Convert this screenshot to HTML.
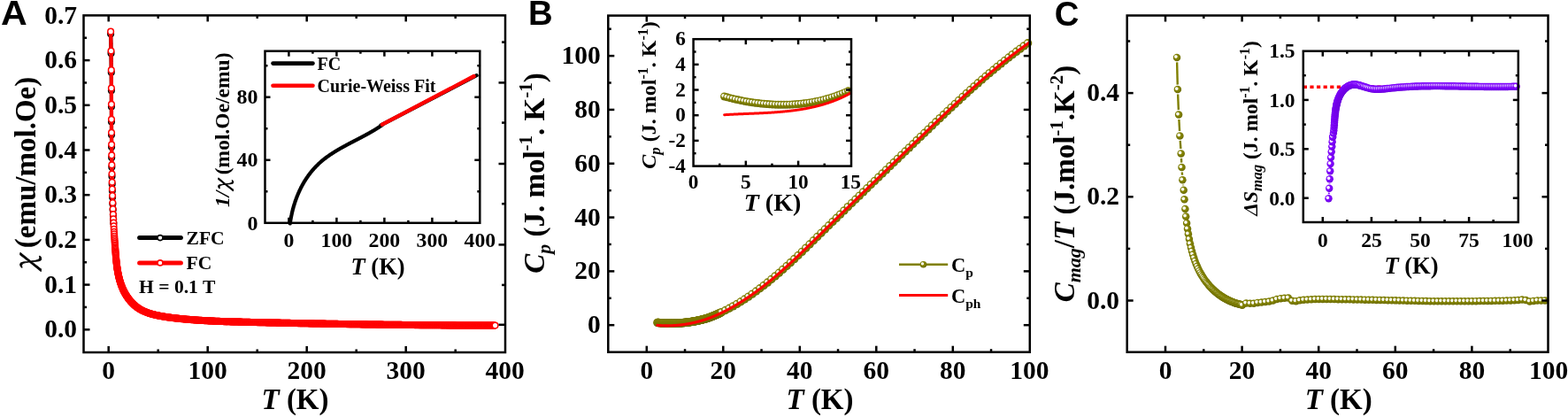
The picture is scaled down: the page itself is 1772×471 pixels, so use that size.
<!DOCTYPE html>
<html><head><meta charset="utf-8"><title>Figure</title>
<style>html,body{margin:0;padding:0;background:#fff;}svg{display:block;}</style></head>
<body><svg width="1772" height="471" viewBox="0 0 1772 471"><defs><radialGradient id="gOl" cx="0.45" cy="0.42" r="0.58">
<stop offset="0" stop-color="#8e8e08"/><stop offset="0.6" stop-color="#808000"/><stop offset="1" stop-color="#686800"/></radialGradient><radialGradient id="gPu" cx="0.45" cy="0.42" r="0.58">
<stop offset="0" stop-color="#8a14ff"/><stop offset="0.6" stop-color="#7f00ff"/><stop offset="1" stop-color="#6a00dc"/></radialGradient><radialGradient id="gHl" cx="0.5" cy="0.5" r="0.5">
<stop offset="0" stop-color="#fff" stop-opacity="1"/><stop offset="0.55" stop-color="#fff" stop-opacity="0.95"/><stop offset="1" stop-color="#fff" stop-opacity="0"/></radialGradient></defs><rect width="1772" height="471" fill="#fff"/><g>
<polyline points="125.11,38.25 125.12,38.66 125.13,39.06 125.14,39.46 125.15,39.87 125.16,40.27 125.17,40.67 125.18,41.08 125.19,41.48 125.2,41.88 125.21,42.29 125.22,42.69 125.23,43.09 125.24,43.49 125.25,43.9 125.25,44.3 125.26,44.7 125.27,45.11 125.28,45.51 125.29,45.91 125.3,46.32 125.31,46.72 125.31,47.12 125.32,47.52 125.33,47.93 125.34,48.33 125.35,48.73 125.35,49.14 125.36,49.54 125.37,49.94 125.38,50.34 125.38,50.75 125.39,51.15 125.4,51.55 125.41,51.95 125.41,52.36 125.42,52.76 125.43,53.16 125.43,53.56 125.44,53.97 125.45,54.37 125.46,54.77 125.46,55.17 125.47,55.58 125.48,55.98 125.48,56.38 125.49,56.78 125.49,57.18 125.5,57.59 125.51,57.99 125.51,58.39 125.52,58.79 125.53,59.19 125.53,59.6 125.54,60 125.54,60.4 125.55,60.8 125.56,61.2 125.56,61.61 125.57,62.01 125.57,62.41 125.58,62.81 125.58,63.21 125.59,63.62 125.59,64.02 125.6,64.42 125.6,64.82 125.61,65.22 125.61,65.62 125.62,66.03 125.62,66.43 125.63,66.83 125.63,67.23 125.64,67.63 125.64,68.03 125.65,68.44 125.65,68.84 125.66,69.24 125.66,69.64 125.67,70.04 125.67,70.44 125.68,70.84 125.68,71.24 125.68,71.65 125.69,72.05 125.69,72.45 125.7,72.85 125.7,73.25 125.71,73.65 125.71,74.05 125.71,74.45 125.72,74.86 125.72,75.26 125.72,75.66 125.73,76.06 125.73,76.46 125.74,76.86 125.74,77.26 125.74,77.66 125.75,78.06 125.75,78.46 125.75,78.87 125.76,79.27 125.76,79.67 125.76,80.07 125.77,80.47 125.77,80.87 125.77,81.27 125.78,81.67 125.78,82.07 125.78,82.47 125.79,82.87 125.79,83.27 125.79,83.67 125.79,84.08 125.8,84.48 125.8,84.88 125.8,85.28 125.8,85.68 125.81,86.08 125.81,86.48 125.81,86.88 125.82,87.28 125.82,87.68 125.82,88.08 125.82,88.48 125.83,88.88 125.83,89.28 125.83,89.68 125.83,90.08 125.83,90.48 125.84,90.88 125.84,91.28 125.84,91.68 125.84,92.08 125.85,92.48 125.85,92.88 125.85,93.28 125.85,93.68 125.85,94.08 125.86,94.48 125.86,94.89 125.86,95.29 125.86,95.69 125.86,96.09 125.86,96.49 125.87,96.89 125.87,97.29 125.87,97.69 125.87,98.09 125.87,98.49 125.87,98.89 125.88,99.29 125.88,99.69 125.88,100.09 125.88,100.49 125.88,100.89 125.88,101.29 125.89,101.69 125.89,102.08 125.89,102.48 125.89,102.88 125.89,103.28 125.89,103.68 125.89,104.08 125.9,104.48 125.9,104.88 125.9,105.28 125.9,105.68 125.9,106.08 125.9,106.48 125.9,106.88 125.9,107.28 125.9,107.68 125.91,108.08 125.91,108.48 125.91,108.88 125.91,109.28 125.91,109.68 125.91,110.08 125.91,110.48 125.91,110.88 125.91,111.28 125.92,111.68 125.92,112.08 125.92,112.48 125.92,112.88 125.92,113.28 125.92,113.67 125.92,114.07 125.92,114.47 125.92,114.87 125.92,115.27 125.93,115.67 125.93,116.07 125.93,116.47 125.93,116.87 125.93,117.27 125.93,117.67 125.93,118.07 125.93,118.47 125.93,118.87 125.93,119.27 125.93,119.67 125.93,120.06 125.94,120.46 125.94,120.86 125.94,121.26 125.94,121.66 125.94,122.06 125.94,122.46 125.94,122.86 125.94,123.26 125.94,123.66 125.94,124.06 125.94,124.46 125.94,124.86 125.94,125.25 125.95,125.65 125.95,126.05 125.95,126.45 125.95,126.85 125.95,127.25 125.95,127.65 125.95,128.05 125.95,128.45 125.95,128.85 125.95,129.25 125.95,129.64 125.95,130.04 125.95,130.44 125.96,130.84 125.96,131.24 125.96,131.64 125.96,132.04 125.96,132.44 125.96,132.84 125.96,133.24 125.96,133.63 125.96,134.03 125.96,134.43 125.96,134.83 125.96,135.23 125.97,135.63 125.97,136.03 125.97,136.43 125.97,136.83 125.97,137.23 125.97,137.62 125.97,138.02 125.97,138.42 125.97,138.82 125.97,139.22 125.98,139.62 125.98,140.02 125.98,140.42 125.98,140.82 125.98,141.21 125.98,141.61 125.98,142.01 125.98,142.41 125.98,142.81 125.99,143.21 125.99,143.61 125.99,144.01 125.99,144.41 125.99,144.8 125.99,145.2 125.99,145.6 125.99,146 125.99,146.4 126,146.8 126,147.2 126,147.6 126,148 126,148.39 126,148.79 126,149.19 126.01,149.59 126.01,149.99 126.01,150.39 126.01,150.79 126.01,151.19 126.01,151.58 126.02,151.98 126.02,152.38 126.02,152.78 126.02,153.18 126.02,153.58 126.02,153.98 126.03,154.38 126.03,154.77 126.03,155.17 126.03,155.57 126.03,155.97 126.04,156.37 126.04,156.77 126.04,157.17 126.04,157.57 126.04,157.97 126.05,158.36 126.05,158.76 126.05,159.16 126.05,159.56 126.05,159.96 126.06,160.36 126.06,160.76 126.06,161.16 126.06,161.55 126.07,161.95 126.07,162.35 126.07,162.75 126.07,163.15 126.08,163.55 126.08,163.95 126.08,164.35 126.08,164.74 126.09,165.14 126.09,165.54 126.09,165.94 126.09,166.34 126.1,166.74 126.1,167.14 126.1,167.54 126.11,167.93 126.11,168.33 126.11,168.73 126.11,169.13 126.12,169.53 126.12,169.93 126.12,170.33 126.13,170.73 126.13,171.13 126.13,171.52 126.14,171.92 126.14,172.32 126.14,172.72 126.15,173.12 126.15,173.52 126.15,173.92 126.16,174.32 126.16,174.71 126.17,175.11 126.17,175.51 126.17,175.91 126.18,176.31 126.18,176.71 126.19,177.11 126.19,177.51 126.19,177.91 126.2,178.3 126.2,178.7 126.21,179.1 126.21,179.5 126.22,179.9 126.22,180.3 126.22,180.7 126.23,181.1 126.23,181.5 126.24,181.9 126.24,182.29 126.25,182.69 126.25,183.09 126.26,183.49 126.26,183.89 126.27,184.29 126.27,184.69 126.28,185.09 126.28,185.49 126.29,185.88 126.29,186.28 126.3,186.68 126.3,187.08 126.31,187.48 126.31,187.88 126.32,188.28 126.33,188.68 126.33,189.08 126.34,189.48 126.34,189.88 126.35,190.27 126.35,190.67 126.36,191.07 126.37,191.47 126.37,191.87 126.38,192.27 126.38,192.67 126.39,193.07 126.4,193.47 126.4,193.87 126.41,194.27 126.42,194.66 126.42,195.06 126.43,195.46 126.44,195.86 126.44,196.26 126.45,196.66 126.46,197.06 126.46,197.46 126.47,197.86 126.48,198.26 126.49,198.66 126.49,199.06 126.5,199.46 126.51,199.86 126.52,200.25 126.52,200.65 126.53,201.05 126.54,201.45 126.55,201.85 126.56,202.25 126.56,202.65 126.57,203.03 126.58,203.41 126.59,203.79 126.6,204.18 126.6,204.56 126.61,204.94 126.62,205.32 126.63,205.71 126.64,206.09 126.65,206.47 126.66,206.85 126.66,207.23 126.67,207.62 126.68,208 126.69,208.38 126.7,208.76 126.71,209.15 126.72,209.53 126.73,209.91 126.74,210.29 126.75,210.67 126.76,211.06 126.77,211.44 126.78,211.82 126.79,212.2 126.8,212.59 126.81,212.97 126.82,213.35 126.83,213.73 126.84,214.12 126.85,214.5 126.86,214.88 126.87,215.26 126.88,215.65 126.89,216.03 126.9,216.41 126.91,216.79 126.93,217.18 126.94,217.56 126.95,217.94 126.96,218.32 126.97,218.71 126.98,219.09 126.99,219.47 127.01,219.85 127.02,220.24 127.03,220.62 127.04,221 127.05,221.39 127.07,221.77 127.08,222.15 127.09,222.53 127.1,222.92 127.12,223.3 127.13,223.68 127.14,224.07 127.15,224.45 127.17,224.83 127.18,225.21 127.19,225.6 127.21,225.98 127.22,226.36 127.23,226.75 127.25,227.13 127.26,227.51 127.27,227.89 127.29,228.28 127.3,228.66 127.32,229.04 127.33,229.43 127.35,229.81 127.36,230.19 127.37,230.58 127.39,230.96 127.4,231.34 127.42,231.73 127.43,232.11 127.45,232.49 127.46,232.88 127.48,233.26 127.49,233.64 127.51,234.02 127.52,234.41 127.54,234.79 127.56,235.17 127.57,235.56 127.59,235.94 127.6,236.33 127.62,236.71 127.64,237.09 127.65,237.48 127.67,237.86 127.69,238.24 127.7,238.63 127.72,239.01 127.74,239.39 127.75,239.78 127.77,240.16 127.79,240.54 127.81,240.93 127.82,241.31 127.84,241.69 127.86,242.08 127.88,242.46 127.89,242.85 127.91,243.23 127.93,243.61 127.95,244 127.97,244.38 127.99,244.77 128,245.15 128.02,245.53 128.04,245.92 128.06,246.3 128.08,246.68 128.1,247.07 128.12,247.45 128.14,247.84 128.16,248.22 128.18,248.61 128.2,248.99 128.22,249.37 128.24,249.76 128.26,250.14 128.28,250.53 128.3,250.91 128.32,251.29 128.34,251.68 128.36,252.06 128.38,252.45 128.4,252.83 128.42,253.22 128.45,253.6 128.47,253.98 128.49,254.37 128.51,254.75 128.53,255.14" fill="none" stroke="#000" stroke-width="4.2" stroke-linejoin="round" stroke-linecap="round" stroke-linecap="butt"/>
<g fill="#fff" stroke="#000" stroke-width="1.5"><circle cx="125.11" cy="38.25" r="3.3"/><circle cx="125.54" cy="60.15" r="3.3"/><circle cx="125.78" cy="81.75" r="3.3"/><circle cx="125.89" cy="102.15" r="3.3"/><circle cx="125.94" cy="120.45" r="3.3"/><circle cx="125.97" cy="137.46" r="3.3"/><circle cx="126.02" cy="152.36" r="3.3"/><circle cx="126.09" cy="165.97" r="3.3"/><circle cx="126.19" cy="177.97" r="3.3"/><circle cx="126.33" cy="188.87" r="3.3"/><circle cx="126.5" cy="199.17" r="3.3"/><circle cx="126.69" cy="208.12" r="3.3"/><circle cx="126.88" cy="215.59" r="3.3"/><circle cx="127.1" cy="222.76" r="3.3"/><circle cx="127.36" cy="230.31" r="3.3"/><circle cx="127.63" cy="237.01" r="3.3"/><circle cx="127.89" cy="242.79" r="3.3"/><circle cx="128.13" cy="247.76" r="3.3"/><circle cx="128.36" cy="251.98" r="3.3"/></g>
<polyline points="125.11,35.65 125.12,36.06 125.13,36.46 125.14,36.86 125.15,37.27 125.16,37.67 125.17,38.07 125.18,38.48 125.19,38.88 125.2,39.28 125.21,39.69 125.22,40.09 125.23,40.49 125.24,40.89 125.25,41.3 125.25,41.7 125.26,42.1 125.27,42.51 125.28,42.91 125.29,43.31 125.3,43.72 125.31,44.12 125.31,44.52 125.32,44.92 125.33,45.33 125.34,45.73 125.35,46.13 125.35,46.54 125.36,46.94 125.37,47.34 125.38,47.74 125.38,48.15 125.39,48.55 125.4,48.95 125.41,49.35 125.41,49.76 125.42,50.16 125.43,50.56 125.43,50.96 125.44,51.37 125.45,51.77 125.46,52.17 125.46,52.57 125.47,52.98 125.48,53.38 125.48,53.78 125.49,54.18 125.49,54.58 125.5,54.99 125.51,55.39 125.51,55.79 125.52,56.19 125.53,56.59 125.53,57 125.54,57.4 125.54,57.8 125.55,58.2 125.56,58.6 125.56,59.01 125.57,59.41 125.57,59.81 125.58,60.21 125.58,60.61 125.59,61.02 125.59,61.42 125.6,61.82 125.6,62.22 125.61,62.62 125.61,63.02 125.62,63.43 125.62,63.83 125.63,64.23 125.63,64.63 125.64,65.03 125.64,65.43 125.65,65.84 125.65,66.24 125.66,66.64 125.66,67.04 125.67,67.44 125.67,67.84 125.68,68.24 125.68,68.64 125.68,69.05 125.69,69.45 125.69,69.85 125.7,70.25 125.7,70.65 125.71,71.05 125.71,71.45 125.71,71.85 125.72,72.26 125.72,72.66 125.72,73.06 125.73,73.46 125.73,73.86 125.74,74.26 125.74,74.66 125.74,75.06 125.75,75.46 125.75,75.86 125.75,76.27 125.76,76.67 125.76,77.07 125.76,77.47 125.77,77.87 125.77,78.27 125.77,78.67 125.78,79.07 125.78,79.47 125.78,79.87 125.79,80.27 125.79,80.67 125.79,81.07 125.79,81.48 125.8,81.88 125.8,82.28 125.8,82.68 125.8,83.08 125.81,83.48 125.81,83.88 125.81,84.28 125.82,84.68 125.82,85.08 125.82,85.48 125.82,85.88 125.83,86.28 125.83,86.68 125.83,87.08 125.83,87.48 125.83,87.88 125.84,88.28 125.84,88.68 125.84,89.08 125.84,89.48 125.85,89.88 125.85,90.28 125.85,90.68 125.85,91.08 125.85,91.48 125.86,91.88 125.86,92.29 125.86,92.69 125.86,93.09 125.86,93.49 125.86,93.89 125.87,94.29 125.87,94.69 125.87,95.09 125.87,95.49 125.87,95.89 125.87,96.29 125.88,96.69 125.88,97.09 125.88,97.49 125.88,97.89 125.88,98.29 125.88,98.69 125.89,99.09 125.89,99.48 125.89,99.88 125.89,100.28 125.89,100.68 125.89,101.08 125.89,101.48 125.9,101.88 125.9,102.28 125.9,102.68 125.9,103.08 125.9,103.48 125.9,103.88 125.9,104.28 125.9,104.68 125.9,105.08 125.91,105.48 125.91,105.88 125.91,106.28 125.91,106.68 125.91,107.08 125.91,107.48 125.91,107.88 125.91,108.28 125.91,108.68 125.92,109.08 125.92,109.48 125.92,109.88 125.92,110.28 125.92,110.68 125.92,111.07 125.92,111.47 125.92,111.87 125.92,112.27 125.92,112.67 125.93,113.07 125.93,113.47 125.93,113.87 125.93,114.27 125.93,114.67 125.93,115.07 125.93,115.47 125.93,115.87 125.93,116.27 125.93,116.67 125.93,117.07 125.93,117.46 125.94,117.86 125.94,118.26 125.94,118.66 125.94,119.06 125.94,119.46 125.94,119.86 125.94,120.26 125.94,120.66 125.94,121.06 125.94,121.46 125.94,121.86 125.94,122.26 125.94,122.65 125.95,123.05 125.95,123.45 125.95,123.85 125.95,124.25 125.95,124.65 125.95,125.05 125.95,125.45 125.95,125.85 125.95,126.25 125.95,126.65 125.95,127.04 125.95,127.44 125.95,127.84 125.96,128.24 125.96,128.64 125.96,129.04 125.96,129.44 125.96,129.84 125.96,130.24 125.96,130.64 125.96,131.03 125.96,131.43 125.96,131.83 125.96,132.23 125.96,132.63 125.97,133.03 125.97,133.43 125.97,133.83 125.97,134.23 125.97,134.63 125.97,135.02 125.97,135.42 125.97,135.82 125.97,136.22 125.97,136.62 125.98,137.02 125.98,137.42 125.98,137.82 125.98,138.22 125.98,138.61 125.98,139.01 125.98,139.41 125.98,139.81 125.98,140.21 125.99,140.61 125.99,141.01 125.99,141.41 125.99,141.81 125.99,142.2 125.99,142.6 125.99,143 125.99,143.4 125.99,143.8 126,144.2 126,144.6 126,145 126,145.4 126,145.79 126,146.19 126,146.59 126.01,146.99 126.01,147.39 126.01,147.79 126.01,148.19 126.01,148.59 126.01,148.98 126.02,149.38 126.02,149.78 126.02,150.18 126.02,150.58 126.02,150.98 126.02,151.38 126.03,151.78 126.03,152.17 126.03,152.57 126.03,152.97 126.03,153.37 126.04,153.77 126.04,154.17 126.04,154.57 126.04,154.97 126.04,155.37 126.05,155.76 126.05,156.16 126.05,156.56 126.05,156.96 126.05,157.36 126.06,157.76 126.06,158.16 126.06,158.56 126.06,158.95 126.07,159.35 126.07,159.75 126.07,160.15 126.07,160.55 126.08,160.95 126.08,161.35 126.08,161.75 126.08,162.14 126.09,162.54 126.09,162.94 126.09,163.34 126.09,163.74 126.1,164.14 126.1,164.54 126.1,164.94 126.11,165.33 126.11,165.73 126.11,166.13 126.11,166.53 126.12,166.93 126.12,167.33 126.12,167.73 126.13,168.13 126.13,168.53 126.13,168.92 126.14,169.32 126.14,169.72 126.14,170.12 126.15,170.52 126.15,170.92 126.15,171.32 126.16,171.72 126.16,172.11 126.17,172.51 126.17,172.91 126.17,173.31 126.18,173.71 126.18,174.11 126.19,174.51 126.19,174.91 126.19,175.31 126.2,175.7 126.2,176.1 126.21,176.5 126.21,176.9 126.22,177.3 126.22,177.7 126.22,178.1 126.23,178.5 126.23,178.9 126.24,179.3 126.24,179.69 126.25,180.09 126.25,180.49 126.26,180.89 126.26,181.29 126.27,181.69 126.27,182.09 126.28,182.49 126.28,182.89 126.29,183.28 126.29,183.68 126.3,184.08 126.3,184.48 126.31,184.88 126.31,185.28 126.32,185.68 126.33,186.08 126.33,186.48 126.34,186.88 126.34,187.28 126.35,187.67 126.35,188.07 126.36,188.47 126.37,188.87 126.37,189.27 126.38,189.67 126.38,190.07 126.39,190.47 126.4,190.87 126.4,191.27 126.41,191.67 126.42,192.06 126.42,192.46 126.43,192.86 126.44,193.26 126.44,193.66 126.45,194.06 126.46,194.46 126.46,194.86 126.47,195.26 126.48,195.66 126.49,196.06 126.49,196.46 126.5,196.86 126.51,197.26 126.52,197.65 126.52,198.05 126.53,198.45 126.54,198.85 126.55,199.25 126.56,199.65 126.56,200.05 126.57,200.45 126.58,200.85 126.59,201.25 126.6,201.65 126.6,202.05 126.61,202.45 126.62,202.85 126.63,203.25 126.64,203.65 126.65,204.05 126.66,204.44 126.66,204.84 126.67,205.24 126.68,205.64 126.69,206.04 126.7,206.44 126.71,206.84 126.72,207.24 126.73,207.64 126.74,208.04 126.75,208.44 126.76,208.84 126.77,209.24 126.78,209.64 126.79,210.04 126.8,210.44 126.81,210.84 126.82,211.24 126.83,211.64 126.84,212.04 126.85,212.44 126.86,212.84 126.87,213.24 126.88,213.64 126.89,214.04 126.9,214.44 126.91,214.84 126.93,215.24 126.94,215.64 126.95,216.04 126.96,216.44 126.97,216.84 126.98,217.24 126.99,217.64 127.01,218.04 127.02,218.44 127.03,218.84 127.04,219.24 127.05,219.64 127.07,220.04 127.08,220.44 127.09,220.84 127.1,221.24 127.12,221.64 127.13,222.04 127.14,222.44 127.15,222.84 127.17,223.24 127.18,223.64 127.19,224.04 127.21,224.44 127.22,224.84 127.23,225.24 127.25,225.64 127.26,226.04 127.27,226.44 127.29,226.84 127.3,227.24 127.32,227.64 127.33,228.04 127.35,228.44 127.36,228.84 127.37,229.24 127.39,229.64 127.4,230.04 127.42,230.44 127.43,230.85 127.45,231.25 127.46,231.65 127.48,232.05 127.49,232.45 127.51,232.85 127.52,233.25 127.54,233.65 127.56,234.05 127.57,234.45 127.59,234.85 127.6,235.25 127.62,235.65 127.64,236.05 127.65,236.46 127.67,236.86 127.69,237.26 127.7,237.66 127.72,238.06 127.74,238.46 127.75,238.86 127.77,239.26 127.79,239.66 127.81,240.06 127.82,240.46 127.84,240.87 127.86,241.27 127.88,241.67 127.89,242.07 127.91,242.47 127.93,242.87 127.95,243.27 127.97,243.67 127.99,244.08 128,244.48 128.02,244.88 128.04,245.28 128.06,245.68 128.08,246.08 128.1,246.48 128.12,246.88 128.14,247.29 128.16,247.69 128.18,248.09 128.2,248.49 128.22,248.89 128.24,249.29 128.26,249.7 128.28,250.1 128.3,250.5 128.32,250.9 128.34,251.3 128.36,251.7 128.38,252.1 128.4,252.51 128.42,252.91 128.45,253.31 128.47,253.71 128.49,254.11 128.51,254.52 128.53,254.92 128.55,255.32 128.58,255.72 128.6,256.12 128.62,256.53 128.64,256.93 128.67,257.33 128.69,257.73 128.71,258.13 128.74,258.54 128.76,258.94 128.78,259.34 128.81,259.74 128.83,260.14 128.85,260.55 128.88,260.95 128.9,261.35 128.92,261.75 128.95,262.16 128.97,262.56 129,262.96 129.02,263.36 129.05,263.77 129.07,264.17 129.1,264.57 129.12,264.97 129.15,265.38 129.17,265.78 129.2,266.18 129.22,266.58 129.25,266.99 129.28,267.39 129.3,267.79 129.33,268.2 129.35,268.6 129.38,269 129.41,269.4 129.43,269.81 129.46,270.21 129.49,270.61 129.52,271.02 129.54,271.42 129.57,271.82 129.6,272.22 129.63,272.63 129.65,273.03 129.68,273.43 129.71,273.84 129.74,274.24 129.77,274.64 129.8,275.05 129.83,275.45 129.86,275.85 129.88,276.26 129.91,276.66 129.94,277.06 129.97,277.47 130,277.87 130.03,278.27 130.06,278.68 130.09,279.08 130.12,279.49 130.15,279.89 130.18,280.29 130.22,280.7 130.25,281.1 130.28,281.5 130.31,281.91 130.34,282.31 130.37,282.72 130.4,283.12 130.44,283.52 130.47,283.93 130.5,284.33 130.53,284.74 130.56,285.14 130.6,285.54 130.63,285.95 130.66,286.35 130.7,286.76 130.73,287.16 130.76,287.57 130.8,287.97 130.83,288.37 130.87,288.78 130.9,289.18 130.94,289.59 130.97,289.99 131.01,290.39 131.05,290.8 131.08,291.2 131.12,291.6 131.16,292.01 131.2,292.41 131.24,292.81 131.27,293.22 131.31,293.62 131.36,294.02 131.4,294.43 131.44,294.83 131.48,295.23 131.52,295.63 131.57,296.03 131.61,296.44 131.66,296.84 131.7,297.24 131.75,297.64 131.8,298.04 131.84,298.44 131.89,298.84 131.94,299.24 131.99,299.64 132.05,300.04 132.1,300.44 132.15,300.84 132.21,301.24 132.26,301.63 132.32,302.03 132.37,302.43 132.43,302.83 132.49,303.22 132.55,303.62 132.61,304.02 132.67,304.41 132.74,304.81 132.8,305.2 132.87,305.6 132.93,305.99 133,306.38 133.07,306.78 133.14,307.17 133.21,307.56 133.29,307.95 133.36,308.34 133.44,308.73 133.51,309.13 133.59,309.51 133.67,309.9 133.75,310.29 133.83,310.68 133.92,311.07 134,311.46 134.09,311.84 134.18,312.23 134.27,312.61 134.36,313 134.45,313.38 134.55,313.77 134.64,314.15 134.74,314.53 134.84,314.91 134.94,315.3 135.04,315.68 135.15,316.06 135.25,316.43 135.36,316.81 135.47,317.19 135.58,317.57 135.69,317.94 135.81,318.32 135.92,318.7 136.04,319.07 136.16,319.44 136.28,319.82 136.41,320.19 136.53,320.56 136.66,320.93 136.79,321.3 136.92,321.67 137.05,322.04 137.19,322.4 137.33,322.77 137.47,323.14 137.61,323.5 137.75,323.87 137.9,324.23 138.05,324.59 138.2,324.95 138.35,325.31 138.5,325.67 138.66,326.03 138.82,326.39 138.98,326.75 139.14,327.1 139.31,327.46 139.48,327.81 139.65,328.16 139.82,328.52 139.99,328.87 140.17,329.22 140.35,329.57 140.53,329.92 140.72,330.26 140.91,330.61 141.1,330.96 141.29,331.3 141.48,331.64 141.68,331.99 141.88,332.33 142.08,332.67 142.29,333.01 142.49,333.34 142.7,333.68 142.92,334.02 143.13,334.35 143.35,334.68 143.57,335.02 143.8,335.35 144.02,335.68 144.25,336.01 144.48,336.33 144.72,336.66 144.95,336.98 145.19,337.31 145.43,337.63 145.68,337.95 145.93,338.26 146.18,338.58 146.43,338.89 146.68,339.21 146.94,339.52 147.2,339.82 147.46,340.13 147.73,340.44 147.99,340.74 148.26,341.04 148.53,341.34 148.81,341.63 149.09,341.93 149.36,342.22 149.65,342.51 149.93,342.79 150.22,343.08 150.51,343.36 150.8,343.64 151.09,343.92 151.39,344.19 151.68,344.46 151.98,344.73 152.29,344.99 152.59,345.26 152.9,345.52 153.21,345.77 153.52,346.03 153.83,346.28 154.15,346.53 154.47,346.77 154.79,347.01 155.11,347.25 155.44,347.48 155.76,347.72 156.09,347.94 156.42,348.17 156.76,348.39 157.09,348.61 157.43,348.82 157.77,349.03 158.11,349.24 158.46,349.44 158.8,349.64 159.15,349.84 159.5,350.03 159.85,350.22 160.2,350.41 160.56,350.59 160.91,350.77 161.27,350.95 161.63,351.12 161.99,351.3 162.36,351.46 162.72,351.63 163.09,351.79 163.46,351.95 163.83,352.11 164.2,352.26 164.57,352.41 164.94,352.56 165.32,352.71 165.69,352.85 166.07,352.99 166.45,353.13 166.83,353.27 167.21,353.4 167.59,353.53 167.97,353.66 168.36,353.79 168.74,353.91 169.13,354.03 169.51,354.15 169.9,354.27 170.29,354.39 170.68,354.5 171.07,354.61 171.46,354.72 171.85,354.83 172.24,354.93 172.63,355.04 173.03,355.14 173.42,355.24 173.81,355.34 174.21,355.44 174.6,355.53 175,355.63 175.39,355.72 175.79,355.81 176.19,355.9 176.58,355.99 176.98,356.07 177.38,356.16 177.77,356.24 178.17,356.32 178.57,356.41 178.97,356.49 179.36,356.57 179.76,356.64 180.16,356.72 180.56,356.8 180.95,356.87 181.35,356.95 181.75,357.02 182.14,357.09 182.54,357.16 182.94,357.23 183.33,357.3 183.73,357.37 184.13,357.44 184.52,357.51 184.92,357.57 185.32,357.64 185.71,357.7 186.11,357.76 186.51,357.83 186.9,357.89 187.3,357.95 187.69,358.01 188.09,358.07 188.49,358.13 188.88,358.19 189.28,358.25 189.67,358.3 190.07,358.36 190.46,358.41 190.86,358.47 191.26,358.52 191.65,358.58 192.05,358.63 192.44,358.68 192.84,358.73 193.24,358.78 193.63,358.83 194.03,358.88 194.42,358.93 194.82,358.98 195.21,359.03 195.61,359.08 196.01,359.13 196.4,359.17 196.8,359.22 197.19,359.27 197.59,359.31 197.99,359.36 198.38,359.4 198.78,359.45 199.17,359.49 199.57,359.54 199.97,359.58 200.36,359.62 200.76,359.67 201.15,359.71 201.55,359.75 201.95,359.79 202.34,359.83 202.74,359.88 203.14,359.92 203.53,359.96 203.93,360 204.33,360.04 204.72,360.08 205.12,360.12 205.52,360.16 205.91,360.2 206.31,360.23 206.71,360.27 207.1,360.31 207.5,360.35 207.9,360.39 208.29,360.42 208.69,360.46 209.09,360.5 209.49,360.53 209.88,360.57 210.28,360.6 210.68,360.64 211.07,360.67 211.47,360.71 211.87,360.74 212.27,360.78 212.66,360.81 213.06,360.85 213.46,360.88 213.86,360.91 214.25,360.94 214.65,360.98 215.05,361.01 215.45,361.04 215.85,361.07 216.24,361.11 216.64,361.14 217.04,361.17 217.44,361.2 217.84,361.23 218.23,361.26 218.63,361.29 219.03,361.32 219.43,361.35 219.83,361.38 220.22,361.41 220.62,361.44 221.02,361.46 221.42,361.49 221.82,361.52 222.22,361.55 222.61,361.58 223.01,361.6 223.41,361.63 223.81,361.66 224.21,361.68 224.61,361.71 225,361.74 225.4,361.76 225.8,361.79 226.2,361.81 226.6,361.84 227,361.86 227.4,361.89 227.8,361.91 228.19,361.94 228.59,361.96 228.99,361.99 229.39,362.01 229.79,362.03 230.19,362.06 230.59,362.08 230.99,362.1 231.39,362.13 231.78,362.15 232.18,362.17 232.58,362.19 232.98,362.22 233.38,362.24 233.78,362.26 234.18,362.28 234.58,362.3 234.98,362.32 235.38,362.34 235.78,362.36 236.18,362.39 236.58,362.41 236.97,362.43 237.37,362.45 237.77,362.47 238.17,362.48 238.57,362.5 238.97,362.52 239.37,362.54 239.77,362.56 240.17,362.58 240.57,362.6 240.97,362.62 241.37,362.64 241.77,362.65 242.17,362.67 242.57,362.69 242.97,362.71 243.37,362.72 243.77,362.74 244.17,362.76 244.57,362.78 244.97,362.79 245.37,362.81 245.77,362.83 246.17,362.84 246.57,362.86 246.97,362.87 247.37,362.89 247.77,362.91 248.17,362.92 248.57,362.94 248.97,362.95 249.37,362.97 249.77,362.98 250.17,363 250.57,363.01 250.97,363.03 251.37,363.04 251.77,363.06 252.17,363.07 252.57,363.08 252.97,363.1 253.37,363.11 253.77,363.13 254.17,363.14 254.57,363.15 254.97,363.17 255.37,363.18 255.77,363.19 256.17,363.21 256.57,363.22 256.97,363.23 257.37,363.25 257.77,363.26 258.17,363.27 258.57,363.28 258.97,363.3 259.37,363.31 259.77,363.32 260.17,363.33 260.57,363.35 260.97,363.36 261.37,363.37 261.77,363.38 262.17,363.39 262.58,363.4 262.98,363.42 263.38,363.43 263.78,363.44 264.18,363.45 264.58,363.46 264.98,363.47 265.38,363.48 265.78,363.5 266.18,363.51 266.58,363.52 266.98,363.53 267.38,363.54 267.78,363.55 268.18,363.56 268.58,363.57 268.98,363.58 269.38,363.59 269.78,363.6 270.19,363.61 270.59,363.62 270.99,363.63 271.39,363.64 271.79,363.65 272.19,363.66 272.59,363.67 272.99,363.68 273.39,363.69 273.79,363.7 274.19,363.71 274.59,363.72 274.99,363.73 275.39,363.74 275.79,363.75 276.19,363.76 276.59,363.77 277,363.78 277.4,363.79 277.8,363.8 278.2,363.81 278.6,363.82 279,363.83 279.4,363.84 279.8,363.85 280.2,363.86 280.6,363.87 281,363.88 281.4,363.89 281.8,363.9 282.2,363.91 282.6,363.91 283,363.92 283.41,363.93 283.81,363.94 284.21,363.95 284.61,363.96 285.01,363.97 285.41,363.98 285.81,363.99 286.21,364 286.61,364.01 287.01,364.02 287.41,364.03 287.81,364.04 288.21,364.05 288.61,364.05 289.01,364.06 289.41,364.07 289.81,364.08 290.21,364.09 290.62,364.1 291.02,364.11 291.42,364.12 291.82,364.13 292.22,364.14 292.62,364.15 293.02,364.16 293.42,364.17 293.82,364.17 294.22,364.18 294.62,364.19 295.02,364.2 295.42,364.21 295.82,364.22 296.22,364.23 296.62,364.24 297.02,364.25 297.42,364.26 297.82,364.26 298.23,364.27 298.63,364.28 299.03,364.29 299.43,364.3 299.83,364.31 300.23,364.32 300.63,364.33 301.03,364.34 301.43,364.35 301.83,364.35 302.23,364.36 302.63,364.37 303.03,364.38 303.43,364.39 303.83,364.4 304.23,364.41 304.63,364.42 305.03,364.43 305.43,364.43 305.83,364.44 306.23,364.45 306.63,364.46 307.04,364.47 307.44,364.48 307.84,364.49 308.24,364.5 308.64,364.51 309.04,364.51 309.44,364.52 309.84,364.53 310.24,364.54 310.64,364.55 311.04,364.56 311.44,364.57 311.84,364.57 312.24,364.58 312.64,364.59 313.04,364.6 313.44,364.61 313.84,364.62 314.24,364.63 314.64,364.64 315.04,364.64 315.44,364.65 315.84,364.66 316.25,364.67 316.65,364.68 317.05,364.69 317.45,364.7 317.85,364.7 318.25,364.71 318.65,364.72 319.05,364.73 319.45,364.74 319.85,364.75 320.25,364.75 320.65,364.76 321.05,364.77 321.45,364.78 321.85,364.79 322.25,364.8 322.65,364.8 323.05,364.81 323.45,364.82 323.85,364.83 324.25,364.84 324.65,364.85 325.05,364.86 325.45,364.86 325.85,364.87 326.25,364.88 326.65,364.89 327.06,364.9 327.46,364.9 327.86,364.91 328.26,364.92 328.66,364.93 329.06,364.94 329.46,364.95 329.86,364.95 330.26,364.96 330.66,364.97 331.06,364.98 331.46,364.99 331.86,364.99 332.26,365 332.66,365.01 333.06,365.02 333.46,365.03 333.86,365.04 334.26,365.04 334.66,365.05 335.06,365.06 335.46,365.07 335.86,365.08 336.26,365.08 336.66,365.09 337.06,365.1 337.46,365.11 337.86,365.12 338.26,365.12 338.66,365.13 339.06,365.14 339.47,365.15 339.87,365.16 340.27,365.16 340.67,365.17 341.07,365.18 341.47,365.19 341.87,365.19 342.27,365.2 342.67,365.21 343.07,365.22 343.47,365.23 343.87,365.23 344.27,365.24 344.67,365.25 345.07,365.26 345.47,365.27 345.87,365.27 346.27,365.28 346.67,365.29 347.07,365.3 347.47,365.3 347.87,365.31 348.27,365.32 348.67,365.33 349.07,365.33 349.47,365.34 349.87,365.35 350.27,365.36 350.67,365.36 351.07,365.37 351.47,365.38 351.87,365.39 352.27,365.4 352.67,365.4 353.07,365.41 353.47,365.42 353.87,365.43 354.28,365.43 354.68,365.44 355.08,365.45 355.48,365.46 355.88,365.46 356.28,365.47 356.68,365.48 357.08,365.49 357.48,365.49 357.88,365.5 358.28,365.51 358.68,365.51 359.08,365.52 359.48,365.53 359.88,365.54 360.28,365.54 360.68,365.55 361.08,365.56 361.48,365.57 361.88,365.57 362.28,365.58 362.68,365.59 363.08,365.6 363.48,365.6 363.88,365.61 364.28,365.62 364.68,365.62 365.08,365.63 365.48,365.64 365.88,365.65 366.28,365.65 366.68,365.66 367.08,365.67 367.48,365.67 367.88,365.68 368.28,365.69 368.68,365.7 369.08,365.7 369.48,365.71 369.88,365.72 370.28,365.72 370.68,365.73 371.08,365.74 371.48,365.75 371.88,365.75 372.28,365.76 372.69,365.77 373.09,365.77 373.49,365.78 373.89,365.79 374.29,365.79 374.69,365.8 375.09,365.81 375.49,365.81 375.89,365.82 376.29,365.83 376.69,365.84 377.09,365.84 377.49,365.85 377.89,365.86 378.29,365.86 378.69,365.87 379.09,365.88 379.49,365.88 379.89,365.89 380.29,365.9 380.69,365.9 381.09,365.91 381.49,365.92 381.89,365.92 382.29,365.93 382.69,365.94 383.09,365.94 383.49,365.95 383.89,365.96 384.29,365.96 384.69,365.97 385.09,365.98 385.49,365.98 385.89,365.99 386.29,366 386.69,366 387.09,366.01 387.49,366.02 387.89,366.02 388.29,366.03 388.69,366.04 389.09,366.04 389.49,366.05 389.89,366.05 390.29,366.06 390.69,366.07 391.09,366.07 391.49,366.08 391.89,366.09 392.29,366.09 392.69,366.1 393.09,366.11 393.49,366.11 393.89,366.12 394.29,366.13 394.69,366.13 395.09,366.14 395.49,366.14 395.9,366.15 396.3,366.16 396.7,366.16 397.1,366.17 397.5,366.18 397.9,366.18 398.3,366.19 398.7,366.19 399.1,366.2 399.5,366.21 399.9,366.21 400.3,366.22 400.7,366.22 401.1,366.23 401.5,366.24 401.9,366.24 402.3,366.25 402.7,366.25 403.1,366.26 403.5,366.27 403.9,366.27 404.3,366.28 404.7,366.29 405.1,366.29 405.5,366.3 405.9,366.3 406.3,366.31 406.7,366.31 407.1,366.32 407.5,366.33 407.9,366.33 408.3,366.34 408.7,366.34 409.1,366.35 409.5,366.36 409.9,366.36 410.3,366.37 410.7,366.37 411.1,366.38 411.5,366.39 411.9,366.39 412.3,366.4 412.7,366.4 413.1,366.41 413.5,366.41 413.9,366.42 414.3,366.43 414.7,366.43 415.1,366.44 415.5,366.44 415.9,366.45 416.3,366.45 416.7,366.46 417.1,366.46 417.5,366.47 417.9,366.48 418.3,366.48 418.7,366.49 419.1,366.49 419.5,366.5 419.9,366.5 420.3,366.51 420.7,366.51 421.1,366.52 421.5,366.53 421.9,366.53 422.3,366.54 422.7,366.54 423.1,366.55 423.51,366.55 423.91,366.56 424.31,366.56 424.71,366.57 425.11,366.57 425.51,366.58 425.91,366.58 426.31,366.59 426.71,366.6 427.11,366.6 427.51,366.61 427.91,366.61 428.31,366.62 428.71,366.62 429.11,366.63 429.51,366.63 429.91,366.64 430.31,366.64 430.71,366.65 431.11,366.65 431.51,366.66 431.91,366.66 432.31,366.67 432.71,366.67 433.11,366.68 433.51,366.68 433.91,366.69 434.31,366.69 434.71,366.7 435.11,366.7 435.51,366.71 435.91,366.71 436.31,366.72 436.71,366.72 437.11,366.73 437.51,366.73 437.91,366.74 438.31,366.74 438.71,366.75 439.11,366.75 439.51,366.76 439.91,366.76 440.31,366.77 440.71,366.77 441.11,366.78 441.51,366.78 441.91,366.79 442.31,366.79 442.71,366.8 443.11,366.8 443.51,366.81 443.91,366.81 444.31,366.82 444.71,366.82 445.11,366.82 445.51,366.83 445.91,366.83 446.31,366.84 446.71,366.84 447.11,366.85 447.51,366.85 447.91,366.86 448.31,366.86 448.71,366.87 449.11,366.87 449.51,366.88 449.91,366.88 450.31,366.88 450.72,366.89 451.12,366.89 451.52,366.9 451.92,366.9 452.32,366.91 452.72,366.91 453.12,366.92 453.52,366.92 453.92,366.92 454.32,366.93 454.72,366.93 455.12,366.94 455.52,366.94 455.92,366.95 456.32,366.95 456.72,366.95 457.12,366.96 457.52,366.96 457.92,366.97 458.32,366.97 458.72,366.98 459.12,366.98 459.52,366.98 459.92,366.99 460.32,366.99 460.72,367 461.12,367 461.52,367.01 461.92,367.01 462.32,367.01 462.72,367.02 463.12,367.02 463.52,367.03 463.92,367.03 464.32,367.03 464.72,367.04 465.12,367.04 465.52,367.05 465.92,367.05 466.32,367.05 466.72,367.06 467.12,367.06 467.52,367.07 467.92,367.07 468.32,367.07 468.72,367.08 469.12,367.08 469.52,367.08 469.92,367.09 470.32,367.09 470.72,367.1 471.12,367.1 471.52,367.1 471.92,367.11 472.32,367.11 472.72,367.11 473.13,367.12 473.53,367.12 473.93,367.13 474.33,367.13 474.73,367.13 475.13,367.14 475.53,367.14 475.93,367.14 476.33,367.15 476.73,367.15 477.13,367.16 477.53,367.16 477.93,367.16 478.33,367.17 478.73,367.17 479.13,367.17 479.53,367.18 479.93,367.18 480.33,367.18 480.73,367.19 481.13,367.19 481.53,367.19 481.93,367.2 482.33,367.2 482.73,367.2 483.13,367.21 483.53,367.21 483.93,367.21 484.33,367.22 484.73,367.22 485.13,367.22 485.53,367.23 485.93,367.23 486.33,367.23 486.73,367.24 487.13,367.24 487.53,367.24 487.93,367.25 488.33,367.25 488.73,367.25 489.13,367.26 489.53,367.26 489.93,367.26 490.33,367.27 490.74,367.27 491.14,367.27 491.54,367.27 491.94,367.28 492.34,367.28 492.74,367.28 493.14,367.29 493.54,367.29 493.94,367.29 494.34,367.3 494.74,367.3 495.14,367.3 495.54,367.3 495.94,367.31 496.34,367.31 496.74,367.31 497.14,367.32 497.54,367.32 497.94,367.32 498.34,367.32 498.74,367.33 499.14,367.33 499.54,367.33 499.94,367.34 500.34,367.34 500.74,367.34 501.14,367.34 501.54,367.35 501.94,367.35 502.34,367.35 502.74,367.35 503.14,367.36 503.54,367.36 503.94,367.36 504.34,367.36 504.74,367.37 505.15,367.37 505.55,367.37 505.95,367.37 506.35,367.38 506.75,367.38 507.15,367.38 507.55,367.38 507.95,367.39 508.35,367.39 508.75,367.39 509.15,367.39 509.55,367.4 509.95,367.4 510.35,367.4 510.75,367.4 511.15,367.41 511.55,367.41 511.95,367.41 512.35,367.41 512.75,367.42 513.15,367.42 513.55,367.42 513.95,367.42 514.35,367.42 514.75,367.43 515.15,367.43 515.55,367.43 515.95,367.43 516.35,367.44 516.75,367.44 517.15,367.44 517.56,367.44 517.96,367.44 518.36,367.45 518.76,367.45 519.16,367.45 519.56,367.45 519.96,367.45 520.36,367.46 520.76,367.46 521.16,367.46 521.56,367.46 521.96,367.46 522.36,367.47 522.76,367.47 523.16,367.47 523.56,367.47 523.96,367.47 524.36,367.47 524.76,367.48 525.16,367.48 525.56,367.48 525.96,367.48 526.36,367.48 526.76,367.49 527.16,367.49 527.56,367.49 527.97,367.49 528.37,367.49 528.77,367.49 529.17,367.5 529.57,367.5 529.97,367.5 530.37,367.5 530.77,367.5 531.17,367.5 531.57,367.51 531.97,367.51 532.37,367.51 532.77,367.51 533.17,367.51 533.57,367.51 533.97,367.51 534.37,367.52 534.77,367.52 535.17,367.52 535.57,367.52 535.97,367.52 536.37,367.52 536.77,367.52 537.18,367.53 537.58,367.53 537.98,367.53 538.38,367.53 538.78,367.53 539.18,367.53 539.58,367.53 539.98,367.53 540.38,367.54 540.78,367.54 541.18,367.54 541.58,367.54 541.98,367.54 542.38,367.54 542.78,367.54 543.18,367.54 543.58,367.55 543.98,367.55 544.38,367.55 544.78,367.55 545.18,367.55 545.59,367.55 545.99,367.55 546.39,367.55 546.79,367.55 547.19,367.55 547.59,367.56 547.99,367.56 548.39,367.56 548.79,367.56 549.19,367.56 549.59,367.56 549.99,367.56 550.39,367.56 550.79,367.56 551.19,367.56 551.59,367.56 551.99,367.56 552.39,367.57 552.79,367.57 553.2,367.57 553.6,367.57 554,367.57 554.4,367.57 554.8,367.57 555.2,367.57 555.6,367.57 556,367.57 556.4,367.57 556.8,367.57 557.2,367.57 557.6,367.57 558,367.57 558.4,367.57 558.8,367.57 559.2,367.58 559.6,367.58" fill="none" stroke="#ff0000" stroke-width="4.2" stroke-linejoin="round" stroke-linecap="round" />
<g fill="#fff" stroke="#ff0000" stroke-width="1.5"><circle cx="125.11" cy="35.65" r="3.3"/><circle cx="125.54" cy="57.55" r="3.3"/><circle cx="125.78" cy="79.15" r="3.3"/><circle cx="125.89" cy="99.55" r="3.3"/><circle cx="125.94" cy="117.85" r="3.3"/><circle cx="125.97" cy="134.86" r="3.3"/><circle cx="126.02" cy="149.76" r="3.3"/><circle cx="126.09" cy="163.37" r="3.3"/><circle cx="126.19" cy="175.37" r="3.3"/><circle cx="126.33" cy="186.27" r="3.3"/><circle cx="126.5" cy="196.57" r="3.3"/><circle cx="126.69" cy="205.77" r="3.3"/><circle cx="126.88" cy="213.57" r="3.3"/><circle cx="127.1" cy="221.07" r="3.3"/><circle cx="127.36" cy="228.97" r="3.3"/><circle cx="127.63" cy="235.97" r="3.3"/><circle cx="127.89" cy="242.01" r="3.3"/><circle cx="128.13" cy="247.2" r="3.3"/><circle cx="128.36" cy="251.62" r="3.3"/><circle cx="128.56" cy="255.42" r="3.3"/><circle cx="128.75" cy="258.78" r="3.3"/><circle cx="128.92" cy="261.75" r="3.3"/><circle cx="129.08" cy="264.38" r="3.3"/><circle cx="129.24" cy="266.8" r="3.3"/><circle cx="129.38" cy="269.05" r="3.3"/><circle cx="129.52" cy="271.14" r="3.3"/><circle cx="129.66" cy="273.07" r="3.3"/><circle cx="129.78" cy="274.87" r="3.3"/><circle cx="129.9" cy="276.53" r="3.3"/><circle cx="130.02" cy="278.08" r="3.3"/><circle cx="130.13" cy="279.51" r="3.3"/><circle cx="130.23" cy="280.85" r="3.3"/><circle cx="130.33" cy="282.12" r="3.3"/><circle cx="130.42" cy="283.36" r="3.3"/><circle cx="130.52" cy="284.58" r="3.3"/><circle cx="130.61" cy="285.76" r="3.3"/><circle cx="130.71" cy="286.91" r="3.3"/><circle cx="130.8" cy="288.03" r="3.3"/><circle cx="130.9" cy="289.13" r="3.3"/><circle cx="130.99" cy="290.2" r="3.3"/><circle cx="131.09" cy="291.24" r="3.3"/><circle cx="131.18" cy="292.25" r="3.3"/><circle cx="131.28" cy="293.24" r="3.3"/><circle cx="131.37" cy="294.2" r="3.3"/><circle cx="131.47" cy="295.14" r="3.3"/><circle cx="131.57" cy="296.06" r="3.3"/><circle cx="131.67" cy="296.95" r="3.3"/><circle cx="131.77" cy="297.82" r="3.3"/><circle cx="131.87" cy="298.67" r="3.3"/><circle cx="131.98" cy="299.5" r="3.3"/><circle cx="132.08" cy="300.3" r="3.3"/><circle cx="132.17" cy="301" r="3.3"/><circle cx="132.27" cy="301.69" r="3.3"/><circle cx="132.37" cy="302.39" r="3.3"/><circle cx="132.47" cy="303.08" r="3.3"/><circle cx="132.57" cy="303.77" r="3.3"/><circle cx="132.68" cy="304.46" r="3.3"/><circle cx="132.79" cy="305.15" r="3.3"/><circle cx="132.91" cy="305.84" r="3.3"/><circle cx="133.03" cy="306.53" r="3.3"/><circle cx="133.15" cy="307.22" r="3.3"/><circle cx="133.28" cy="307.91" r="3.3"/><circle cx="133.41" cy="308.6" r="3.3"/><circle cx="133.55" cy="309.28" r="3.3"/><circle cx="133.69" cy="309.97" r="3.3"/><circle cx="133.83" cy="310.66" r="3.3"/><circle cx="133.98" cy="311.34" r="3.3"/><circle cx="134.13" cy="312.02" r="3.3"/><circle cx="134.29" cy="312.7" r="3.3"/><circle cx="134.45" cy="313.39" r="3.3"/><circle cx="134.62" cy="314.06" r="3.3"/><circle cx="134.79" cy="314.74" r="3.3"/><circle cx="134.97" cy="315.42" r="3.3"/><circle cx="135.16" cy="316.1" r="3.3"/><circle cx="135.35" cy="316.77" r="3.3"/><circle cx="135.54" cy="317.44" r="3.3"/><circle cx="135.74" cy="318.11" r="3.3"/><circle cx="135.95" cy="318.78" r="3.3"/><circle cx="136.16" cy="319.45" r="3.3"/><circle cx="136.38" cy="320.11" r="3.3"/><circle cx="136.61" cy="320.78" r="3.3"/><circle cx="136.84" cy="321.44" r="3.3"/><circle cx="137.07" cy="322.09" r="3.3"/><circle cx="137.32" cy="322.75" r="3.3"/><circle cx="137.57" cy="323.4" r="3.3"/><circle cx="137.83" cy="324.05" r="3.3"/><circle cx="138.09" cy="324.7" r="3.3"/><circle cx="138.36" cy="325.35" r="3.3"/><circle cx="138.64" cy="325.99" r="3.3"/><circle cx="138.93" cy="326.63" r="3.3"/><circle cx="139.22" cy="327.27" r="3.3"/><circle cx="139.52" cy="327.9" r="3.3"/><circle cx="139.82" cy="328.53" r="3.3"/><circle cx="140.14" cy="329.15" r="3.3"/><circle cx="140.46" cy="329.78" r="3.3"/><circle cx="140.79" cy="330.39" r="3.3"/><circle cx="141.12" cy="331.01" r="3.3"/><circle cx="141.47" cy="331.62" r="3.3"/><circle cx="141.82" cy="332.22" r="3.3"/><circle cx="142.18" cy="332.82" r="3.3"/><circle cx="142.54" cy="333.42" r="3.3"/><circle cx="142.92" cy="334.01" r="3.3"/><circle cx="143.3" cy="334.6" r="3.3"/><circle cx="143.68" cy="335.18" r="3.3"/><circle cx="144.08" cy="335.76" r="3.3"/><circle cx="144.48" cy="336.33" r="3.3"/><circle cx="144.89" cy="336.9" r="3.3"/><circle cx="145.31" cy="337.46" r="3.3"/><circle cx="145.74" cy="338.02" r="3.3"/><circle cx="146.17" cy="338.57" r="3.3"/><circle cx="146.61" cy="339.11" r="3.3"/><circle cx="147.05" cy="339.65" r="3.3"/><circle cx="147.51" cy="340.19" r="3.3"/><circle cx="147.97" cy="340.71" r="3.3"/><circle cx="148.44" cy="341.23" r="3.3"/><circle cx="148.91" cy="341.75" r="3.3"/><circle cx="149.4" cy="342.25" r="3.3"/><circle cx="149.89" cy="342.75" r="3.3"/><circle cx="150.39" cy="343.24" r="3.3"/><circle cx="150.89" cy="343.73" r="3.3"/><circle cx="151.4" cy="344.21" r="3.3"/><circle cx="151.92" cy="344.67" r="3.3"/><circle cx="152.45" cy="345.13" r="3.3"/><circle cx="152.98" cy="345.59" r="3.3"/><circle cx="153.52" cy="346.03" r="3.3"/><circle cx="154.07" cy="346.47" r="3.3"/><circle cx="154.63" cy="346.89" r="3.3"/><circle cx="155.19" cy="347.31" r="3.3"/><circle cx="155.76" cy="347.71" r="3.3"/><circle cx="156.34" cy="348.11" r="3.3"/><circle cx="156.92" cy="348.5" r="3.3"/><circle cx="157.51" cy="348.87" r="3.3"/><circle cx="158.11" cy="349.24" r="3.3"/><circle cx="158.71" cy="349.59" r="3.3"/><circle cx="159.32" cy="349.94" r="3.3"/><circle cx="159.94" cy="350.27" r="3.3"/><circle cx="160.56" cy="350.59" r="3.3"/><circle cx="161.19" cy="350.91" r="3.3"/><circle cx="161.82" cy="351.21" r="3.3"/><circle cx="162.45" cy="351.51" r="3.3"/><circle cx="163.09" cy="351.79" r="3.3"/><circle cx="163.73" cy="352.07" r="3.3"/><circle cx="164.38" cy="352.34" r="3.3"/><circle cx="165.03" cy="352.6" r="3.3"/><circle cx="165.68" cy="352.85" r="3.3"/><circle cx="166.34" cy="353.09" r="3.3"/><circle cx="167" cy="353.33" r="3.3"/><circle cx="167.66" cy="353.56" r="3.3"/><circle cx="168.32" cy="353.78" r="3.3"/><circle cx="168.99" cy="353.99" r="3.3"/><circle cx="169.66" cy="354.2" r="3.3"/><circle cx="170.33" cy="354.4" r="3.3"/><circle cx="171" cy="354.59" r="3.3"/><circle cx="171.68" cy="354.78" r="3.3"/><circle cx="172.35" cy="354.96" r="3.3"/><circle cx="173.03" cy="355.14" r="3.3"/><circle cx="173.71" cy="355.31" r="3.3"/><circle cx="174.39" cy="355.48" r="3.3"/><circle cx="175.07" cy="355.64" r="3.3"/><circle cx="175.75" cy="355.8" r="3.3"/><circle cx="176.43" cy="355.95" r="3.3"/><circle cx="177.12" cy="356.1" r="3.3"/><circle cx="177.8" cy="356.25" r="3.3"/><circle cx="178.49" cy="356.39" r="3.3"/><circle cx="179.17" cy="356.53" r="3.3"/><circle cx="179.86" cy="356.66" r="3.3"/><circle cx="180.55" cy="356.8" r="3.3"/><circle cx="181.24" cy="356.93" r="3.3"/><circle cx="181.92" cy="357.05" r="3.3"/><circle cx="182.61" cy="357.18" r="3.3"/><circle cx="183.3" cy="357.3" r="3.3"/><circle cx="183.99" cy="357.42" r="3.3"/><circle cx="184.68" cy="357.53" r="3.3"/><circle cx="185.37" cy="357.65" r="3.3"/><circle cx="186.06" cy="357.76" r="3.3"/><circle cx="186.76" cy="357.87" r="3.3"/><circle cx="187.45" cy="357.97" r="3.3"/><circle cx="188.14" cy="358.08" r="3.3"/><circle cx="188.83" cy="358.18" r="3.3"/><circle cx="189.53" cy="358.28" r="3.3"/><circle cx="190.22" cy="358.38" r="3.3"/><circle cx="190.91" cy="358.48" r="3.3"/><circle cx="191.61" cy="358.57" r="3.3"/><circle cx="192.3" cy="358.66" r="3.3"/><circle cx="192.99" cy="358.75" r="3.3"/><circle cx="193.69" cy="358.84" r="3.3"/><circle cx="194.38" cy="358.93" r="3.3"/><circle cx="195.08" cy="359.02" r="3.3"/><circle cx="195.77" cy="359.1" r="3.3"/><circle cx="196.47" cy="359.18" r="3.3"/><circle cx="197.16" cy="359.26" r="3.3"/><circle cx="197.86" cy="359.34" r="3.3"/><circle cx="198.55" cy="359.42" r="3.3"/><circle cx="199.25" cy="359.5" r="3.3"/><circle cx="199.94" cy="359.58" r="3.3"/><circle cx="200.64" cy="359.65" r="3.3"/><circle cx="201.34" cy="359.73" r="3.3"/><circle cx="202.03" cy="359.8" r="3.3"/><circle cx="202.73" cy="359.87" r="3.3"/><circle cx="203.42" cy="359.95" r="3.3"/><circle cx="204.12" cy="360.02" r="3.3"/><circle cx="204.82" cy="360.09" r="3.3"/><circle cx="205.51" cy="360.16" r="3.3"/><circle cx="206.21" cy="360.22" r="3.3"/><circle cx="206.91" cy="360.29" r="3.3"/><circle cx="207.6" cy="360.36" r="3.3"/><circle cx="208.3" cy="360.42" r="3.3"/><circle cx="209" cy="360.49" r="3.3"/><circle cx="209.7" cy="360.55" r="3.3"/><circle cx="210.39" cy="360.61" r="3.3"/><circle cx="211.09" cy="360.68" r="3.3"/><circle cx="211.79" cy="360.74" r="3.3"/><circle cx="212.48" cy="360.8" r="3.3"/><circle cx="213.18" cy="360.86" r="3.3"/><circle cx="213.88" cy="360.91" r="3.3"/><circle cx="214.58" cy="360.97" r="3.3"/><circle cx="215.28" cy="361.03" r="3.3"/><circle cx="215.97" cy="361.08" r="3.3"/><circle cx="216.67" cy="361.14" r="3.3"/><circle cx="217.37" cy="361.19" r="3.3"/><circle cx="218.07" cy="361.25" r="3.3"/><circle cx="218.76" cy="361.3" r="3.3"/><circle cx="219.46" cy="361.35" r="3.3"/><circle cx="220.16" cy="361.4" r="3.3"/><circle cx="220.86" cy="361.45" r="3.3"/><circle cx="221.56" cy="361.5" r="3.3"/><circle cx="222.26" cy="361.55" r="3.3"/><circle cx="222.95" cy="361.6" r="3.3"/><circle cx="223.65" cy="361.65" r="3.3"/><circle cx="224.35" cy="361.69" r="3.3"/><circle cx="225.05" cy="361.74" r="3.3"/><circle cx="225.75" cy="361.79" r="3.3"/><circle cx="226.45" cy="361.83" r="3.3"/><circle cx="227.15" cy="361.87" r="3.3"/><circle cx="227.84" cy="361.92" r="3.3"/><circle cx="228.54" cy="361.96" r="3.3"/><circle cx="229.24" cy="362" r="3.3"/><circle cx="229.94" cy="362.04" r="3.3"/><circle cx="230.64" cy="362.08" r="3.3"/><circle cx="231.34" cy="362.12" r="3.3"/><circle cx="232.04" cy="362.16" r="3.3"/><circle cx="232.74" cy="362.2" r="3.3"/><circle cx="233.43" cy="362.24" r="3.3"/><circle cx="234.13" cy="362.28" r="3.3"/><circle cx="234.83" cy="362.32" r="3.3"/><circle cx="235.53" cy="362.35" r="3.3"/><circle cx="236.23" cy="362.39" r="3.3"/><circle cx="236.93" cy="362.42" r="3.3"/><circle cx="237.63" cy="362.46" r="3.3"/><circle cx="238.33" cy="362.49" r="3.3"/><circle cx="239.03" cy="362.53" r="3.3"/><circle cx="239.73" cy="362.56" r="3.3"/><circle cx="240.43" cy="362.59" r="3.3"/><circle cx="241.12" cy="362.62" r="3.3"/><circle cx="241.82" cy="362.66" r="3.3"/><circle cx="242.52" cy="362.69" r="3.3"/><circle cx="243.22" cy="362.72" r="3.3"/><circle cx="243.92" cy="362.75" r="3.3"/><circle cx="244.62" cy="362.78" r="3.3"/><circle cx="245.32" cy="362.81" r="3.3"/><circle cx="246.02" cy="362.84" r="3.3"/><circle cx="246.72" cy="362.86" r="3.3"/><circle cx="247.42" cy="362.89" r="3.3"/><circle cx="248.12" cy="362.92" r="3.3"/><circle cx="248.82" cy="362.95" r="3.3"/><circle cx="249.52" cy="362.97" r="3.3"/><circle cx="250.22" cy="363" r="3.3"/><circle cx="250.92" cy="363.02" r="3.3"/><circle cx="251.62" cy="363.05" r="3.3"/><circle cx="252.32" cy="363.08" r="3.3"/><circle cx="253.02" cy="363.1" r="3.3"/><circle cx="253.71" cy="363.12" r="3.3"/><circle cx="254.41" cy="363.15" r="3.3"/><circle cx="255.11" cy="363.17" r="3.3"/><circle cx="255.81" cy="363.2" r="3.3"/><circle cx="256.51" cy="363.22" r="3.3"/><circle cx="257.21" cy="363.24" r="3.3"/><circle cx="257.91" cy="363.26" r="3.3"/><circle cx="258.61" cy="363.29" r="3.3"/><circle cx="259.31" cy="363.31" r="3.3"/><circle cx="260.01" cy="363.33" r="3.3"/><circle cx="260.71" cy="363.35" r="3.3"/><circle cx="261.41" cy="363.37" r="3.3"/><circle cx="262.11" cy="363.39" r="3.3"/><circle cx="262.81" cy="363.41" r="3.3"/><circle cx="263.51" cy="363.43" r="3.3"/><circle cx="264.21" cy="363.45" r="3.3"/><circle cx="264.91" cy="363.47" r="3.3"/><circle cx="265.61" cy="363.49" r="3.3"/><circle cx="266.31" cy="363.51" r="3.3"/><circle cx="267.01" cy="363.53" r="3.3"/><circle cx="267.71" cy="363.55" r="3.3"/><circle cx="268.41" cy="363.57" r="3.3"/><circle cx="269.11" cy="363.58" r="3.3"/><circle cx="269.81" cy="363.6" r="3.3"/><circle cx="270.51" cy="363.62" r="3.3"/><circle cx="271.21" cy="363.64" r="3.3"/><circle cx="271.91" cy="363.66" r="3.3"/><circle cx="272.61" cy="363.67" r="3.3"/><circle cx="273.31" cy="363.69" r="3.3"/><circle cx="274.01" cy="363.71" r="3.3"/><circle cx="274.71" cy="363.73" r="3.3"/><circle cx="275.41" cy="363.74" r="3.3"/><circle cx="276.11" cy="363.76" r="3.3"/><circle cx="276.81" cy="363.78" r="3.3"/><circle cx="277.51" cy="363.79" r="3.3"/><circle cx="278.21" cy="363.81" r="3.3"/><circle cx="278.9" cy="363.83" r="3.3"/><circle cx="279.6" cy="363.84" r="3.3"/><circle cx="280.3" cy="363.86" r="3.3"/><circle cx="281" cy="363.88" r="3.3"/><circle cx="281.7" cy="363.89" r="3.3"/><circle cx="282.4" cy="363.91" r="3.3"/><circle cx="283.1" cy="363.93" r="3.3"/><circle cx="283.8" cy="363.94" r="3.3"/><circle cx="284.5" cy="363.96" r="3.3"/><circle cx="285.2" cy="363.98" r="3.3"/><circle cx="285.9" cy="363.99" r="3.3"/><circle cx="286.6" cy="364.01" r="3.3"/><circle cx="287.3" cy="364.02" r="3.3"/><circle cx="288" cy="364.04" r="3.3"/><circle cx="288.7" cy="364.06" r="3.3"/><circle cx="289.4" cy="364.07" r="3.3"/><circle cx="290.1" cy="364.09" r="3.3"/><circle cx="290.8" cy="364.11" r="3.3"/><circle cx="291.5" cy="364.12" r="3.3"/><circle cx="292.2" cy="364.14" r="3.3"/><circle cx="292.9" cy="364.15" r="3.3"/><circle cx="293.6" cy="364.17" r="3.3"/><circle cx="294.3" cy="364.19" r="3.3"/><circle cx="295" cy="364.2" r="3.3"/><circle cx="295.7" cy="364.22" r="3.3"/><circle cx="296.4" cy="364.23" r="3.3"/><circle cx="297.1" cy="364.25" r="3.3"/><circle cx="297.8" cy="364.26" r="3.3"/><circle cx="298.5" cy="364.28" r="3.3"/><circle cx="299.2" cy="364.3" r="3.3"/><circle cx="299.9" cy="364.31" r="3.3"/><circle cx="300.6" cy="364.33" r="3.3"/><circle cx="301.3" cy="364.34" r="3.3"/><circle cx="302" cy="364.36" r="3.3"/><circle cx="302.7" cy="364.37" r="3.3"/><circle cx="303.4" cy="364.39" r="3.3"/><circle cx="304.1" cy="364.41" r="3.3"/><circle cx="304.8" cy="364.42" r="3.3"/><circle cx="305.5" cy="364.44" r="3.3"/><circle cx="306.2" cy="364.45" r="3.3"/><circle cx="306.9" cy="364.47" r="3.3"/><circle cx="307.6" cy="364.48" r="3.3"/><circle cx="308.3" cy="364.5" r="3.3"/><circle cx="309" cy="364.51" r="3.3"/><circle cx="309.7" cy="364.53" r="3.3"/><circle cx="310.4" cy="364.54" r="3.3"/><circle cx="311.1" cy="364.56" r="3.3"/><circle cx="311.8" cy="364.57" r="3.3"/><circle cx="312.5" cy="364.59" r="3.3"/><circle cx="313.2" cy="364.6" r="3.3"/><circle cx="313.9" cy="364.62" r="3.3"/><circle cx="314.6" cy="364.63" r="3.3"/><circle cx="315.3" cy="364.65" r="3.3"/><circle cx="316" cy="364.66" r="3.3"/><circle cx="316.7" cy="364.68" r="3.3"/><circle cx="317.4" cy="364.69" r="3.3"/><circle cx="318.09" cy="364.71" r="3.3"/><circle cx="318.79" cy="364.72" r="3.3"/><circle cx="319.49" cy="364.74" r="3.3"/><circle cx="320.19" cy="364.75" r="3.3"/><circle cx="320.89" cy="364.77" r="3.3"/><circle cx="321.59" cy="364.78" r="3.3"/><circle cx="322.29" cy="364.8" r="3.3"/><circle cx="322.99" cy="364.81" r="3.3"/><circle cx="323.69" cy="364.83" r="3.3"/><circle cx="324.39" cy="364.84" r="3.3"/><circle cx="325.09" cy="364.86" r="3.3"/><circle cx="325.79" cy="364.87" r="3.3"/><circle cx="326.49" cy="364.88" r="3.3"/><circle cx="327.19" cy="364.9" r="3.3"/><circle cx="327.89" cy="364.91" r="3.3"/><circle cx="328.59" cy="364.93" r="3.3"/><circle cx="329.29" cy="364.94" r="3.3"/><circle cx="329.99" cy="364.96" r="3.3"/><circle cx="330.69" cy="364.97" r="3.3"/><circle cx="331.39" cy="364.99" r="3.3"/><circle cx="332.09" cy="365" r="3.3"/><circle cx="332.79" cy="365.01" r="3.3"/><circle cx="333.49" cy="365.03" r="3.3"/><circle cx="334.19" cy="365.04" r="3.3"/><circle cx="334.89" cy="365.06" r="3.3"/><circle cx="335.59" cy="365.07" r="3.3"/><circle cx="336.29" cy="365.08" r="3.3"/><circle cx="336.99" cy="365.1" r="3.3"/><circle cx="337.69" cy="365.11" r="3.3"/><circle cx="338.39" cy="365.13" r="3.3"/><circle cx="339.09" cy="365.14" r="3.3"/><circle cx="339.79" cy="365.15" r="3.3"/><circle cx="340.49" cy="365.17" r="3.3"/><circle cx="341.19" cy="365.18" r="3.3"/><circle cx="341.89" cy="365.2" r="3.3"/><circle cx="342.59" cy="365.21" r="3.3"/><circle cx="343.29" cy="365.22" r="3.3"/><circle cx="343.99" cy="365.24" r="3.3"/><circle cx="344.69" cy="365.25" r="3.3"/><circle cx="345.39" cy="365.26" r="3.3"/><circle cx="346.09" cy="365.28" r="3.3"/><circle cx="346.79" cy="365.29" r="3.3"/><circle cx="347.49" cy="365.3" r="3.3"/><circle cx="348.19" cy="365.32" r="3.3"/><circle cx="348.89" cy="365.33" r="3.3"/><circle cx="349.59" cy="365.34" r="3.3"/><circle cx="350.29" cy="365.36" r="3.3"/><circle cx="350.99" cy="365.37" r="3.3"/><circle cx="351.69" cy="365.38" r="3.3"/><circle cx="352.39" cy="365.4" r="3.3"/><circle cx="353.09" cy="365.41" r="3.3"/><circle cx="353.79" cy="365.42" r="3.3"/><circle cx="354.49" cy="365.44" r="3.3"/><circle cx="355.19" cy="365.45" r="3.3"/><circle cx="355.89" cy="365.46" r="3.3"/><circle cx="356.59" cy="365.48" r="3.3"/><circle cx="357.29" cy="365.49" r="3.3"/><circle cx="357.99" cy="365.5" r="3.3"/><circle cx="358.69" cy="365.52" r="3.3"/><circle cx="359.39" cy="365.53" r="3.3"/><circle cx="360.09" cy="365.54" r="3.3"/><circle cx="360.79" cy="365.55" r="3.3"/><circle cx="361.49" cy="365.57" r="3.3"/><circle cx="362.19" cy="365.58" r="3.3"/><circle cx="362.89" cy="365.59" r="3.3"/><circle cx="363.59" cy="365.6" r="3.3"/><circle cx="364.29" cy="365.62" r="3.3"/><circle cx="364.99" cy="365.63" r="3.3"/><circle cx="365.69" cy="365.64" r="3.3"/><circle cx="366.39" cy="365.65" r="3.3"/><circle cx="367.09" cy="365.67" r="3.3"/><circle cx="367.79" cy="365.68" r="3.3"/><circle cx="368.49" cy="365.69" r="3.3"/><circle cx="369.19" cy="365.7" r="3.3"/><circle cx="369.89" cy="365.72" r="3.3"/><circle cx="370.59" cy="365.73" r="3.3"/><circle cx="371.28" cy="365.74" r="3.3"/><circle cx="371.98" cy="365.75" r="3.3"/><circle cx="372.68" cy="365.77" r="3.3"/><circle cx="373.38" cy="365.78" r="3.3"/><circle cx="374.08" cy="365.79" r="3.3"/><circle cx="374.78" cy="365.8" r="3.3"/><circle cx="375.48" cy="365.81" r="3.3"/><circle cx="376.18" cy="365.83" r="3.3"/><circle cx="376.88" cy="365.84" r="3.3"/><circle cx="377.58" cy="365.85" r="3.3"/><circle cx="378.28" cy="365.86" r="3.3"/><circle cx="378.98" cy="365.87" r="3.3"/><circle cx="379.68" cy="365.89" r="3.3"/><circle cx="380.38" cy="365.9" r="3.3"/><circle cx="381.08" cy="365.91" r="3.3"/><circle cx="381.78" cy="365.92" r="3.3"/><circle cx="382.48" cy="365.93" r="3.3"/><circle cx="383.18" cy="365.94" r="3.3"/><circle cx="383.88" cy="365.96" r="3.3"/><circle cx="384.58" cy="365.97" r="3.3"/><circle cx="385.28" cy="365.98" r="3.3"/><circle cx="385.98" cy="365.99" r="3.3"/><circle cx="386.68" cy="366" r="3.3"/><circle cx="387.38" cy="366.01" r="3.3"/><circle cx="388.08" cy="366.03" r="3.3"/><circle cx="388.78" cy="366.04" r="3.3"/><circle cx="389.48" cy="366.05" r="3.3"/><circle cx="390.18" cy="366.06" r="3.3"/><circle cx="390.88" cy="366.07" r="3.3"/><circle cx="391.58" cy="366.08" r="3.3"/><circle cx="392.28" cy="366.09" r="3.3"/><circle cx="392.98" cy="366.1" r="3.3"/><circle cx="393.68" cy="366.12" r="3.3"/><circle cx="394.38" cy="366.13" r="3.3"/><circle cx="395.08" cy="366.14" r="3.3"/><circle cx="395.78" cy="366.15" r="3.3"/><circle cx="396.48" cy="366.16" r="3.3"/><circle cx="397.18" cy="366.17" r="3.3"/><circle cx="397.88" cy="366.18" r="3.3"/><circle cx="398.58" cy="366.19" r="3.3"/><circle cx="399.28" cy="366.2" r="3.3"/><circle cx="399.98" cy="366.21" r="3.3"/><circle cx="400.68" cy="366.22" r="3.3"/><circle cx="401.38" cy="366.23" r="3.3"/><circle cx="402.08" cy="366.25" r="3.3"/><circle cx="402.78" cy="366.26" r="3.3"/><circle cx="403.48" cy="366.27" r="3.3"/><circle cx="404.18" cy="366.28" r="3.3"/><circle cx="404.88" cy="366.29" r="3.3"/><circle cx="405.58" cy="366.3" r="3.3"/><circle cx="406.28" cy="366.31" r="3.3"/><circle cx="406.98" cy="366.32" r="3.3"/><circle cx="407.68" cy="366.33" r="3.3"/><circle cx="408.38" cy="366.34" r="3.3"/><circle cx="409.08" cy="366.35" r="3.3"/><circle cx="409.78" cy="366.36" r="3.3"/><circle cx="410.48" cy="366.37" r="3.3"/><circle cx="411.18" cy="366.38" r="3.3"/><circle cx="411.88" cy="366.39" r="3.3"/><circle cx="412.58" cy="366.4" r="3.3"/><circle cx="413.28" cy="366.41" r="3.3"/><circle cx="413.98" cy="366.42" r="3.3"/><circle cx="414.68" cy="366.43" r="3.3"/><circle cx="415.38" cy="366.44" r="3.3"/><circle cx="416.08" cy="366.45" r="3.3"/><circle cx="416.78" cy="366.46" r="3.3"/><circle cx="417.48" cy="366.47" r="3.3"/><circle cx="418.18" cy="366.48" r="3.3"/><circle cx="418.88" cy="366.49" r="3.3"/><circle cx="419.58" cy="366.5" r="3.3"/><circle cx="420.28" cy="366.51" r="3.3"/><circle cx="420.98" cy="366.52" r="3.3"/><circle cx="421.68" cy="366.53" r="3.3"/><circle cx="422.38" cy="366.54" r="3.3"/><circle cx="423.08" cy="366.55" r="3.3"/><circle cx="423.78" cy="366.56" r="3.3"/><circle cx="424.48" cy="366.57" r="3.3"/><circle cx="425.18" cy="366.58" r="3.3"/><circle cx="425.88" cy="366.58" r="3.3"/><circle cx="426.58" cy="366.59" r="3.3"/><circle cx="427.28" cy="366.6" r="3.3"/><circle cx="427.98" cy="366.61" r="3.3"/><circle cx="428.68" cy="366.62" r="3.3"/><circle cx="429.38" cy="366.63" r="3.3"/><circle cx="430.08" cy="366.64" r="3.3"/><circle cx="430.78" cy="366.65" r="3.3"/><circle cx="431.48" cy="366.66" r="3.3"/><circle cx="432.18" cy="366.67" r="3.3"/><circle cx="432.88" cy="366.68" r="3.3"/><circle cx="433.58" cy="366.68" r="3.3"/><circle cx="434.28" cy="366.69" r="3.3"/><circle cx="434.98" cy="366.7" r="3.3"/><circle cx="435.68" cy="366.71" r="3.3"/><circle cx="436.38" cy="366.72" r="3.3"/><circle cx="437.08" cy="366.73" r="3.3"/><circle cx="437.78" cy="366.74" r="3.3"/><circle cx="438.48" cy="366.75" r="3.3"/><circle cx="439.18" cy="366.75" r="3.3"/><circle cx="439.88" cy="366.76" r="3.3"/><circle cx="440.58" cy="366.77" r="3.3"/><circle cx="441.28" cy="366.78" r="3.3"/><circle cx="441.98" cy="366.79" r="3.3"/><circle cx="442.68" cy="366.8" r="3.3"/><circle cx="443.38" cy="366.8" r="3.3"/><circle cx="444.08" cy="366.81" r="3.3"/><circle cx="444.78" cy="366.82" r="3.3"/><circle cx="445.48" cy="366.83" r="3.3"/><circle cx="446.18" cy="366.84" r="3.3"/><circle cx="446.88" cy="366.85" r="3.3"/><circle cx="447.58" cy="366.85" r="3.3"/><circle cx="448.28" cy="366.86" r="3.3"/><circle cx="448.98" cy="366.87" r="3.3"/><circle cx="449.68" cy="366.88" r="3.3"/><circle cx="450.38" cy="366.89" r="3.3"/><circle cx="451.08" cy="366.89" r="3.3"/><circle cx="451.78" cy="366.9" r="3.3"/><circle cx="452.48" cy="366.91" r="3.3"/><circle cx="453.18" cy="366.92" r="3.3"/><circle cx="453.88" cy="366.92" r="3.3"/><circle cx="454.58" cy="366.93" r="3.3"/><circle cx="455.28" cy="366.94" r="3.3"/><circle cx="455.98" cy="366.95" r="3.3"/><circle cx="456.68" cy="366.95" r="3.3"/><circle cx="457.38" cy="366.96" r="3.3"/><circle cx="458.08" cy="366.97" r="3.3"/><circle cx="458.78" cy="366.98" r="3.3"/><circle cx="459.48" cy="366.98" r="3.3"/><circle cx="460.18" cy="366.99" r="3.3"/><circle cx="460.88" cy="367" r="3.3"/><circle cx="461.58" cy="367.01" r="3.3"/><circle cx="462.28" cy="367.01" r="3.3"/><circle cx="462.98" cy="367.02" r="3.3"/><circle cx="463.68" cy="367.03" r="3.3"/><circle cx="464.38" cy="367.03" r="3.3"/><circle cx="465.08" cy="367.04" r="3.3"/><circle cx="465.78" cy="367.05" r="3.3"/><circle cx="466.48" cy="367.06" r="3.3"/><circle cx="467.18" cy="367.06" r="3.3"/><circle cx="467.88" cy="367.07" r="3.3"/><circle cx="468.58" cy="367.08" r="3.3"/><circle cx="469.28" cy="367.08" r="3.3"/><circle cx="469.98" cy="367.09" r="3.3"/><circle cx="470.68" cy="367.1" r="3.3"/><circle cx="471.38" cy="367.1" r="3.3"/><circle cx="472.08" cy="367.11" r="3.3"/><circle cx="472.78" cy="367.12" r="3.3"/><circle cx="473.48" cy="367.12" r="3.3"/><circle cx="474.18" cy="367.13" r="3.3"/><circle cx="474.88" cy="367.13" r="3.3"/><circle cx="475.58" cy="367.14" r="3.3"/><circle cx="476.28" cy="367.15" r="3.3"/><circle cx="476.98" cy="367.15" r="3.3"/><circle cx="477.68" cy="367.16" r="3.3"/><circle cx="478.38" cy="367.17" r="3.3"/><circle cx="479.08" cy="367.17" r="3.3"/><circle cx="479.78" cy="367.18" r="3.3"/><circle cx="480.48" cy="367.18" r="3.3"/><circle cx="481.17" cy="367.19" r="3.3"/><circle cx="481.87" cy="367.2" r="3.3"/><circle cx="482.57" cy="367.2" r="3.3"/><circle cx="483.27" cy="367.21" r="3.3"/><circle cx="483.97" cy="367.21" r="3.3"/><circle cx="484.67" cy="367.22" r="3.3"/><circle cx="485.37" cy="367.23" r="3.3"/><circle cx="486.07" cy="367.23" r="3.3"/><circle cx="486.77" cy="367.24" r="3.3"/><circle cx="487.47" cy="367.24" r="3.3"/><circle cx="488.17" cy="367.25" r="3.3"/><circle cx="488.87" cy="367.25" r="3.3"/><circle cx="489.57" cy="367.26" r="3.3"/><circle cx="490.27" cy="367.26" r="3.3"/><circle cx="490.97" cy="367.27" r="3.3"/><circle cx="491.67" cy="367.28" r="3.3"/><circle cx="492.37" cy="367.28" r="3.3"/><circle cx="493.07" cy="367.29" r="3.3"/><circle cx="493.77" cy="367.29" r="3.3"/><circle cx="494.47" cy="367.3" r="3.3"/><circle cx="495.17" cy="367.3" r="3.3"/><circle cx="495.87" cy="367.31" r="3.3"/><circle cx="496.57" cy="367.31" r="3.3"/><circle cx="497.27" cy="367.32" r="3.3"/><circle cx="497.97" cy="367.32" r="3.3"/><circle cx="498.67" cy="367.33" r="3.3"/><circle cx="499.37" cy="367.33" r="3.3"/><circle cx="500.07" cy="367.34" r="3.3"/><circle cx="500.77" cy="367.34" r="3.3"/><circle cx="501.47" cy="367.35" r="3.3"/><circle cx="502.17" cy="367.35" r="3.3"/><circle cx="502.87" cy="367.35" r="3.3"/><circle cx="503.57" cy="367.36" r="3.3"/><circle cx="504.27" cy="367.36" r="3.3"/><circle cx="504.97" cy="367.37" r="3.3"/><circle cx="505.67" cy="367.37" r="3.3"/><circle cx="506.37" cy="367.38" r="3.3"/><circle cx="507.07" cy="367.38" r="3.3"/><circle cx="507.77" cy="367.39" r="3.3"/><circle cx="508.47" cy="367.39" r="3.3"/><circle cx="509.17" cy="367.39" r="3.3"/><circle cx="509.87" cy="367.4" r="3.3"/><circle cx="510.57" cy="367.4" r="3.3"/><circle cx="511.27" cy="367.41" r="3.3"/><circle cx="511.97" cy="367.41" r="3.3"/><circle cx="512.67" cy="367.42" r="3.3"/><circle cx="513.37" cy="367.42" r="3.3"/><circle cx="514.07" cy="367.42" r="3.3"/><circle cx="514.77" cy="367.43" r="3.3"/><circle cx="515.47" cy="367.43" r="3.3"/><circle cx="516.17" cy="367.43" r="3.3"/><circle cx="516.87" cy="367.44" r="3.3"/><circle cx="517.57" cy="367.44" r="3.3"/><circle cx="518.27" cy="367.45" r="3.3"/><circle cx="518.97" cy="367.45" r="3.3"/><circle cx="519.67" cy="367.45" r="3.3"/><circle cx="520.37" cy="367.46" r="3.3"/><circle cx="521.07" cy="367.46" r="3.3"/><circle cx="521.77" cy="367.46" r="3.3"/><circle cx="522.47" cy="367.47" r="3.3"/><circle cx="523.17" cy="367.47" r="3.3"/><circle cx="523.87" cy="367.47" r="3.3"/><circle cx="524.57" cy="367.48" r="3.3"/><circle cx="525.27" cy="367.48" r="3.3"/><circle cx="525.97" cy="367.48" r="3.3"/><circle cx="526.67" cy="367.49" r="3.3"/><circle cx="527.37" cy="367.49" r="3.3"/><circle cx="528.07" cy="367.49" r="3.3"/><circle cx="528.77" cy="367.49" r="3.3"/><circle cx="529.47" cy="367.5" r="3.3"/><circle cx="530.17" cy="367.5" r="3.3"/><circle cx="530.87" cy="367.5" r="3.3"/><circle cx="531.57" cy="367.51" r="3.3"/><circle cx="532.27" cy="367.51" r="3.3"/><circle cx="532.97" cy="367.51" r="3.3"/><circle cx="533.67" cy="367.51" r="3.3"/><circle cx="534.37" cy="367.52" r="3.3"/><circle cx="535.07" cy="367.52" r="3.3"/><circle cx="535.77" cy="367.52" r="3.3"/><circle cx="536.47" cy="367.52" r="3.3"/><circle cx="537.17" cy="367.53" r="3.3"/><circle cx="537.87" cy="367.53" r="3.3"/><circle cx="538.57" cy="367.53" r="3.3"/><circle cx="539.27" cy="367.53" r="3.3"/><circle cx="539.97" cy="367.53" r="3.3"/><circle cx="540.67" cy="367.54" r="3.3"/><circle cx="541.37" cy="367.54" r="3.3"/><circle cx="542.07" cy="367.54" r="3.3"/><circle cx="542.77" cy="367.54" r="3.3"/><circle cx="543.47" cy="367.54" r="3.3"/><circle cx="544.17" cy="367.55" r="3.3"/><circle cx="544.87" cy="367.55" r="3.3"/><circle cx="545.57" cy="367.55" r="3.3"/><circle cx="546.27" cy="367.55" r="3.3"/><circle cx="546.97" cy="367.55" r="3.3"/><circle cx="547.67" cy="367.56" r="3.3"/><circle cx="548.37" cy="367.56" r="3.3"/><circle cx="549.07" cy="367.56" r="3.3"/><circle cx="549.77" cy="367.56" r="3.3"/><circle cx="550.47" cy="367.56" r="3.3"/><circle cx="551.17" cy="367.56" r="3.3"/><circle cx="551.87" cy="367.56" r="3.3"/><circle cx="552.57" cy="367.57" r="3.3"/><circle cx="553.27" cy="367.57" r="3.3"/><circle cx="553.97" cy="367.57" r="3.3"/><circle cx="554.67" cy="367.57" r="3.3"/><circle cx="555.37" cy="367.57" r="3.3"/><circle cx="556.07" cy="367.57" r="3.3"/><circle cx="556.77" cy="367.57" r="3.3"/><circle cx="557.47" cy="367.57" r="3.3"/><circle cx="558.17" cy="367.57" r="3.3"/><circle cx="558.87" cy="367.58" r="3.3"/><circle cx="559.57" cy="367.58" r="3.3"/></g>
</g>
<rect x="94.5" y="17.4" width="476.5" height="380.6" fill="none" stroke="#000" stroke-width="2.5" stroke-linejoin="miter"/>
<line x1="122.7" y1="398" x2="122.7" y2="391" stroke="#000" stroke-width="2.5" stroke-linecap="butt"/>
<line x1="122.7" y1="17.4" x2="122.7" y2="24.4" stroke="#000" stroke-width="2.5" stroke-linecap="butt"/>
<line x1="234.7" y1="398" x2="234.7" y2="391" stroke="#000" stroke-width="2.5" stroke-linecap="butt"/>
<line x1="234.7" y1="17.4" x2="234.7" y2="24.4" stroke="#000" stroke-width="2.5" stroke-linecap="butt"/>
<line x1="346.7" y1="398" x2="346.7" y2="391" stroke="#000" stroke-width="2.5" stroke-linecap="butt"/>
<line x1="346.7" y1="17.4" x2="346.7" y2="24.4" stroke="#000" stroke-width="2.5" stroke-linecap="butt"/>
<line x1="458.7" y1="398" x2="458.7" y2="391" stroke="#000" stroke-width="2.5" stroke-linecap="butt"/>
<line x1="458.7" y1="17.4" x2="458.7" y2="24.4" stroke="#000" stroke-width="2.5" stroke-linecap="butt"/>
<line x1="178.7" y1="398" x2="178.7" y2="394.5" stroke="#000" stroke-width="2.5" stroke-linecap="butt"/>
<line x1="178.7" y1="17.4" x2="178.7" y2="20.9" stroke="#000" stroke-width="2.5" stroke-linecap="butt"/>
<line x1="290.7" y1="398" x2="290.7" y2="394.5" stroke="#000" stroke-width="2.5" stroke-linecap="butt"/>
<line x1="290.7" y1="17.4" x2="290.7" y2="20.9" stroke="#000" stroke-width="2.5" stroke-linecap="butt"/>
<line x1="402.7" y1="398" x2="402.7" y2="394.5" stroke="#000" stroke-width="2.5" stroke-linecap="butt"/>
<line x1="402.7" y1="17.4" x2="402.7" y2="20.9" stroke="#000" stroke-width="2.5" stroke-linecap="butt"/>
<line x1="514.7" y1="398" x2="514.7" y2="394.5" stroke="#000" stroke-width="2.5" stroke-linecap="butt"/>
<line x1="514.7" y1="17.4" x2="514.7" y2="20.9" stroke="#000" stroke-width="2.5" stroke-linecap="butt"/>
<line x1="94.5" y1="372.3" x2="101.5" y2="372.3" stroke="#000" stroke-width="2.5" stroke-linecap="butt"/>
<line x1="94.5" y1="321.6" x2="101.5" y2="321.6" stroke="#000" stroke-width="2.5" stroke-linecap="butt"/>
<line x1="94.5" y1="270.9" x2="101.5" y2="270.9" stroke="#000" stroke-width="2.5" stroke-linecap="butt"/>
<line x1="94.5" y1="220.2" x2="101.5" y2="220.2" stroke="#000" stroke-width="2.5" stroke-linecap="butt"/>
<line x1="94.5" y1="169.5" x2="101.5" y2="169.5" stroke="#000" stroke-width="2.5" stroke-linecap="butt"/>
<line x1="94.5" y1="118.8" x2="101.5" y2="118.8" stroke="#000" stroke-width="2.5" stroke-linecap="butt"/>
<line x1="94.5" y1="68.1" x2="101.5" y2="68.1" stroke="#000" stroke-width="2.5" stroke-linecap="butt"/>
<line x1="94.5" y1="346.95" x2="98" y2="346.95" stroke="#000" stroke-width="2.5" stroke-linecap="butt"/>
<line x1="94.5" y1="296.25" x2="98" y2="296.25" stroke="#000" stroke-width="2.5" stroke-linecap="butt"/>
<line x1="94.5" y1="245.55" x2="98" y2="245.55" stroke="#000" stroke-width="2.5" stroke-linecap="butt"/>
<line x1="94.5" y1="194.85" x2="98" y2="194.85" stroke="#000" stroke-width="2.5" stroke-linecap="butt"/>
<line x1="94.5" y1="144.15" x2="98" y2="144.15" stroke="#000" stroke-width="2.5" stroke-linecap="butt"/>
<line x1="94.5" y1="93.45" x2="98" y2="93.45" stroke="#000" stroke-width="2.5" stroke-linecap="butt"/>
<line x1="94.5" y1="42.75" x2="98" y2="42.75" stroke="#000" stroke-width="2.5" stroke-linecap="butt"/>
<line x1="571" y1="93.4" x2="563.5" y2="93.4" stroke="#000" stroke-width="2.5" stroke-linecap="butt"/>
<line x1="571" y1="185" x2="563.5" y2="185" stroke="#000" stroke-width="2.5" stroke-linecap="butt"/>
<line x1="571" y1="276.4" x2="563.5" y2="276.4" stroke="#000" stroke-width="2.5" stroke-linecap="butt"/>
<line x1="571" y1="366.8" x2="563.5" y2="366.8" stroke="#000" stroke-width="2.5" stroke-linecap="butt"/>
<line x1="571" y1="47.6" x2="567" y2="47.6" stroke="#000" stroke-width="2.5" stroke-linecap="butt"/>
<line x1="571" y1="138.6" x2="567" y2="138.6" stroke="#000" stroke-width="2.5" stroke-linecap="butt"/>
<line x1="571" y1="230.2" x2="567" y2="230.2" stroke="#000" stroke-width="2.5" stroke-linecap="butt"/>
<line x1="571" y1="321.9" x2="567" y2="321.9" stroke="#000" stroke-width="2.5" stroke-linecap="butt"/>
<text x="122.7" y="428.2" font-family="'Liberation Serif', 'Times New Roman', serif" font-size="29.5" font-weight="bold" text-anchor="middle" >0</text>
<text x="234.7" y="428.2" font-family="'Liberation Serif', 'Times New Roman', serif" font-size="29.5" font-weight="bold" text-anchor="middle" >100</text>
<text x="346.7" y="428.2" font-family="'Liberation Serif', 'Times New Roman', serif" font-size="29.5" font-weight="bold" text-anchor="middle" >200</text>
<text x="458.7" y="428.2" font-family="'Liberation Serif', 'Times New Roman', serif" font-size="29.5" font-weight="bold" text-anchor="middle" >300</text>
<text x="570.7" y="428.2" font-family="'Liberation Serif', 'Times New Roman', serif" font-size="29.5" font-weight="bold" text-anchor="middle" >400</text>
<text x="87" y="381.4" font-family="'Liberation Serif', 'Times New Roman', serif" font-size="29.5" font-weight="bold" text-anchor="end" >0.0</text>
<text x="87" y="330.7" font-family="'Liberation Serif', 'Times New Roman', serif" font-size="29.5" font-weight="bold" text-anchor="end" >0.1</text>
<text x="87" y="280" font-family="'Liberation Serif', 'Times New Roman', serif" font-size="29.5" font-weight="bold" text-anchor="end" >0.2</text>
<text x="87" y="229.3" font-family="'Liberation Serif', 'Times New Roman', serif" font-size="29.5" font-weight="bold" text-anchor="end" >0.3</text>
<text x="87" y="178.6" font-family="'Liberation Serif', 'Times New Roman', serif" font-size="29.5" font-weight="bold" text-anchor="end" >0.4</text>
<text x="87" y="127.9" font-family="'Liberation Serif', 'Times New Roman', serif" font-size="29.5" font-weight="bold" text-anchor="end" >0.5</text>
<text x="87" y="77.2" font-family="'Liberation Serif', 'Times New Roman', serif" font-size="29.5" font-weight="bold" text-anchor="end" >0.6</text>
<text x="87" y="26.5" font-family="'Liberation Serif', 'Times New Roman', serif" font-size="29.5" font-weight="bold" text-anchor="end" >0.7</text>
<text x="333.5" y="462.3" font-family="'Liberation Serif', 'Times New Roman', serif" font-size="33" font-weight="bold" text-anchor="middle" ><tspan font-style="italic">T</tspan> (K)</text>
<text x="0" y="0" transform="translate(39.5,196.5) rotate(-90)" font-family="'Liberation Serif', 'Times New Roman', serif" font-size="33" font-weight="bold" text-anchor="middle" ><tspan font-style="italic"><tspan font-family="'Noto Serif CJK SC', serif" font-weight="normal" stroke="#000" stroke-width="0.7">χ</tspan></tspan> (emu/mol.Oe)</text>
<line x1="157.6" y1="268.6" x2="204.4" y2="268.6" stroke="#000" stroke-width="5" stroke-linecap="round"/>
<g fill="#fff" stroke="#000" stroke-width="1.6"><circle cx="181" cy="268.6" r="3"/></g>
<line x1="157.6" y1="296.9" x2="204.4" y2="296.9" stroke="#ff0000" stroke-width="5" stroke-linecap="round"/>
<g fill="#fff" stroke="#ff0000" stroke-width="1.6"><circle cx="181" cy="296.9" r="3"/></g>
<text x="210.5" y="275.8" font-family="'Liberation Serif', 'Times New Roman', serif" font-size="21.6" font-weight="bold" text-anchor="start" >ZFC</text>
<text x="210.5" y="304.2" font-family="'Liberation Serif', 'Times New Roman', serif" font-size="21.6" font-weight="bold" text-anchor="start" >FC</text>
<text x="157" y="331.4" font-family="'Liberation Serif', 'Times New Roman', serif" font-size="21.6" font-weight="bold" text-anchor="start" >H = 0.1 T</text>
<text x="0" y="0" font-family="'Liberation Sans', Arial, sans-serif" font-size="38.3" font-weight="bold" text-anchor="start" transform="translate(0.9,28.4) scale(1.075,1)">A</text>
<rect x="299.5" y="57.7" width="242.8" height="194.1" fill="#fff"/>
<polyline points="327.79,252.39 327.84,251.98 327.91,251.56 327.97,251.15 328.03,250.73 328.09,250.31 328.16,249.9 328.23,249.48 328.29,249.07 328.36,248.66 328.43,248.24 328.5,247.83 328.58,247.42 328.65,247.01 328.72,246.59 328.8,246.18 328.88,245.77 328.95,245.36 329.03,244.95 329.11,244.54 329.19,244.13 329.28,243.72 329.36,243.32 329.45,242.91 329.53,242.5 329.62,242.09 329.71,241.69 329.8,241.28 329.89,240.88 329.98,240.47 330.07,240.07 330.17,239.66 330.26,239.26 330.36,238.86 330.46,238.45 330.56,238.05 330.66,237.65 330.76,237.25 330.86,236.85 330.96,236.45 331.07,236.05 331.18,235.65 331.28,235.25 331.39,234.86 331.5,234.46 331.61,234.06 331.72,233.67 331.84,233.27 331.95,232.88 332.07,232.48 332.18,232.09 332.3,231.69 332.42,231.3 332.54,230.91 332.66,230.52 332.78,230.13 332.91,229.74 333.03,229.35 333.16,228.96 333.29,228.57 333.41,228.18 333.54,227.8 333.67,227.41 333.81,227.02 333.94,226.64 334.07,226.25 334.21,225.87 334.35,225.49 334.48,225.1 334.62,224.72 334.76,224.34 334.9,223.96 335.05,223.58 335.19,223.2 335.34,222.82 335.48,222.45 335.63,222.07 335.78,221.69 335.93,221.32 336.08,220.94 336.23,220.57 336.38,220.19 336.54,219.82 336.69,219.45 336.85,219.08 337.01,218.71 337.17,218.34 337.33,217.97 337.49,217.6 337.65,217.23 337.82,216.87 337.98,216.5 338.15,216.14 338.32,215.77 338.49,215.41 338.66,215.04 338.83,214.68 339,214.32 339.17,213.96 339.35,213.6 339.53,213.24 339.7,212.88 339.88,212.53 340.06,212.17 340.24,211.81 340.42,211.46 340.61,211.1 340.79,210.75 340.98,210.4 341.16,210.05 341.35,209.7 341.54,209.35 341.73,209 341.92,208.65 342.12,208.3 342.31,207.96 342.51,207.61 342.7,207.27 342.9,206.92 343.1,206.58 343.3,206.24 343.5,205.9 343.7,205.56 343.91,205.22 344.11,204.88 344.32,204.54 344.53,204.21 344.74,203.87 344.95,203.54 345.16,203.2 345.37,202.87 345.58,202.54 345.8,202.21 346.01,201.88 346.23,201.55 346.45,201.22 346.67,200.9 346.89,200.57 347.11,200.24 347.34,199.92 347.56,199.6 347.79,199.28 348.01,198.95 348.24,198.63 348.47,198.32 348.7,198 348.93,197.68 349.17,197.37 349.4,197.05 349.64,196.74 349.87,196.42 350.11,196.11 350.35,195.8 350.59,195.49 350.83,195.18 351.08,194.88 351.32,194.57 351.57,194.26 351.81,193.96 352.06,193.66 352.31,193.35 352.56,193.05 352.81,192.75 353.07,192.45 353.32,192.16 353.58,191.86 353.83,191.56 354.09,191.27 354.35,190.98 354.61,190.68 354.87,190.39 355.13,190.1 355.4,189.81 355.66,189.52 355.93,189.24 356.2,188.95 356.47,188.67 356.74,188.39 357.01,188.1 357.28,187.82 357.55,187.54 357.83,187.26 358.11,186.99 358.38,186.71 358.66,186.44 358.94,186.16 359.22,185.89 359.51,185.62 359.79,185.35 360.08,185.08 360.36,184.81 360.65,184.54 360.94,184.28 361.23,184.02 361.52,183.75 361.81,183.49 362.11,183.23 362.4,182.97 362.7,182.71 363,182.46 363.3,182.2 363.6,181.95 363.9,181.69 364.2,181.44 364.5,181.19 364.81,180.94 365.11,180.69 365.42,180.44 365.73,180.2 366.03,179.95 366.34,179.71 366.66,179.46 366.97,179.22 367.28,178.98 367.6,178.74 367.91,178.5 368.23,178.26 368.54,178.03 368.86,177.79 369.18,177.55 369.5,177.32 369.82,177.09 370.14,176.85 370.47,176.62 370.79,176.39 371.12,176.16 371.44,175.93 371.77,175.71 372.1,175.48 372.42,175.25 372.75,175.03 373.08,174.8 373.41,174.58 373.75,174.36 374.08,174.14 374.41,173.92 374.75,173.7 375.08,173.48 375.42,173.26 375.75,173.04 376.09,172.82 376.43,172.61 376.77,172.39 377.11,172.18 377.45,171.96 377.79,171.75 378.13,171.54 378.47,171.33 378.81,171.12 379.16,170.91 379.5,170.7 379.84,170.49 380.19,170.28 380.54,170.07 380.88,169.86 381.23,169.66 381.58,169.45 381.92,169.25 382.27,169.04 382.62,168.84 382.97,168.63 383.32,168.43 383.67,168.23 384.03,168.03 384.38,167.82 384.73,167.62 385.08,167.42 385.44,167.22 385.79,167.02 386.14,166.83 386.5,166.63 386.85,166.43 387.21,166.23 387.56,166.03 387.92,165.84 388.28,165.64 388.63,165.45 388.99,165.25 389.35,165.06 389.7,164.86 390.06,164.67 390.42,164.47 390.78,164.28 391.14,164.09 391.5,163.89 391.86,163.7 392.22,163.51 392.58,163.32 392.94,163.13 393.3,162.93 393.66,162.74 394.02,162.55 394.38,162.36 394.74,162.17 395.1,161.98 395.46,161.79 395.82,161.6 396.19,161.41 396.55,161.22 396.91,161.03 397.27,160.84 397.63,160.66 398,160.47 398.36,160.28 398.72,160.09 399.08,159.9 399.44,159.71 399.81,159.53 400.17,159.34 400.53,159.15 400.89,158.96 401.26,158.77 401.62,158.59 401.98,158.4 402.34,158.21 402.7,158.02 403.07,157.84 403.43,157.65 403.79,157.46 404.15,157.27 404.51,157.09 404.87,156.9 405.24,156.71 405.6,156.52 405.96,156.33 406.32,156.15 406.68,155.96 407.04,155.77 407.4,155.58 407.76,155.39 408.12,155.2 408.48,155.02 408.84,154.83 409.19,154.64 409.55,154.45 409.91,154.26 410.27,154.07 410.63,153.88 410.98,153.69 411.34,153.5 411.7,153.31 412.05,153.12 412.41,152.93 412.76,152.74 413.12,152.54 413.47,152.35 413.83,152.16 414.18,151.97 414.54,151.78 414.89,151.58 415.24,151.39 415.59,151.2 415.94,151 416.3,150.81 416.65,150.61 417,150.42 417.35,150.22 417.69,150.03 418.04,149.83 418.39,149.63 418.74,149.43 419.08,149.24 419.43,149.04 419.78,148.84 420.12,148.64 420.47,148.44 420.81,148.24 421.15,148.04 421.49,147.84 421.84,147.64 422.18,147.44 422.52,147.23 422.86,147.03 423.2,146.83 423.53,146.62 423.87,146.42 424.21,146.21 424.54,146 424.88,145.8 425.21,145.59 425.55,145.38 425.88,145.17 426.21,144.96 426.54,144.75 426.87,144.54 427.2,144.33 427.53,144.12 427.86,143.91 428.19,143.69 428.51,143.48 428.84,143.26 429.16,143.05 429.49,142.83 429.81,142.61 430.13,142.4 430.45,142.18 430.77,141.96 431.09,141.74 431.4,141.52 431.72,141.29 432.04,141.07" fill="none" stroke="#000" stroke-width="4.2" stroke-linejoin="round" stroke-linecap="round" stroke-linecap="butt"/>
<polyline points="430.5,141.4 538.6,85.2" fill="none" stroke="#000" stroke-width="4.3" stroke-linejoin="round" stroke-linecap="round" stroke-linecap="butt"/>
<polyline points="431.9,140.7 535.6,86" fill="none" stroke="#ff0000" stroke-width="4.3" stroke-linejoin="round" stroke-linecap="round" stroke-linecap="butt"/>
<rect x="299.5" y="57.7" width="242.8" height="194.1" fill="none" stroke="#000" stroke-width="2.5" stroke-linejoin="miter"/>
<line x1="326.4" y1="251.8" x2="326.4" y2="245.8" stroke="#000" stroke-width="2.5" stroke-linecap="butt"/>
<line x1="326.4" y1="57.7" x2="326.4" y2="63.7" stroke="#000" stroke-width="2.5" stroke-linecap="butt"/>
<line x1="380.4" y1="251.8" x2="380.4" y2="245.8" stroke="#000" stroke-width="2.5" stroke-linecap="butt"/>
<line x1="380.4" y1="57.7" x2="380.4" y2="63.7" stroke="#000" stroke-width="2.5" stroke-linecap="butt"/>
<line x1="434.4" y1="251.8" x2="434.4" y2="245.8" stroke="#000" stroke-width="2.5" stroke-linecap="butt"/>
<line x1="434.4" y1="57.7" x2="434.4" y2="63.7" stroke="#000" stroke-width="2.5" stroke-linecap="butt"/>
<line x1="488.4" y1="251.8" x2="488.4" y2="245.8" stroke="#000" stroke-width="2.5" stroke-linecap="butt"/>
<line x1="488.4" y1="57.7" x2="488.4" y2="63.7" stroke="#000" stroke-width="2.5" stroke-linecap="butt"/>
<line x1="353.4" y1="251.8" x2="353.4" y2="248.8" stroke="#000" stroke-width="2.5" stroke-linecap="butt"/>
<line x1="353.4" y1="57.7" x2="353.4" y2="60.7" stroke="#000" stroke-width="2.5" stroke-linecap="butt"/>
<line x1="407.4" y1="251.8" x2="407.4" y2="248.8" stroke="#000" stroke-width="2.5" stroke-linecap="butt"/>
<line x1="407.4" y1="57.7" x2="407.4" y2="60.7" stroke="#000" stroke-width="2.5" stroke-linecap="butt"/>
<line x1="461.4" y1="251.8" x2="461.4" y2="248.8" stroke="#000" stroke-width="2.5" stroke-linecap="butt"/>
<line x1="461.4" y1="57.7" x2="461.4" y2="60.7" stroke="#000" stroke-width="2.5" stroke-linecap="butt"/>
<line x1="515.4" y1="251.8" x2="515.4" y2="248.8" stroke="#000" stroke-width="2.5" stroke-linecap="butt"/>
<line x1="515.4" y1="57.7" x2="515.4" y2="60.7" stroke="#000" stroke-width="2.5" stroke-linecap="butt"/>
<line x1="299.5" y1="180.76" x2="305.5" y2="180.76" stroke="#000" stroke-width="2.5" stroke-linecap="butt"/>
<line x1="542.3" y1="180.76" x2="536.3" y2="180.76" stroke="#000" stroke-width="2.5" stroke-linecap="butt"/>
<line x1="299.5" y1="109.72" x2="305.5" y2="109.72" stroke="#000" stroke-width="2.5" stroke-linecap="butt"/>
<line x1="542.3" y1="109.72" x2="536.3" y2="109.72" stroke="#000" stroke-width="2.5" stroke-linecap="butt"/>
<line x1="299.5" y1="216.28" x2="302.5" y2="216.28" stroke="#000" stroke-width="2.5" stroke-linecap="butt"/>
<line x1="542.3" y1="216.28" x2="539.3" y2="216.28" stroke="#000" stroke-width="2.5" stroke-linecap="butt"/>
<line x1="299.5" y1="145.24" x2="302.5" y2="145.24" stroke="#000" stroke-width="2.5" stroke-linecap="butt"/>
<line x1="542.3" y1="145.24" x2="539.3" y2="145.24" stroke="#000" stroke-width="2.5" stroke-linecap="butt"/>
<line x1="299.5" y1="74.2" x2="302.5" y2="74.2" stroke="#000" stroke-width="2.5" stroke-linecap="butt"/>
<line x1="542.3" y1="74.2" x2="539.3" y2="74.2" stroke="#000" stroke-width="2.5" stroke-linecap="butt"/>
<text x="326.4" y="278.5" font-family="'Liberation Serif', 'Times New Roman', serif" font-size="23.8" font-weight="bold" text-anchor="middle" >0</text>
<text x="380.4" y="278.5" font-family="'Liberation Serif', 'Times New Roman', serif" font-size="23.8" font-weight="bold" text-anchor="middle" >100</text>
<text x="434.4" y="278.5" font-family="'Liberation Serif', 'Times New Roman', serif" font-size="23.8" font-weight="bold" text-anchor="middle" >200</text>
<text x="488.4" y="278.5" font-family="'Liberation Serif', 'Times New Roman', serif" font-size="23.8" font-weight="bold" text-anchor="middle" >300</text>
<text x="542.4" y="278.5" font-family="'Liberation Serif', 'Times New Roman', serif" font-size="23.8" font-weight="bold" text-anchor="middle" >400</text>
<text x="291.6" y="259.5" font-family="'Liberation Serif', 'Times New Roman', serif" font-size="24" font-weight="bold" text-anchor="end" >0</text>
<text x="291.6" y="188.46" font-family="'Liberation Serif', 'Times New Roman', serif" font-size="24" font-weight="bold" text-anchor="end" >40</text>
<text x="291.6" y="117.42" font-family="'Liberation Serif', 'Times New Roman', serif" font-size="24" font-weight="bold" text-anchor="end" >80</text>
<text x="427.1" y="310.4" font-family="'Liberation Serif', 'Times New Roman', serif" font-size="26.5" font-weight="bold" text-anchor="middle" ><tspan font-style="italic">T</tspan> (K)</text>
<text x="0" y="0" transform="translate(259,146.8) rotate(-90)" font-family="'Liberation Serif', 'Times New Roman', serif" font-size="23.5" font-weight="bold" text-anchor="middle" ><tspan font-style="italic">1/<tspan font-family="'Noto Serif CJK SC', serif" font-weight="normal" stroke="#000" stroke-width="0.7">χ</tspan></tspan> (mol.Oe/emu)</text>
<line x1="308.5" y1="71.6" x2="353.5" y2="71.6" stroke="#000" stroke-width="4.6" stroke-linecap="round"/>
<line x1="308.5" y1="96.7" x2="353.5" y2="96.7" stroke="#ff0000" stroke-width="4.6" stroke-linecap="round"/>
<text x="358.5" y="79.2" font-family="'Liberation Serif', 'Times New Roman', serif" font-size="20" font-weight="bold" text-anchor="start" >FC</text>
<text x="358.5" y="104" font-family="'Liberation Serif', 'Times New Roman', serif" font-size="20" font-weight="bold" text-anchor="start" >Curie-Weiss Fit</text>
<g><circle cx="742.9" cy="364.39" r="4.7" fill="url(#gOl)"/><circle cx="741.63" cy="363.36" r="2.63" fill="url(#gHl)"/><circle cx="743.3" cy="364.43" r="4.7" fill="url(#gOl)"/><circle cx="742.03" cy="363.4" r="2.63" fill="url(#gHl)"/><circle cx="743.7" cy="364.47" r="4.7" fill="url(#gOl)"/><circle cx="742.43" cy="363.44" r="2.63" fill="url(#gHl)"/><circle cx="744.09" cy="364.51" r="4.7" fill="url(#gOl)"/><circle cx="742.82" cy="363.48" r="2.63" fill="url(#gHl)"/><circle cx="744.49" cy="364.55" r="4.7" fill="url(#gOl)"/><circle cx="743.22" cy="363.51" r="2.63" fill="url(#gHl)"/><circle cx="744.89" cy="364.58" r="4.7" fill="url(#gOl)"/><circle cx="743.62" cy="363.55" r="2.63" fill="url(#gHl)"/><circle cx="745.29" cy="364.62" r="4.7" fill="url(#gOl)"/><circle cx="744.02" cy="363.59" r="2.63" fill="url(#gHl)"/><circle cx="745.69" cy="364.65" r="4.7" fill="url(#gOl)"/><circle cx="744.42" cy="363.62" r="2.63" fill="url(#gHl)"/><circle cx="746.09" cy="364.69" r="4.7" fill="url(#gOl)"/><circle cx="744.82" cy="363.65" r="2.63" fill="url(#gHl)"/><circle cx="746.48" cy="364.72" r="4.7" fill="url(#gOl)"/><circle cx="745.22" cy="363.69" r="2.63" fill="url(#gHl)"/><circle cx="746.88" cy="364.75" r="4.7" fill="url(#gOl)"/><circle cx="745.61" cy="363.72" r="2.63" fill="url(#gHl)"/><circle cx="747.28" cy="364.78" r="4.7" fill="url(#gOl)"/><circle cx="746.01" cy="363.75" r="2.63" fill="url(#gHl)"/><circle cx="747.68" cy="364.81" r="4.7" fill="url(#gOl)"/><circle cx="746.41" cy="363.78" r="2.63" fill="url(#gHl)"/><circle cx="748.08" cy="364.84" r="4.7" fill="url(#gOl)"/><circle cx="746.81" cy="363.8" r="2.63" fill="url(#gHl)"/><circle cx="748.48" cy="364.86" r="4.7" fill="url(#gOl)"/><circle cx="747.21" cy="363.83" r="2.63" fill="url(#gHl)"/><circle cx="748.88" cy="364.89" r="4.7" fill="url(#gOl)"/><circle cx="747.61" cy="363.85" r="2.63" fill="url(#gHl)"/><circle cx="749.28" cy="364.91" r="4.7" fill="url(#gOl)"/><circle cx="748.01" cy="363.88" r="2.63" fill="url(#gHl)"/><circle cx="749.68" cy="364.93" r="4.7" fill="url(#gOl)"/><circle cx="748.41" cy="363.9" r="2.63" fill="url(#gHl)"/><circle cx="750.08" cy="364.96" r="4.7" fill="url(#gOl)"/><circle cx="748.81" cy="363.92" r="2.63" fill="url(#gHl)"/><circle cx="750.48" cy="364.98" r="4.7" fill="url(#gOl)"/><circle cx="749.21" cy="363.94" r="2.63" fill="url(#gHl)"/><circle cx="750.88" cy="364.99" r="4.7" fill="url(#gOl)"/><circle cx="749.61" cy="363.96" r="2.63" fill="url(#gHl)"/><circle cx="751.28" cy="365.01" r="4.7" fill="url(#gOl)"/><circle cx="750.01" cy="363.98" r="2.63" fill="url(#gHl)"/><circle cx="751.68" cy="365.03" r="4.7" fill="url(#gOl)"/><circle cx="750.41" cy="364" r="2.63" fill="url(#gHl)"/><circle cx="752.07" cy="365.04" r="4.7" fill="url(#gOl)"/><circle cx="750.81" cy="364.01" r="2.63" fill="url(#gHl)"/><circle cx="752.47" cy="365.06" r="4.7" fill="url(#gOl)"/><circle cx="751.21" cy="364.03" r="2.63" fill="url(#gHl)"/><circle cx="752.87" cy="365.07" r="4.7" fill="url(#gOl)"/><circle cx="751.61" cy="364.04" r="2.63" fill="url(#gHl)"/><circle cx="753.27" cy="365.08" r="4.7" fill="url(#gOl)"/><circle cx="752.01" cy="364.05" r="2.63" fill="url(#gHl)"/><circle cx="753.67" cy="365.09" r="4.7" fill="url(#gOl)"/><circle cx="752.41" cy="364.06" r="2.63" fill="url(#gHl)"/><circle cx="754.07" cy="365.1" r="4.7" fill="url(#gOl)"/><circle cx="752.8" cy="364.07" r="2.63" fill="url(#gHl)"/><circle cx="754.47" cy="365.11" r="4.7" fill="url(#gOl)"/><circle cx="753.2" cy="364.08" r="2.63" fill="url(#gHl)"/><circle cx="754.87" cy="365.12" r="4.7" fill="url(#gOl)"/><circle cx="753.6" cy="364.09" r="2.63" fill="url(#gHl)"/><circle cx="755.27" cy="365.13" r="4.7" fill="url(#gOl)"/><circle cx="754" cy="364.09" r="2.63" fill="url(#gHl)"/><circle cx="755.67" cy="365.13" r="4.7" fill="url(#gOl)"/><circle cx="754.4" cy="364.1" r="2.63" fill="url(#gHl)"/><circle cx="756.07" cy="365.13" r="4.7" fill="url(#gOl)"/><circle cx="754.8" cy="364.1" r="2.63" fill="url(#gHl)"/><circle cx="756.47" cy="365.14" r="4.7" fill="url(#gOl)"/><circle cx="755.2" cy="364.1" r="2.63" fill="url(#gHl)"/><circle cx="756.87" cy="365.14" r="4.7" fill="url(#gOl)"/><circle cx="755.6" cy="364.1" r="2.63" fill="url(#gHl)"/><circle cx="757.27" cy="365.14" r="4.7" fill="url(#gOl)"/><circle cx="756" cy="364.1" r="2.63" fill="url(#gHl)"/><circle cx="757.67" cy="365.14" r="4.7" fill="url(#gOl)"/><circle cx="756.4" cy="364.1" r="2.63" fill="url(#gHl)"/><circle cx="758.07" cy="365.14" r="4.7" fill="url(#gOl)"/><circle cx="756.8" cy="364.1" r="2.63" fill="url(#gHl)"/><circle cx="758.47" cy="365.13" r="4.7" fill="url(#gOl)"/><circle cx="757.2" cy="364.1" r="2.63" fill="url(#gHl)"/><circle cx="758.87" cy="365.13" r="4.7" fill="url(#gOl)"/><circle cx="757.6" cy="364.09" r="2.63" fill="url(#gHl)"/><circle cx="759.27" cy="365.12" r="4.7" fill="url(#gOl)"/><circle cx="758" cy="364.09" r="2.63" fill="url(#gHl)"/><circle cx="759.67" cy="365.11" r="4.7" fill="url(#gOl)"/><circle cx="758.4" cy="364.08" r="2.63" fill="url(#gHl)"/><circle cx="760.07" cy="365.11" r="4.7" fill="url(#gOl)"/><circle cx="758.8" cy="364.07" r="2.63" fill="url(#gHl)"/><circle cx="760.47" cy="365.11" r="4.7" fill="url(#gOl)"/><circle cx="759.2" cy="364.07" r="2.63" fill="url(#gHl)"/><circle cx="760.87" cy="365.11" r="4.7" fill="url(#gOl)"/><circle cx="759.6" cy="364.07" r="2.63" fill="url(#gHl)"/><circle cx="761.27" cy="365.11" r="4.7" fill="url(#gOl)"/><circle cx="760" cy="364.07" r="2.63" fill="url(#gHl)"/><circle cx="761.67" cy="365.1" r="4.7" fill="url(#gOl)"/><circle cx="760.4" cy="364.07" r="2.63" fill="url(#gHl)"/><circle cx="762.07" cy="365.1" r="4.7" fill="url(#gOl)"/><circle cx="760.8" cy="364.06" r="2.63" fill="url(#gHl)"/><circle cx="762.47" cy="365.09" r="4.7" fill="url(#gOl)"/><circle cx="761.2" cy="364.06" r="2.63" fill="url(#gHl)"/><circle cx="762.87" cy="365.09" r="4.7" fill="url(#gOl)"/><circle cx="761.6" cy="364.05" r="2.63" fill="url(#gHl)"/><circle cx="763.27" cy="365.08" r="4.7" fill="url(#gOl)"/><circle cx="762" cy="364.04" r="2.63" fill="url(#gHl)"/><circle cx="763.67" cy="365.07" r="4.7" fill="url(#gOl)"/><circle cx="762.4" cy="364.03" r="2.63" fill="url(#gHl)"/><circle cx="764.07" cy="365.06" r="4.7" fill="url(#gOl)"/><circle cx="762.8" cy="364.02" r="2.63" fill="url(#gHl)"/><circle cx="764.47" cy="365.05" r="4.7" fill="url(#gOl)"/><circle cx="763.2" cy="364.01" r="2.63" fill="url(#gHl)"/><circle cx="764.87" cy="365.03" r="4.7" fill="url(#gOl)"/><circle cx="763.6" cy="364" r="2.63" fill="url(#gHl)"/><circle cx="765.27" cy="365.02" r="4.7" fill="url(#gOl)"/><circle cx="764" cy="363.99" r="2.63" fill="url(#gHl)"/><circle cx="765.67" cy="365" r="4.7" fill="url(#gOl)"/><circle cx="764.4" cy="363.97" r="2.63" fill="url(#gHl)"/><circle cx="766.07" cy="364.99" r="4.7" fill="url(#gOl)"/><circle cx="764.8" cy="363.95" r="2.63" fill="url(#gHl)"/><circle cx="766.47" cy="364.97" r="4.7" fill="url(#gOl)"/><circle cx="765.2" cy="363.94" r="2.63" fill="url(#gHl)"/><circle cx="766.87" cy="364.95" r="4.7" fill="url(#gOl)"/><circle cx="765.6" cy="363.92" r="2.63" fill="url(#gHl)"/><circle cx="767.27" cy="364.93" r="4.7" fill="url(#gOl)"/><circle cx="766" cy="363.9" r="2.63" fill="url(#gHl)"/><circle cx="767.67" cy="364.91" r="4.7" fill="url(#gOl)"/><circle cx="766.4" cy="363.88" r="2.63" fill="url(#gHl)"/><circle cx="768.07" cy="364.89" r="4.7" fill="url(#gOl)"/><circle cx="766.8" cy="363.85" r="2.63" fill="url(#gHl)"/><circle cx="768.47" cy="364.86" r="4.7" fill="url(#gOl)"/><circle cx="767.2" cy="363.83" r="2.63" fill="url(#gHl)"/><circle cx="768.87" cy="364.84" r="4.7" fill="url(#gOl)"/><circle cx="767.6" cy="363.81" r="2.63" fill="url(#gHl)"/><circle cx="769.27" cy="364.81" r="4.7" fill="url(#gOl)"/><circle cx="768" cy="363.78" r="2.63" fill="url(#gHl)"/><circle cx="769.67" cy="364.79" r="4.7" fill="url(#gOl)"/><circle cx="768.4" cy="363.75" r="2.63" fill="url(#gHl)"/><circle cx="770.07" cy="364.76" r="4.7" fill="url(#gOl)"/><circle cx="768.8" cy="363.72" r="2.63" fill="url(#gHl)"/><circle cx="770.46" cy="364.73" r="4.7" fill="url(#gOl)"/><circle cx="769.19" cy="363.7" r="2.63" fill="url(#gHl)"/><circle cx="770.86" cy="364.7" r="4.7" fill="url(#gOl)"/><circle cx="769.59" cy="363.66" r="2.63" fill="url(#gHl)"/><circle cx="771.26" cy="364.67" r="4.7" fill="url(#gOl)"/><circle cx="769.99" cy="363.63" r="2.63" fill="url(#gHl)"/><circle cx="771.66" cy="364.63" r="4.7" fill="url(#gOl)"/><circle cx="770.39" cy="363.6" r="2.63" fill="url(#gHl)"/><circle cx="772.06" cy="364.6" r="4.7" fill="url(#gOl)"/><circle cx="770.79" cy="363.57" r="2.63" fill="url(#gHl)"/><circle cx="772.46" cy="364.56" r="4.7" fill="url(#gOl)"/><circle cx="771.19" cy="363.53" r="2.63" fill="url(#gHl)"/><circle cx="772.86" cy="364.53" r="4.7" fill="url(#gOl)"/><circle cx="771.59" cy="363.49" r="2.63" fill="url(#gHl)"/><circle cx="773.25" cy="364.49" r="4.7" fill="url(#gOl)"/><circle cx="771.98" cy="363.46" r="2.63" fill="url(#gHl)"/><circle cx="773.65" cy="364.45" r="4.7" fill="url(#gOl)"/><circle cx="772.38" cy="363.42" r="2.63" fill="url(#gHl)"/><circle cx="774.05" cy="364.41" r="4.7" fill="url(#gOl)"/><circle cx="772.78" cy="363.38" r="2.63" fill="url(#gHl)"/><circle cx="774.45" cy="364.37" r="4.7" fill="url(#gOl)"/><circle cx="773.18" cy="363.34" r="2.63" fill="url(#gHl)"/><circle cx="774.85" cy="364.33" r="4.7" fill="url(#gOl)"/><circle cx="773.58" cy="363.29" r="2.63" fill="url(#gHl)"/><circle cx="775.24" cy="364.28" r="4.7" fill="url(#gOl)"/><circle cx="773.97" cy="363.25" r="2.63" fill="url(#gHl)"/><circle cx="775.64" cy="364.24" r="4.7" fill="url(#gOl)"/><circle cx="774.37" cy="363.2" r="2.63" fill="url(#gHl)"/><circle cx="776.04" cy="364.19" r="4.7" fill="url(#gOl)"/><circle cx="774.77" cy="363.16" r="2.63" fill="url(#gHl)"/><circle cx="776.43" cy="364.14" r="4.7" fill="url(#gOl)"/><circle cx="775.17" cy="363.11" r="2.63" fill="url(#gHl)"/><circle cx="776.83" cy="364.1" r="4.7" fill="url(#gOl)"/><circle cx="775.56" cy="363.06" r="2.63" fill="url(#gHl)"/><circle cx="777.23" cy="364.05" r="4.7" fill="url(#gOl)"/><circle cx="775.96" cy="363.01" r="2.63" fill="url(#gHl)"/><circle cx="777.63" cy="364" r="4.7" fill="url(#gOl)"/><circle cx="776.36" cy="362.96" r="2.63" fill="url(#gHl)"/><circle cx="778.02" cy="363.94" r="4.7" fill="url(#gOl)"/><circle cx="776.75" cy="362.91" r="2.63" fill="url(#gHl)"/><circle cx="778.42" cy="363.89" r="4.7" fill="url(#gOl)"/><circle cx="777.15" cy="362.86" r="2.63" fill="url(#gHl)"/><circle cx="778.81" cy="363.84" r="4.7" fill="url(#gOl)"/><circle cx="777.55" cy="362.8" r="2.63" fill="url(#gHl)"/><circle cx="779.21" cy="363.78" r="4.7" fill="url(#gOl)"/><circle cx="777.94" cy="362.75" r="2.63" fill="url(#gHl)"/><circle cx="779.61" cy="363.72" r="4.7" fill="url(#gOl)"/><circle cx="778.34" cy="362.69" r="2.63" fill="url(#gHl)"/><circle cx="780" cy="363.67" r="4.7" fill="url(#gOl)"/><circle cx="778.73" cy="362.63" r="2.63" fill="url(#gHl)"/><circle cx="780.4" cy="363.61" r="4.7" fill="url(#gOl)"/><circle cx="779.13" cy="362.57" r="2.63" fill="url(#gHl)"/><circle cx="780.79" cy="363.55" r="4.7" fill="url(#gOl)"/><circle cx="779.52" cy="362.51" r="2.63" fill="url(#gHl)"/><circle cx="781.19" cy="363.48" r="4.7" fill="url(#gOl)"/><circle cx="779.92" cy="362.45" r="2.63" fill="url(#gHl)"/><circle cx="781.58" cy="363.42" r="4.7" fill="url(#gOl)"/><circle cx="780.32" cy="362.39" r="2.63" fill="url(#gHl)"/><circle cx="781.98" cy="363.36" r="4.7" fill="url(#gOl)"/><circle cx="780.71" cy="362.32" r="2.63" fill="url(#gHl)"/><circle cx="782.37" cy="363.29" r="4.7" fill="url(#gOl)"/><circle cx="781.1" cy="362.26" r="2.63" fill="url(#gHl)"/><circle cx="782.77" cy="363.23" r="4.7" fill="url(#gOl)"/><circle cx="781.5" cy="362.19" r="2.63" fill="url(#gHl)"/><circle cx="783.16" cy="363.16" r="4.7" fill="url(#gOl)"/><circle cx="781.89" cy="362.13" r="2.63" fill="url(#gHl)"/><circle cx="783.56" cy="363.09" r="4.7" fill="url(#gOl)"/><circle cx="782.29" cy="362.06" r="2.63" fill="url(#gHl)"/><circle cx="783.95" cy="363.03" r="4.7" fill="url(#gOl)"/><circle cx="782.68" cy="361.99" r="2.63" fill="url(#gHl)"/><circle cx="784.35" cy="362.96" r="4.7" fill="url(#gOl)"/><circle cx="783.08" cy="361.92" r="2.63" fill="url(#gHl)"/><circle cx="784.74" cy="362.89" r="4.7" fill="url(#gOl)"/><circle cx="783.47" cy="361.85" r="2.63" fill="url(#gHl)"/><circle cx="785.13" cy="362.81" r="4.7" fill="url(#gOl)"/><circle cx="783.86" cy="361.78" r="2.63" fill="url(#gHl)"/><circle cx="785.53" cy="362.74" r="4.7" fill="url(#gOl)"/><circle cx="784.26" cy="361.71" r="2.63" fill="url(#gHl)"/><circle cx="785.92" cy="362.67" r="4.7" fill="url(#gOl)"/><circle cx="784.65" cy="361.63" r="2.63" fill="url(#gHl)"/><circle cx="786.31" cy="362.59" r="4.7" fill="url(#gOl)"/><circle cx="785.04" cy="361.56" r="2.63" fill="url(#gHl)"/><circle cx="786.7" cy="362.52" r="4.7" fill="url(#gOl)"/><circle cx="785.44" cy="361.48" r="2.63" fill="url(#gHl)"/><circle cx="787.1" cy="362.44" r="4.7" fill="url(#gOl)"/><circle cx="785.83" cy="361.41" r="2.63" fill="url(#gHl)"/><circle cx="787.49" cy="362.36" r="4.7" fill="url(#gOl)"/><circle cx="786.22" cy="361.33" r="2.63" fill="url(#gHl)"/><circle cx="787.88" cy="362.28" r="4.7" fill="url(#gOl)"/><circle cx="786.61" cy="361.25" r="2.63" fill="url(#gHl)"/><circle cx="788.27" cy="362.2" r="4.7" fill="url(#gOl)"/><circle cx="787" cy="361.17" r="2.63" fill="url(#gHl)"/><circle cx="788.66" cy="362.12" r="4.7" fill="url(#gOl)"/><circle cx="787.4" cy="361.08" r="2.63" fill="url(#gHl)"/><circle cx="789.06" cy="362.04" r="4.7" fill="url(#gOl)"/><circle cx="787.79" cy="361" r="2.63" fill="url(#gHl)"/><circle cx="789.45" cy="361.95" r="4.7" fill="url(#gOl)"/><circle cx="788.18" cy="360.92" r="2.63" fill="url(#gHl)"/><circle cx="789.84" cy="361.87" r="4.7" fill="url(#gOl)"/><circle cx="788.57" cy="360.83" r="2.63" fill="url(#gHl)"/><circle cx="790.23" cy="361.78" r="4.7" fill="url(#gOl)"/><circle cx="788.96" cy="360.74" r="2.63" fill="url(#gHl)"/><circle cx="790.62" cy="361.69" r="4.7" fill="url(#gOl)"/><circle cx="789.35" cy="360.66" r="2.63" fill="url(#gHl)"/><circle cx="791.01" cy="361.6" r="4.7" fill="url(#gOl)"/><circle cx="789.74" cy="360.57" r="2.63" fill="url(#gHl)"/><circle cx="791.4" cy="361.51" r="4.7" fill="url(#gOl)"/><circle cx="790.13" cy="360.48" r="2.63" fill="url(#gHl)"/><circle cx="791.79" cy="361.42" r="4.7" fill="url(#gOl)"/><circle cx="790.52" cy="360.39" r="2.63" fill="url(#gHl)"/><circle cx="792.18" cy="361.33" r="4.7" fill="url(#gOl)"/><circle cx="790.91" cy="360.29" r="2.63" fill="url(#gHl)"/><circle cx="792.57" cy="361.23" r="4.7" fill="url(#gOl)"/><circle cx="791.3" cy="360.2" r="2.63" fill="url(#gHl)"/><circle cx="792.95" cy="361.14" r="4.7" fill="url(#gOl)"/><circle cx="791.68" cy="360.1" r="2.63" fill="url(#gHl)"/><circle cx="793.34" cy="361.04" r="4.7" fill="url(#gOl)"/><circle cx="792.07" cy="360.01" r="2.63" fill="url(#gHl)"/><circle cx="793.73" cy="360.95" r="4.7" fill="url(#gOl)"/><circle cx="792.46" cy="359.91" r="2.63" fill="url(#gHl)"/><circle cx="794.12" cy="360.85" r="4.7" fill="url(#gOl)"/><circle cx="792.85" cy="359.81" r="2.63" fill="url(#gHl)"/><circle cx="794.51" cy="360.75" r="4.7" fill="url(#gOl)"/><circle cx="793.24" cy="359.71" r="2.63" fill="url(#gHl)"/><circle cx="794.89" cy="360.65" r="4.7" fill="url(#gOl)"/><circle cx="793.62" cy="359.61" r="2.63" fill="url(#gHl)"/><circle cx="795.28" cy="360.54" r="4.7" fill="url(#gOl)"/><circle cx="794.01" cy="359.51" r="2.63" fill="url(#gHl)"/><circle cx="795.67" cy="360.44" r="4.7" fill="url(#gOl)"/><circle cx="794.4" cy="359.41" r="2.63" fill="url(#gHl)"/><circle cx="796.05" cy="360.34" r="4.7" fill="url(#gOl)"/><circle cx="794.78" cy="359.3" r="2.63" fill="url(#gHl)"/><circle cx="796.44" cy="360.23" r="4.7" fill="url(#gOl)"/><circle cx="795.17" cy="359.2" r="2.63" fill="url(#gHl)"/><circle cx="796.82" cy="360.12" r="4.7" fill="url(#gOl)"/><circle cx="795.55" cy="359.09" r="2.63" fill="url(#gHl)"/><circle cx="797.21" cy="360.02" r="4.7" fill="url(#gOl)"/><circle cx="795.94" cy="358.98" r="2.63" fill="url(#gHl)"/><circle cx="797.59" cy="359.91" r="4.7" fill="url(#gOl)"/><circle cx="796.32" cy="358.87" r="2.63" fill="url(#gHl)"/><circle cx="797.98" cy="359.8" r="4.7" fill="url(#gOl)"/><circle cx="796.71" cy="358.76" r="2.63" fill="url(#gHl)"/><circle cx="798.36" cy="359.69" r="4.7" fill="url(#gOl)"/><circle cx="797.09" cy="358.65" r="2.63" fill="url(#gHl)"/><circle cx="798.75" cy="359.57" r="4.7" fill="url(#gOl)"/><circle cx="797.48" cy="358.54" r="2.63" fill="url(#gHl)"/><circle cx="799.13" cy="359.46" r="4.7" fill="url(#gOl)"/><circle cx="797.86" cy="358.43" r="2.63" fill="url(#gHl)"/><circle cx="799.51" cy="359.35" r="4.7" fill="url(#gOl)"/><circle cx="798.24" cy="358.31" r="2.63" fill="url(#gHl)"/><circle cx="799.9" cy="359.23" r="4.7" fill="url(#gOl)"/><circle cx="798.63" cy="358.2" r="2.63" fill="url(#gHl)"/><circle cx="800.27" cy="359.1" r="4.7" fill="url(#gOl)"/><circle cx="799" cy="358.07" r="2.63" fill="url(#gHl)"/><circle cx="800.65" cy="358.97" r="4.7" fill="url(#gOl)"/><circle cx="799.38" cy="357.93" r="2.63" fill="url(#gHl)"/><circle cx="801.03" cy="358.83" r="4.7" fill="url(#gOl)"/><circle cx="799.76" cy="357.8" r="2.63" fill="url(#gHl)"/><circle cx="801.4" cy="358.69" r="4.7" fill="url(#gOl)"/><circle cx="800.13" cy="357.66" r="2.63" fill="url(#gHl)"/><circle cx="801.78" cy="358.56" r="4.7" fill="url(#gOl)"/><circle cx="800.51" cy="357.52" r="2.63" fill="url(#gHl)"/><circle cx="802.15" cy="358.42" r="4.7" fill="url(#gOl)"/><circle cx="800.88" cy="357.38" r="2.63" fill="url(#gHl)"/><circle cx="802.53" cy="358.28" r="4.7" fill="url(#gOl)"/><circle cx="801.26" cy="357.24" r="2.63" fill="url(#gHl)"/><circle cx="802.9" cy="358.14" r="4.7" fill="url(#gOl)"/><circle cx="801.63" cy="357.1" r="2.63" fill="url(#gHl)"/><circle cx="803.28" cy="357.99" r="4.7" fill="url(#gOl)"/><circle cx="802.01" cy="356.96" r="2.63" fill="url(#gHl)"/><circle cx="803.65" cy="357.85" r="4.7" fill="url(#gOl)"/><circle cx="802.38" cy="356.82" r="2.63" fill="url(#gHl)"/><circle cx="804.02" cy="357.71" r="4.7" fill="url(#gOl)"/><circle cx="802.75" cy="356.67" r="2.63" fill="url(#gHl)"/><circle cx="804.4" cy="357.56" r="4.7" fill="url(#gOl)"/><circle cx="803.13" cy="356.53" r="2.63" fill="url(#gHl)"/><circle cx="804.77" cy="357.42" r="4.7" fill="url(#gOl)"/><circle cx="803.5" cy="356.38" r="2.63" fill="url(#gHl)"/><circle cx="805.14" cy="357.27" r="4.7" fill="url(#gOl)"/><circle cx="803.87" cy="356.24" r="2.63" fill="url(#gHl)"/><circle cx="805.51" cy="357.12" r="4.7" fill="url(#gOl)"/><circle cx="804.24" cy="356.09" r="2.63" fill="url(#gHl)"/><circle cx="805.88" cy="356.97" r="4.7" fill="url(#gOl)"/><circle cx="804.61" cy="355.94" r="2.63" fill="url(#gHl)"/><circle cx="806.25" cy="356.82" r="4.7" fill="url(#gOl)"/><circle cx="804.99" cy="355.79" r="2.63" fill="url(#gHl)"/><circle cx="806.62" cy="356.67" r="4.7" fill="url(#gOl)"/><circle cx="805.36" cy="355.64" r="2.63" fill="url(#gHl)"/><circle cx="806.99" cy="356.52" r="4.7" fill="url(#gOl)"/><circle cx="805.73" cy="355.49" r="2.63" fill="url(#gHl)"/><circle cx="807.36" cy="356.37" r="4.7" fill="url(#gOl)"/><circle cx="806.1" cy="355.33" r="2.63" fill="url(#gHl)"/><circle cx="807.73" cy="356.21" r="4.7" fill="url(#gOl)"/><circle cx="806.46" cy="355.18" r="2.63" fill="url(#gHl)"/><circle cx="808.1" cy="356.06" r="4.7" fill="url(#gOl)"/><circle cx="806.83" cy="355.03" r="2.63" fill="url(#gHl)"/><circle cx="808.47" cy="355.9" r="4.7" fill="url(#gOl)"/><circle cx="807.2" cy="354.87" r="2.63" fill="url(#gHl)"/><circle cx="808.84" cy="355.75" r="4.7" fill="url(#gOl)"/><circle cx="807.57" cy="354.71" r="2.63" fill="url(#gHl)"/><circle cx="809.21" cy="355.59" r="4.7" fill="url(#gOl)"/><circle cx="807.94" cy="354.56" r="2.63" fill="url(#gHl)"/><circle cx="809.57" cy="355.43" r="4.7" fill="url(#gOl)"/><circle cx="808.31" cy="354.4" r="2.63" fill="url(#gHl)"/><circle cx="809.94" cy="355.27" r="4.7" fill="url(#gOl)"/><circle cx="808.67" cy="354.24" r="2.63" fill="url(#gHl)"/><circle cx="810.31" cy="355.11" r="4.7" fill="url(#gOl)"/><circle cx="809.04" cy="354.08" r="2.63" fill="url(#gHl)"/><circle cx="810.67" cy="354.95" r="4.7" fill="url(#gOl)"/><circle cx="809.41" cy="353.92" r="2.63" fill="url(#gHl)"/><circle cx="811.04" cy="354.79" r="4.7" fill="url(#gOl)"/><circle cx="809.77" cy="353.76" r="2.63" fill="url(#gHl)"/><circle cx="811.41" cy="354.63" r="4.7" fill="url(#gOl)"/><circle cx="810.14" cy="353.59" r="2.63" fill="url(#gHl)"/><circle cx="811.77" cy="354.46" r="4.7" fill="url(#gOl)"/><circle cx="810.5" cy="353.43" r="2.63" fill="url(#gHl)"/><circle cx="812.14" cy="354.3" r="4.7" fill="url(#gOl)"/><circle cx="810.87" cy="353.27" r="2.63" fill="url(#gHl)"/><circle cx="812.5" cy="354.13" r="4.7" fill="url(#gOl)"/><circle cx="811.23" cy="353.1" r="2.63" fill="url(#gHl)"/><circle cx="812.86" cy="353.97" r="4.7" fill="url(#gOl)"/><circle cx="811.59" cy="352.93" r="2.63" fill="url(#gHl)"/><circle cx="813.23" cy="353.8" r="4.7" fill="url(#gOl)"/><circle cx="811.96" cy="352.77" r="2.63" fill="url(#gHl)"/><circle cx="813.59" cy="353.63" r="4.7" fill="url(#gOl)"/><circle cx="812.32" cy="352.6" r="2.63" fill="url(#gHl)"/><circle cx="813.95" cy="353.46" r="4.7" fill="url(#gOl)"/><circle cx="812.68" cy="352.43" r="2.63" fill="url(#gHl)"/><circle cx="814.32" cy="353.3" r="4.7" fill="url(#gOl)"/><circle cx="813.05" cy="352.26" r="2.63" fill="url(#gHl)"/><circle cx="815.6" cy="352.69" r="4.7" fill="url(#gOl)"/><circle cx="814.33" cy="351.65" r="2.63" fill="url(#gHl)"/><circle cx="819.93" cy="350.55" r="4.7" fill="url(#gOl)"/><circle cx="818.66" cy="349.51" r="2.63" fill="url(#gHl)"/><circle cx="824.25" cy="348.28" r="4.7" fill="url(#gOl)"/><circle cx="822.98" cy="347.24" r="2.63" fill="url(#gHl)"/><circle cx="828.58" cy="345.88" r="4.7" fill="url(#gOl)"/><circle cx="827.31" cy="344.84" r="2.63" fill="url(#gHl)"/><circle cx="832.9" cy="343.36" r="4.7" fill="url(#gOl)"/><circle cx="831.63" cy="342.33" r="2.63" fill="url(#gHl)"/><circle cx="837.23" cy="340.73" r="4.7" fill="url(#gOl)"/><circle cx="835.96" cy="339.69" r="2.63" fill="url(#gHl)"/><circle cx="841.55" cy="337.98" r="4.7" fill="url(#gOl)"/><circle cx="840.28" cy="336.95" r="2.63" fill="url(#gHl)"/><circle cx="845.88" cy="335.11" r="4.7" fill="url(#gOl)"/><circle cx="844.61" cy="334.08" r="2.63" fill="url(#gHl)"/><circle cx="850.2" cy="332.12" r="4.7" fill="url(#gOl)"/><circle cx="848.93" cy="331.09" r="2.63" fill="url(#gHl)"/><circle cx="854.53" cy="329.02" r="4.7" fill="url(#gOl)"/><circle cx="853.26" cy="327.98" r="2.63" fill="url(#gHl)"/><circle cx="858.85" cy="325.8" r="4.7" fill="url(#gOl)"/><circle cx="857.58" cy="324.77" r="2.63" fill="url(#gHl)"/><circle cx="863.18" cy="322.48" r="4.7" fill="url(#gOl)"/><circle cx="861.91" cy="321.45" r="2.63" fill="url(#gHl)"/><circle cx="867.5" cy="319.06" r="4.7" fill="url(#gOl)"/><circle cx="866.23" cy="318.02" r="2.63" fill="url(#gHl)"/><circle cx="871.83" cy="315.53" r="4.7" fill="url(#gOl)"/><circle cx="870.56" cy="314.5" r="2.63" fill="url(#gHl)"/><circle cx="876.15" cy="311.91" r="4.7" fill="url(#gOl)"/><circle cx="874.88" cy="310.88" r="2.63" fill="url(#gHl)"/><circle cx="880.48" cy="308.2" r="4.7" fill="url(#gOl)"/><circle cx="879.21" cy="307.17" r="2.63" fill="url(#gHl)"/><circle cx="884.8" cy="304.4" r="4.7" fill="url(#gOl)"/><circle cx="883.53" cy="303.37" r="2.63" fill="url(#gHl)"/><circle cx="889.13" cy="300.53" r="4.7" fill="url(#gOl)"/><circle cx="887.86" cy="299.49" r="2.63" fill="url(#gHl)"/><circle cx="893.45" cy="296.57" r="4.7" fill="url(#gOl)"/><circle cx="892.18" cy="295.54" r="2.63" fill="url(#gHl)"/><circle cx="897.78" cy="292.56" r="4.7" fill="url(#gOl)"/><circle cx="896.51" cy="291.52" r="2.63" fill="url(#gHl)"/><circle cx="902.1" cy="288.48" r="4.7" fill="url(#gOl)"/><circle cx="900.83" cy="287.45" r="2.63" fill="url(#gHl)"/><circle cx="906.43" cy="284.35" r="4.7" fill="url(#gOl)"/><circle cx="905.16" cy="283.32" r="2.63" fill="url(#gHl)"/><circle cx="910.75" cy="280.18" r="4.7" fill="url(#gOl)"/><circle cx="909.48" cy="279.15" r="2.63" fill="url(#gHl)"/><circle cx="915.08" cy="275.98" r="4.7" fill="url(#gOl)"/><circle cx="913.81" cy="274.95" r="2.63" fill="url(#gHl)"/><circle cx="919.4" cy="271.75" r="4.7" fill="url(#gOl)"/><circle cx="918.13" cy="270.72" r="2.63" fill="url(#gHl)"/><circle cx="923.73" cy="267.51" r="4.7" fill="url(#gOl)"/><circle cx="922.46" cy="266.47" r="2.63" fill="url(#gHl)"/><circle cx="928.05" cy="263.26" r="4.7" fill="url(#gOl)"/><circle cx="926.78" cy="262.22" r="2.63" fill="url(#gHl)"/><circle cx="932.38" cy="259.01" r="4.7" fill="url(#gOl)"/><circle cx="931.11" cy="257.98" r="2.63" fill="url(#gHl)"/><circle cx="936.7" cy="254.77" r="4.7" fill="url(#gOl)"/><circle cx="935.43" cy="253.74" r="2.63" fill="url(#gHl)"/><circle cx="941.03" cy="250.54" r="4.7" fill="url(#gOl)"/><circle cx="939.76" cy="249.5" r="2.63" fill="url(#gHl)"/><circle cx="945.35" cy="246.31" r="4.7" fill="url(#gOl)"/><circle cx="944.08" cy="245.28" r="2.63" fill="url(#gHl)"/><circle cx="949.68" cy="242.09" r="4.7" fill="url(#gOl)"/><circle cx="948.41" cy="241.06" r="2.63" fill="url(#gHl)"/><circle cx="954" cy="237.88" r="4.7" fill="url(#gOl)"/><circle cx="952.73" cy="236.84" r="2.63" fill="url(#gHl)"/><circle cx="958.33" cy="233.67" r="4.7" fill="url(#gOl)"/><circle cx="957.06" cy="232.63" r="2.63" fill="url(#gHl)"/><circle cx="962.65" cy="229.47" r="4.7" fill="url(#gOl)"/><circle cx="961.38" cy="228.43" r="2.63" fill="url(#gHl)"/><circle cx="966.98" cy="225.27" r="4.7" fill="url(#gOl)"/><circle cx="965.71" cy="224.23" r="2.63" fill="url(#gHl)"/><circle cx="971.3" cy="221.08" r="4.7" fill="url(#gOl)"/><circle cx="970.03" cy="220.04" r="2.63" fill="url(#gHl)"/><circle cx="975.63" cy="216.89" r="4.7" fill="url(#gOl)"/><circle cx="974.36" cy="215.85" r="2.63" fill="url(#gHl)"/><circle cx="979.95" cy="212.7" r="4.7" fill="url(#gOl)"/><circle cx="978.68" cy="211.67" r="2.63" fill="url(#gHl)"/><circle cx="984.28" cy="208.52" r="4.7" fill="url(#gOl)"/><circle cx="983.01" cy="207.49" r="2.63" fill="url(#gHl)"/><circle cx="988.6" cy="204.35" r="4.7" fill="url(#gOl)"/><circle cx="987.33" cy="203.31" r="2.63" fill="url(#gHl)"/><circle cx="992.93" cy="200.17" r="4.7" fill="url(#gOl)"/><circle cx="991.66" cy="199.14" r="2.63" fill="url(#gHl)"/><circle cx="997.25" cy="196" r="4.7" fill="url(#gOl)"/><circle cx="995.98" cy="194.97" r="2.63" fill="url(#gHl)"/><circle cx="1001.58" cy="191.83" r="4.7" fill="url(#gOl)"/><circle cx="1000.31" cy="190.8" r="2.63" fill="url(#gHl)"/><circle cx="1005.9" cy="187.67" r="4.7" fill="url(#gOl)"/><circle cx="1004.63" cy="186.64" r="2.63" fill="url(#gHl)"/><circle cx="1010.23" cy="183.51" r="4.7" fill="url(#gOl)"/><circle cx="1008.96" cy="182.47" r="2.63" fill="url(#gHl)"/><circle cx="1014.55" cy="179.34" r="4.7" fill="url(#gOl)"/><circle cx="1013.28" cy="178.31" r="2.63" fill="url(#gHl)"/><circle cx="1018.88" cy="175.18" r="4.7" fill="url(#gOl)"/><circle cx="1017.61" cy="174.15" r="2.63" fill="url(#gHl)"/><circle cx="1023.2" cy="171.02" r="4.7" fill="url(#gOl)"/><circle cx="1021.93" cy="169.99" r="2.63" fill="url(#gHl)"/><circle cx="1027.53" cy="166.87" r="4.7" fill="url(#gOl)"/><circle cx="1026.26" cy="165.83" r="2.63" fill="url(#gHl)"/><circle cx="1031.85" cy="162.71" r="4.7" fill="url(#gOl)"/><circle cx="1030.58" cy="161.67" r="2.63" fill="url(#gHl)"/><circle cx="1036.18" cy="158.55" r="4.7" fill="url(#gOl)"/><circle cx="1034.91" cy="157.52" r="2.63" fill="url(#gHl)"/><circle cx="1040.5" cy="154.39" r="4.7" fill="url(#gOl)"/><circle cx="1039.23" cy="153.36" r="2.63" fill="url(#gHl)"/><circle cx="1044.83" cy="150.23" r="4.7" fill="url(#gOl)"/><circle cx="1043.56" cy="149.2" r="2.63" fill="url(#gHl)"/><circle cx="1049.15" cy="146.08" r="4.7" fill="url(#gOl)"/><circle cx="1047.88" cy="145.05" r="2.63" fill="url(#gHl)"/><circle cx="1053.48" cy="141.93" r="4.7" fill="url(#gOl)"/><circle cx="1052.21" cy="140.9" r="2.63" fill="url(#gHl)"/><circle cx="1057.8" cy="137.79" r="4.7" fill="url(#gOl)"/><circle cx="1056.53" cy="136.76" r="2.63" fill="url(#gHl)"/><circle cx="1062.13" cy="133.67" r="4.7" fill="url(#gOl)"/><circle cx="1060.86" cy="132.64" r="2.63" fill="url(#gHl)"/><circle cx="1066.45" cy="129.56" r="4.7" fill="url(#gOl)"/><circle cx="1065.18" cy="128.53" r="2.63" fill="url(#gHl)"/><circle cx="1070.78" cy="125.47" r="4.7" fill="url(#gOl)"/><circle cx="1069.51" cy="124.44" r="2.63" fill="url(#gHl)"/><circle cx="1075.1" cy="121.41" r="4.7" fill="url(#gOl)"/><circle cx="1073.83" cy="120.37" r="2.63" fill="url(#gHl)"/><circle cx="1079.43" cy="117.36" r="4.7" fill="url(#gOl)"/><circle cx="1078.16" cy="116.33" r="2.63" fill="url(#gHl)"/><circle cx="1083.75" cy="113.35" r="4.7" fill="url(#gOl)"/><circle cx="1082.48" cy="112.32" r="2.63" fill="url(#gHl)"/><circle cx="1088.08" cy="109.37" r="4.7" fill="url(#gOl)"/><circle cx="1086.81" cy="108.34" r="2.63" fill="url(#gHl)"/><circle cx="1092.4" cy="105.43" r="4.7" fill="url(#gOl)"/><circle cx="1091.13" cy="104.39" r="2.63" fill="url(#gHl)"/><circle cx="1096.73" cy="101.52" r="4.7" fill="url(#gOl)"/><circle cx="1095.46" cy="100.48" r="2.63" fill="url(#gHl)"/><circle cx="1101.05" cy="97.65" r="4.7" fill="url(#gOl)"/><circle cx="1099.78" cy="96.62" r="2.63" fill="url(#gHl)"/><circle cx="1105.38" cy="93.82" r="4.7" fill="url(#gOl)"/><circle cx="1104.11" cy="92.79" r="2.63" fill="url(#gHl)"/><circle cx="1109.7" cy="90.04" r="4.7" fill="url(#gOl)"/><circle cx="1108.43" cy="89.01" r="2.63" fill="url(#gHl)"/><circle cx="1114.03" cy="86.3" r="4.7" fill="url(#gOl)"/><circle cx="1112.76" cy="85.27" r="2.63" fill="url(#gHl)"/><circle cx="1118.35" cy="82.62" r="4.7" fill="url(#gOl)"/><circle cx="1117.08" cy="81.58" r="2.63" fill="url(#gHl)"/><circle cx="1122.68" cy="78.98" r="4.7" fill="url(#gOl)"/><circle cx="1121.41" cy="77.95" r="2.63" fill="url(#gHl)"/><circle cx="1127" cy="75.4" r="4.7" fill="url(#gOl)"/><circle cx="1125.73" cy="74.36" r="2.63" fill="url(#gHl)"/><circle cx="1131.33" cy="71.87" r="4.7" fill="url(#gOl)"/><circle cx="1130.06" cy="70.83" r="2.63" fill="url(#gHl)"/><circle cx="1135.65" cy="68.39" r="4.7" fill="url(#gOl)"/><circle cx="1134.38" cy="67.36" r="2.63" fill="url(#gHl)"/><circle cx="1139.98" cy="64.97" r="4.7" fill="url(#gOl)"/><circle cx="1138.71" cy="63.94" r="2.63" fill="url(#gHl)"/><circle cx="1144.3" cy="61.62" r="4.7" fill="url(#gOl)"/><circle cx="1143.03" cy="60.58" r="2.63" fill="url(#gHl)"/><circle cx="1148.63" cy="58.32" r="4.7" fill="url(#gOl)"/><circle cx="1147.36" cy="57.28" r="2.63" fill="url(#gHl)"/><circle cx="1152.95" cy="55.08" r="4.7" fill="url(#gOl)"/><circle cx="1151.68" cy="54.05" r="2.63" fill="url(#gHl)"/><circle cx="1157.28" cy="51.91" r="4.7" fill="url(#gOl)"/><circle cx="1156.01" cy="50.87" r="2.63" fill="url(#gHl)"/><circle cx="1161.6" cy="48.79" r="4.7" fill="url(#gOl)"/><circle cx="1160.33" cy="47.76" r="2.63" fill="url(#gHl)"/></g>
<polyline points="742.9,367.39 743.31,367.42 743.72,367.46 744.12,367.49 744.53,367.52 744.94,367.54 745.35,367.57 745.75,367.6 746.16,367.62 746.57,367.64 746.97,367.66 747.38,367.68 747.79,367.7 748.19,367.72 748.6,367.74 749.01,367.75 749.41,367.77 749.82,367.78 750.23,367.79 750.63,367.8 751.04,367.81 751.45,367.82 751.85,367.83 752.26,367.83 752.66,367.84 753.07,367.84 753.48,367.84 753.88,367.84 754.29,367.84 754.69,367.84 755.1,367.84 755.5,367.84 755.91,367.83 756.31,367.82 756.72,367.82 757.12,367.81 757.52,367.8 757.93,367.78 758.33,367.77 758.74,367.76 759.14,367.74 759.54,367.73 759.95,367.71 760.35,367.69 760.75,367.67 761.16,367.65 761.56,367.63 761.96,367.61 762.36,367.58 762.77,367.55 763.17,367.53 763.57,367.5 763.97,367.47 764.37,367.44 764.78,367.41 765.18,367.38 765.58,367.34 765.98,367.31 766.38,367.27 766.78,367.23 767.18,367.19 767.58,367.15 767.98,367.11 768.38,367.07 768.78,367.03 769.18,366.98 769.58,366.93 769.98,366.89 770.38,366.84 770.78,366.79 771.17,366.74 771.57,366.69 771.97,366.63 772.37,366.58 772.77,366.53 773.16,366.47 773.56,366.41 773.96,366.35 774.35,366.29 774.75,366.23 775.15,366.17 775.54,366.11 775.94,366.04 776.33,365.98 776.73,365.91 777.12,365.84 777.52,365.77 777.91,365.7 778.31,365.63 778.7,365.56 779.09,365.48 779.49,365.41 779.88,365.33 780.27,365.26 780.66,365.18 781.06,365.1 781.45,365.02 781.84,364.94 782.23,364.85 782.62,364.77 783.01,364.68 783.4,364.6 783.79,364.51 784.18,364.42 784.57,364.33 784.96,364.24 785.35,364.15 785.74,364.06 786.13,363.96 786.52,363.87 786.91,363.77 787.29,363.67 787.68,363.57 788.07,363.47 788.46,363.37 788.84,363.27 789.23,363.17 789.61,363.06 790,362.96 790.38,362.85 790.77,362.75 791.15,362.64 791.54,362.53 791.92,362.42 792.3,362.3 792.69,362.19 793.07,362.08 793.45,361.96 793.84,361.85 794.22,361.73 794.6,361.61 794.98,361.49 795.36,361.37 795.74,361.25 796.12,361.12 796.5,361 796.88,360.87 797.26,360.75 797.64,360.62 798.01,360.49 798.39,360.36 798.77,360.23 799.15,360.1 799.52,359.97 799.9,359.83 800.28,359.7 800.65,359.56 801.03,359.43 801.4,359.29 801.77,359.15 802.15,359.01 802.52,358.87 802.9,358.73 803.27,358.58 803.64,358.44 804.01,358.29 804.38,358.15 804.76,358 805.13,357.85 805.5,357.7 805.87,357.55 806.24,357.4 806.61,357.25 806.98,357.1 807.35,356.94 807.71,356.79 808.08,356.63 808.45,356.48 808.82,356.32 809.18,356.16 809.55,356 809.92,355.84 810.28,355.68 810.65,355.52 811.01,355.35 811.38,355.19 811.74,355.02 812.1,354.86 812.47,354.69 812.83,354.53 813.19,354.36 813.56,354.19 813.92,354.02 814.28,353.85 814.64,353.68 815,353.5 815.36,353.33 815.72,353.16 816.08,352.98 816.44,352.81 816.8,352.63 817.16,352.45 817.52,352.28 817.88,352.1 818.23,351.92 818.59,351.74 818.95,351.56 819.31,351.38 819.66,351.2 820.02,351.01 820.37,350.83 820.73,350.64 821.08,350.46 821.44,350.27 821.79,350.09 822.14,349.9 822.5,349.71 822.85,349.52 823.2,349.34 823.56,349.15 823.91,348.96 824.26,348.76 824.61,348.57 824.96,348.38 825.31,348.19 825.66,347.99 826.01,347.8 826.36,347.6 826.71,347.41 827.06,347.21 827.41,347.02 827.75,346.82 828.1,346.62 828.45,346.42 828.79,346.23 829.14,346.03 829.49,345.83 829.83,345.63 830.18,345.42 830.52,345.22 830.87,345.02 831.21,344.82 831.56,344.62 831.9,344.41 832.24,344.21 832.58,344 832.93,343.8 833.27,343.59 833.61,343.39 833.95,343.18 834.29,342.97 834.63,342.77 834.97,342.56 835.31,342.35 835.65,342.14 835.99,341.93 836.33,341.72 836.67,341.51 837.01,341.3 837.35,341.09 837.69,340.87 838.02,340.66 838.36,340.45 838.7,340.23 839.03,340.02 839.37,339.81 839.7,339.59 840.04,339.38 840.37,339.16 840.71,338.94 841.04,338.73 841.38,338.51 841.71,338.29 842.04,338.07 842.38,337.85 842.71,337.63 843.04,337.41 843.37,337.19 843.71,336.97 844.04,336.75 844.37,336.53 844.7,336.31 845.03,336.09 845.36,335.86 845.69,335.64 846.02,335.42 846.35,335.19 846.68,334.97 847.01,334.74 847.33,334.52 847.66,334.29 847.99,334.06 848.32,333.84 848.65,333.61 848.97,333.38 849.3,333.15 849.62,332.92 849.95,332.7 850.28,332.47 850.6,332.24 850.93,332.01 851.25,331.78 851.58,331.54 851.9,331.31 852.22,331.08 852.55,330.85 852.87,330.62 853.19,330.38 853.52,330.15 853.84,329.91 854.16,329.68 854.48,329.45 854.81,329.21 855.13,328.97 855.45,328.74 855.77,328.5 856.09,328.27 856.41,328.03 856.73,327.79 857.05,327.55 857.37,327.31 857.69,327.08 858.01,326.84 858.33,326.6 858.64,326.36 858.96,326.12 859.28,325.88 859.6,325.63 859.91,325.39 860.23,325.15 860.55,324.91 860.87,324.67 861.18,324.42 861.5,324.18 861.81,323.94 862.13,323.69 862.44,323.45 862.76,323.2 863.07,322.96 863.39,322.71 863.7,322.47 864.02,322.22 864.33,321.97 864.64,321.73 864.96,321.48 865.27,321.23 865.58,320.99 865.9,320.74 866.21,320.49 866.52,320.24 866.83,319.99 867.14,319.74 867.45,319.49 867.77,319.24 868.08,318.99 868.39,318.74 868.7,318.49 869.01,318.24 869.32,317.99 869.63,317.73 869.94,317.48 870.25,317.23 870.56,316.97 870.87,316.72 871.17,316.47 871.48,316.21 871.79,315.96 872.1,315.7 872.41,315.45 872.71,315.19 873.02,314.94 873.33,314.68 873.64,314.43 873.94,314.17 874.25,313.91 874.55,313.66 874.86,313.4 875.17,313.14 875.47,312.88 875.78,312.63 876.08,312.37 876.39,312.11 876.69,311.85 877,311.59 877.3,311.33 877.61,311.07 877.91,310.81 878.21,310.55 878.52,310.29 878.82,310.03 879.12,309.77 879.43,309.51 879.73,309.24 880.03,308.98 880.34,308.72 880.64,308.46 880.94,308.19 881.24,307.93 881.54,307.67 881.85,307.4 882.15,307.14 882.45,306.88 882.75,306.61 883.05,306.35 883.35,306.08 883.65,305.82 883.95,305.55 884.25,305.29 884.55,305.02 884.85,304.76 885.15,304.49 885.45,304.22 885.75,303.96 886.05,303.69 886.35,303.42 886.65,303.16 886.95,302.89 887.24,302.62 887.54,302.35 887.84,302.08 888.14,301.82 888.44,301.55 888.74,301.28 889.03,301.01 889.33,300.74 889.63,300.47 889.92,300.2 890.22,299.93 890.52,299.66 890.81,299.39 891.11,299.12 891.41,298.85 891.7,298.58 892,298.31 892.3,298.04 892.59,297.76 892.89,297.49 893.18,297.22 893.48,296.95 893.77,296.68 894.07,296.4 894.36,296.13 894.66,295.86 894.95,295.59 895.25,295.31 895.54,295.04 895.84,294.77 896.13,294.49 896.42,294.22 896.72,293.94 897.01,293.67 897.31,293.4 897.6,293.12 897.89,292.85 898.19,292.57 898.48,292.3 898.77,292.02 899.06,291.75 899.36,291.47 899.65,291.2 899.94,290.92 900.24,290.65 900.53,290.37 900.82,290.09 901.11,289.82 901.4,289.54 901.7,289.26 901.99,288.99 902.28,288.71 902.57,288.43 902.86,288.16 903.15,287.88 903.45,287.6 903.74,287.33 904.03,287.05 904.32,286.77 904.61,286.49 904.9,286.21 905.19,285.94 905.48,285.66 905.77,285.38 906.06,285.1 906.35,284.82 906.64,284.54 906.93,284.27 907.22,283.99 907.51,283.71 907.8,283.43 908.09,283.15 908.38,282.87 908.67,282.59 908.96,282.31 909.25,282.03 909.54,281.75 909.83,281.47 910.12,281.19 910.41,280.91 910.7,280.63 910.99,280.35 911.28,280.07 911.56,279.79 911.85,279.51 912.14,279.23 912.43,278.95 912.72,278.67 913.01,278.39 913.3,278.11 913.58,277.83 913.87,277.55 914.16,277.27 914.45,276.99 914.74,276.71 915.03,276.43 915.31,276.15 915.6,275.87 915.89,275.58 916.18,275.3 916.47,275.02 916.75,274.74 917.04,274.46 917.33,274.18 917.62,273.9 917.9,273.62 918.19,273.33 918.48,273.05 918.77,272.77 919.05,272.49 919.34,272.21 919.63,271.93 919.92,271.64 920.2,271.36 920.49,271.08 920.78,270.8 921.07,270.52 921.35,270.24 921.64,269.95 921.93,269.67 922.21,269.39 922.5,269.11 922.79,268.83 923.08,268.54 923.36,268.26 923.65,267.98 923.94,267.7 924.22,267.42 924.51,267.14 924.8,266.85 925.08,266.57 925.37,266.29 925.66,266.01 925.94,265.73 926.23,265.44 926.52,265.16 926.8,264.88 927.09,264.6 927.38,264.32 927.66,264.04 927.95,263.75 928.24,263.47 928.52,263.19 928.81,262.91 929.1,262.63 929.38,262.35 929.67,262.06 929.96,261.78 930.24,261.5 930.53,261.22 930.82,260.94 931.1,260.66 931.39,260.37 931.68,260.09 931.96,259.81 932.25,259.53 932.54,259.25 932.83,258.97 933.11,258.69 933.4,258.41 933.69,258.12 933.97,257.84 934.26,257.56 934.55,257.28 934.83,257 935.12,256.72 935.41,256.44 935.69,256.16 935.98,255.88 936.27,255.6 936.55,255.31 936.84,255.03 937.13,254.75 937.41,254.47 937.7,254.19 937.99,253.91 938.27,253.63 938.56,253.35 938.85,253.07 939.13,252.79 939.42,252.51 939.71,252.23 939.99,251.95 940.28,251.67 940.57,251.38 940.85,251.1 941.14,250.82 941.43,250.54 941.71,250.26 942,249.98 942.29,249.7 942.57,249.42 942.86,249.14 943.15,248.86 943.43,248.58 943.72,248.3 944.01,248.02 944.29,247.74 944.58,247.46 944.87,247.18 945.15,246.9 945.44,246.62 945.73,246.34 946.02,246.06 946.3,245.78 946.59,245.5 946.88,245.22 947.16,244.94 947.45,244.66 947.74,244.38 948.02,244.1 948.31,243.82 948.6,243.54 948.88,243.26 949.17,242.98 949.46,242.7 949.74,242.42 950.03,242.14 950.32,241.86 950.6,241.58 950.89,241.31 951.18,241.03 951.46,240.75 951.75,240.47 952.04,240.19 952.33,239.91 952.61,239.63 952.9,239.35 953.19,239.07 953.47,238.79 953.76,238.51 954.05,238.23 954.33,237.95 954.62,237.67 954.91,237.39 955.19,237.11 955.48,236.84 955.77,236.56 956.05,236.28 956.34,236 956.63,235.72 956.91,235.44 957.2,235.16 957.49,234.88 957.78,234.6 958.06,234.32 958.35,234.04 958.64,233.77 958.92,233.49 959.21,233.21 959.5,232.93 959.78,232.65 960.07,232.37 960.36,232.09 960.64,231.81 960.93,231.54 961.22,231.26 961.51,230.98 961.79,230.7 962.08,230.42 962.37,230.14 962.65,229.86 962.94,229.58 963.23,229.31 963.51,229.03 963.8,228.75 964.09,228.47 964.37,228.19 964.66,227.91 964.95,227.63 965.24,227.36 965.52,227.08 965.81,226.8 966.1,226.52 966.38,226.24 966.67,225.96 966.96,225.69 967.24,225.41 967.53,225.13 967.82,224.85 968.11,224.57 968.39,224.29 968.68,224.02 968.97,223.74 969.25,223.46 969.54,223.18 969.83,222.9 970.12,222.62 970.4,222.35 970.69,222.07 970.98,221.79 971.26,221.51 971.55,221.23 971.84,220.95 972.12,220.68 972.41,220.4 972.7,220.12 972.99,219.84 973.27,219.56 973.56,219.29 973.85,219.01 974.13,218.73 974.42,218.45 974.71,218.17 975,217.9 975.28,217.62 975.57,217.34 975.86,217.06 976.14,216.79 976.43,216.51 976.72,216.23 977.01,215.95 977.29,215.67 977.58,215.4 977.87,215.12 978.15,214.84 978.44,214.56 978.73,214.28 979.02,214.01 979.3,213.73 979.59,213.45 979.88,213.17 980.16,212.9 980.45,212.62 980.74,212.34 981.03,212.06 981.31,211.79 981.6,211.51 981.89,211.23 982.17,210.95 982.46,210.67 982.75,210.4 983.04,210.12 983.32,209.84 983.61,209.56 983.9,209.29 984.19,209.01 984.47,208.73 984.76,208.45 985.05,208.18 985.33,207.9 985.62,207.62 985.91,207.34 986.2,207.07 986.48,206.79 986.77,206.51 987.06,206.23 987.35,205.96 987.63,205.68 987.92,205.4 988.21,205.13 988.5,204.85 988.78,204.57 989.07,204.29 989.36,204.02 989.64,203.74 989.93,203.46 990.22,203.18 990.51,202.91 990.79,202.63 991.08,202.35 991.37,202.07 991.66,201.8 991.94,201.52 992.23,201.24 992.52,200.97 992.81,200.69 993.09,200.41 993.38,200.13 993.67,199.86 993.96,199.58 994.24,199.3 994.53,199.02 994.82,198.75 995.11,198.47 995.39,198.19 995.68,197.92 995.97,197.64 996.26,197.36 996.54,197.08 996.83,196.81 997.12,196.53 997.41,196.25 997.69,195.98 997.98,195.7 998.27,195.42 998.56,195.14 998.84,194.87 999.13,194.59 999.42,194.31 999.71,194.04 999.99,193.76 1000.28,193.48 1000.57,193.2 1000.86,192.93 1001.14,192.65 1001.43,192.37 1001.72,192.1 1002.01,191.82 1002.29,191.54 1002.58,191.27 1002.87,190.99 1003.16,190.71 1003.44,190.43 1003.73,190.16 1004.02,189.88 1004.31,189.6 1004.6,189.33 1004.88,189.05 1005.17,188.77 1005.46,188.49 1005.75,188.22 1006.03,187.94 1006.32,187.66 1006.61,187.39 1006.9,187.11 1007.18,186.83 1007.47,186.56 1007.76,186.28 1008.05,186 1008.34,185.72 1008.62,185.45 1008.91,185.17 1009.2,184.89 1009.49,184.62 1009.77,184.34 1010.06,184.06 1010.35,183.79 1010.64,183.51 1010.93,183.23 1011.21,182.95 1011.5,182.68 1011.79,182.4 1012.08,182.12 1012.36,181.85 1012.65,181.57 1012.94,181.29 1013.23,181.02 1013.52,180.74 1013.8,180.46 1014.09,180.18 1014.38,179.91 1014.67,179.63 1014.96,179.35 1015.24,179.08 1015.53,178.8 1015.82,178.52 1016.11,178.25 1016.4,177.97 1016.68,177.69 1016.97,177.41 1017.26,177.14 1017.55,176.86 1017.84,176.58 1018.12,176.31 1018.41,176.03 1018.7,175.75 1018.99,175.48 1019.28,175.2 1019.56,174.92 1019.85,174.64 1020.14,174.37 1020.43,174.09 1020.72,173.81 1021,173.54 1021.29,173.26 1021.58,172.98 1021.87,172.71 1022.16,172.43 1022.44,172.15 1022.73,171.87 1023.02,171.6 1023.31,171.32 1023.6,171.04 1023.89,170.77 1024.17,170.49 1024.46,170.21 1024.75,169.93 1025.04,169.66 1025.33,169.38 1025.61,169.1 1025.9,168.83 1026.19,168.55 1026.48,168.27 1026.77,167.99 1027.06,167.72 1027.34,167.44 1027.63,167.16 1027.92,166.89 1028.21,166.61 1028.5,166.33 1028.78,166.05 1029.07,165.78 1029.36,165.5 1029.65,165.22 1029.94,164.95 1030.23,164.67 1030.51,164.39 1030.8,164.11 1031.09,163.84 1031.38,163.56 1031.67,163.28 1031.96,163.01 1032.25,162.73 1032.53,162.45 1032.82,162.17 1033.11,161.9 1033.4,161.62 1033.69,161.34 1033.98,161.06 1034.26,160.79 1034.55,160.51 1034.84,160.23 1035.13,159.96 1035.42,159.68 1035.71,159.4 1035.99,159.12 1036.28,158.85 1036.57,158.57 1036.86,158.29 1037.15,158.01 1037.44,157.74 1037.73,157.46 1038.01,157.18 1038.3,156.9 1038.59,156.63 1038.88,156.35 1039.17,156.07 1039.46,155.79 1039.75,155.52 1040.03,155.24 1040.32,154.96 1040.61,154.68 1040.9,154.41 1041.19,154.13 1041.48,153.85 1041.77,153.57 1042.06,153.3 1042.34,153.02 1042.63,152.74 1042.92,152.46 1043.21,152.19 1043.5,151.91 1043.79,151.63 1044.08,151.35 1044.37,151.08 1044.65,150.8 1044.94,150.52 1045.23,150.24 1045.52,149.97 1045.81,149.69 1046.1,149.41 1046.39,149.13 1046.68,148.86 1046.97,148.58 1047.25,148.3 1047.54,148.02 1047.83,147.75 1048.12,147.47 1048.41,147.19 1048.7,146.91 1048.99,146.64 1049.28,146.36 1049.57,146.08 1049.86,145.8 1050.15,145.53 1050.43,145.25 1050.72,144.97 1051.01,144.69 1051.3,144.42 1051.59,144.14 1051.88,143.86 1052.17,143.58 1052.46,143.31 1052.75,143.03 1053.04,142.75 1053.33,142.47 1053.62,142.2 1053.91,141.92 1054.2,141.64 1054.49,141.36 1054.78,141.09 1055.07,140.81 1055.35,140.53 1055.64,140.26 1055.93,139.98 1056.22,139.7 1056.51,139.42 1056.8,139.15 1057.09,138.87 1057.38,138.59 1057.67,138.32 1057.96,138.04 1058.25,137.76 1058.54,137.48 1058.83,137.21 1059.12,136.93 1059.41,136.65 1059.7,136.38 1059.99,136.1 1060.28,135.82 1060.57,135.55 1060.86,135.27 1061.15,134.99 1061.45,134.72 1061.74,134.44 1062.03,134.16 1062.32,133.89 1062.61,133.61 1062.9,133.33 1063.19,133.06 1063.48,132.78 1063.77,132.5 1064.06,132.23 1064.35,131.95 1064.64,131.68 1064.93,131.4 1065.22,131.12 1065.51,130.85 1065.81,130.57 1066.1,130.3 1066.39,130.02 1066.68,129.74 1066.97,129.47 1067.26,129.19 1067.55,128.92 1067.84,128.64 1068.14,128.36 1068.43,128.09 1068.72,127.81 1069.01,127.54 1069.3,127.26 1069.59,126.99 1069.88,126.71 1070.18,126.44 1070.47,126.16 1070.76,125.89 1071.05,125.61 1071.34,125.34 1071.64,125.06 1071.93,124.79 1072.22,124.51 1072.51,124.24 1072.8,123.96 1073.1,123.69 1073.39,123.41 1073.68,123.14 1073.97,122.86 1074.27,122.59 1074.56,122.31 1074.85,122.04 1075.14,121.76 1075.44,121.49 1075.73,121.22 1076.02,120.94 1076.32,120.67 1076.61,120.39 1076.9,120.12 1077.19,119.85 1077.49,119.57 1077.78,119.3 1078.07,119.02 1078.37,118.75 1078.66,118.48 1078.95,118.2 1079.25,117.93 1079.54,117.66 1079.84,117.38 1080.13,117.11 1080.42,116.84 1080.72,116.56 1081.01,116.29 1081.3,116.02 1081.6,115.75 1081.89,115.47 1082.19,115.2 1082.48,114.93 1082.78,114.65 1083.07,114.38 1083.36,114.11 1083.66,113.84 1083.95,113.57 1084.25,113.29 1084.54,113.02 1084.84,112.75 1085.13,112.48 1085.43,112.21 1085.72,111.93 1086.02,111.66 1086.31,111.39 1086.61,111.12 1086.9,110.85 1087.2,110.58 1087.49,110.31 1087.79,110.03 1088.08,109.76 1088.38,109.49 1088.68,109.22 1088.97,108.95 1089.27,108.68 1089.56,108.41 1089.86,108.14 1090.16,107.87 1090.45,107.6 1090.75,107.33 1091.05,107.06 1091.34,106.79 1091.64,106.52 1091.94,106.25 1092.23,105.98 1092.53,105.71 1092.83,105.44 1093.12,105.17 1093.42,104.9 1093.72,104.63 1094.01,104.36 1094.31,104.1 1094.61,103.83 1094.91,103.56 1095.2,103.29 1095.5,103.02 1095.8,102.75 1096.1,102.48 1096.39,102.22 1096.69,101.95 1096.99,101.68 1097.29,101.41 1097.59,101.14 1097.89,100.88 1098.18,100.61 1098.48,100.34 1098.78,100.07 1099.08,99.81 1099.38,99.54 1099.68,99.27 1099.98,99.01 1100.28,98.74 1100.57,98.47 1100.87,98.21 1101.17,97.94 1101.47,97.67 1101.77,97.41 1102.07,97.14 1102.37,96.88 1102.67,96.61 1102.97,96.34 1103.27,96.08 1103.57,95.81 1103.87,95.55 1104.17,95.28 1104.47,95.02 1104.77,94.75 1105.07,94.49 1105.37,94.22 1105.68,93.96 1105.98,93.69 1106.28,93.43 1106.58,93.17 1106.88,92.9 1107.18,92.64 1107.48,92.37 1107.78,92.11 1108.09,91.85 1108.39,91.58 1108.69,91.32 1108.99,91.06 1109.29,90.79 1109.6,90.53 1109.9,90.27 1110.2,90.01 1110.5,89.74 1110.81,89.48 1111.11,89.22 1111.41,88.96 1111.71,88.69 1112.02,88.43 1112.32,88.17 1112.62,87.91 1112.93,87.65 1113.23,87.39 1113.53,87.13 1113.84,86.86 1114.14,86.6 1114.45,86.34 1114.75,86.08 1115.05,85.82 1115.36,85.56 1115.66,85.3 1115.97,85.04 1116.27,84.78 1116.58,84.52 1116.88,84.26 1117.19,84 1117.49,83.75 1117.8,83.49 1118.1,83.23 1118.41,82.97 1118.71,82.71 1119.02,82.45 1119.32,82.19 1119.63,81.94 1119.94,81.68 1120.24,81.42 1120.55,81.16 1120.85,80.9 1121.16,80.65 1121.47,80.39 1121.77,80.13 1122.08,79.88 1122.39,79.62 1122.69,79.36 1123,79.11 1123.31,78.85 1123.62,78.59 1123.92,78.34 1124.23,78.08 1124.54,77.83 1124.85,77.57 1125.16,77.32 1125.46,77.06 1125.77,76.81 1126.08,76.55 1126.39,76.3 1126.7,76.04 1127.01,75.79 1127.32,75.54 1127.63,75.28 1127.93,75.03 1128.24,74.77 1128.55,74.52 1128.86,74.27 1129.17,74.01 1129.48,73.76 1129.79,73.51 1130.1,73.26 1130.41,73 1130.72,72.75 1131.03,72.5 1131.35,72.25 1131.66,72 1131.97,71.75 1132.28,71.49 1132.59,71.24 1132.9,70.99 1133.21,70.74 1133.52,70.49 1133.84,70.24 1134.15,69.99 1134.46,69.74 1134.77,69.49 1135.08,69.24 1135.4,68.99 1135.71,68.74 1136.02,68.49 1136.34,68.25 1136.65,68 1136.96,67.75 1137.27,67.5 1137.59,67.25 1137.9,67 1138.22,66.76 1138.53,66.51 1138.84,66.26 1139.16,66.02 1139.47,65.77 1139.79,65.52 1140.1,65.28 1140.42,65.03 1140.73,64.78 1141.05,64.54 1141.36,64.29 1141.68,64.05 1141.99,63.8 1142.31,63.56 1142.62,63.31 1142.94,63.07 1143.26,62.82 1143.57,62.58 1143.89,62.33 1144.21,62.09 1144.52,61.85 1144.84,61.6 1145.16,61.36 1145.47,61.12 1145.79,60.87 1146.11,60.63 1146.43,60.39 1146.74,60.15 1147.06,59.9 1147.38,59.66 1147.7,59.42 1148.02,59.18 1148.34,58.94 1148.65,58.7 1148.97,58.46 1149.29,58.22 1149.61,57.97 1149.93,57.73 1150.25,57.49 1150.57,57.26 1150.89,57.02 1151.21,56.78 1151.53,56.54 1151.85,56.3 1152.17,56.06 1152.49,55.82 1152.81,55.58 1153.13,55.35 1153.45,55.11 1153.78,54.87 1154.1,54.63 1154.42,54.4 1154.74,54.16 1155.06,53.92 1155.39,53.69 1155.71,53.45 1156.03,53.21 1156.35,52.98 1156.68,52.74 1157,52.51 1157.32,52.27 1157.64,52.04 1157.97,51.8 1158.29,51.57 1158.62,51.33 1158.94,51.1 1159.26,50.87 1159.59,50.63 1159.91,50.4 1160.24,50.17 1160.56,49.94 1160.89,49.7 1161.21,49.47 1161.54,49.24 1161.86,49.01 1162.19,48.78 1162.52,48.54 1162.84,48.31" fill="none" stroke="#ff0000" stroke-width="3.1" stroke-linejoin="round" stroke-linecap="round" stroke-linecap="butt"/>
<rect x="687.3" y="17.6" width="476.5" height="380.1" fill="none" stroke="#000" stroke-width="2.5" stroke-linejoin="miter"/>
<line x1="730.8" y1="397.7" x2="730.8" y2="390.7" stroke="#000" stroke-width="2.5" stroke-linecap="butt"/>
<line x1="730.8" y1="17.6" x2="730.8" y2="24.6" stroke="#000" stroke-width="2.5" stroke-linecap="butt"/>
<line x1="817.3" y1="397.7" x2="817.3" y2="390.7" stroke="#000" stroke-width="2.5" stroke-linecap="butt"/>
<line x1="817.3" y1="17.6" x2="817.3" y2="24.6" stroke="#000" stroke-width="2.5" stroke-linecap="butt"/>
<line x1="903.8" y1="397.7" x2="903.8" y2="390.7" stroke="#000" stroke-width="2.5" stroke-linecap="butt"/>
<line x1="903.8" y1="17.6" x2="903.8" y2="24.6" stroke="#000" stroke-width="2.5" stroke-linecap="butt"/>
<line x1="990.3" y1="397.7" x2="990.3" y2="390.7" stroke="#000" stroke-width="2.5" stroke-linecap="butt"/>
<line x1="990.3" y1="17.6" x2="990.3" y2="24.6" stroke="#000" stroke-width="2.5" stroke-linecap="butt"/>
<line x1="1076.8" y1="397.7" x2="1076.8" y2="390.7" stroke="#000" stroke-width="2.5" stroke-linecap="butt"/>
<line x1="1076.8" y1="17.6" x2="1076.8" y2="24.6" stroke="#000" stroke-width="2.5" stroke-linecap="butt"/>
<line x1="774.05" y1="397.7" x2="774.05" y2="394.2" stroke="#000" stroke-width="2.5" stroke-linecap="butt"/>
<line x1="774.05" y1="17.6" x2="774.05" y2="21.1" stroke="#000" stroke-width="2.5" stroke-linecap="butt"/>
<line x1="860.55" y1="397.7" x2="860.55" y2="394.2" stroke="#000" stroke-width="2.5" stroke-linecap="butt"/>
<line x1="860.55" y1="17.6" x2="860.55" y2="21.1" stroke="#000" stroke-width="2.5" stroke-linecap="butt"/>
<line x1="947.05" y1="397.7" x2="947.05" y2="394.2" stroke="#000" stroke-width="2.5" stroke-linecap="butt"/>
<line x1="947.05" y1="17.6" x2="947.05" y2="21.1" stroke="#000" stroke-width="2.5" stroke-linecap="butt"/>
<line x1="1033.55" y1="397.7" x2="1033.55" y2="394.2" stroke="#000" stroke-width="2.5" stroke-linecap="butt"/>
<line x1="1033.55" y1="17.6" x2="1033.55" y2="21.1" stroke="#000" stroke-width="2.5" stroke-linecap="butt"/>
<line x1="1120.05" y1="397.7" x2="1120.05" y2="394.2" stroke="#000" stroke-width="2.5" stroke-linecap="butt"/>
<line x1="1120.05" y1="17.6" x2="1120.05" y2="21.1" stroke="#000" stroke-width="2.5" stroke-linecap="butt"/>
<line x1="687.3" y1="367.2" x2="694.3" y2="367.2" stroke="#000" stroke-width="2.5" stroke-linecap="butt"/>
<line x1="1163.8" y1="367.2" x2="1156.8" y2="367.2" stroke="#000" stroke-width="2.5" stroke-linecap="butt"/>
<line x1="687.3" y1="306.38" x2="694.3" y2="306.38" stroke="#000" stroke-width="2.5" stroke-linecap="butt"/>
<line x1="1163.8" y1="306.38" x2="1156.8" y2="306.38" stroke="#000" stroke-width="2.5" stroke-linecap="butt"/>
<line x1="687.3" y1="245.56" x2="694.3" y2="245.56" stroke="#000" stroke-width="2.5" stroke-linecap="butt"/>
<line x1="1163.8" y1="245.56" x2="1156.8" y2="245.56" stroke="#000" stroke-width="2.5" stroke-linecap="butt"/>
<line x1="687.3" y1="184.74" x2="694.3" y2="184.74" stroke="#000" stroke-width="2.5" stroke-linecap="butt"/>
<line x1="1163.8" y1="184.74" x2="1156.8" y2="184.74" stroke="#000" stroke-width="2.5" stroke-linecap="butt"/>
<line x1="687.3" y1="123.92" x2="694.3" y2="123.92" stroke="#000" stroke-width="2.5" stroke-linecap="butt"/>
<line x1="1163.8" y1="123.92" x2="1156.8" y2="123.92" stroke="#000" stroke-width="2.5" stroke-linecap="butt"/>
<line x1="687.3" y1="63.1" x2="694.3" y2="63.1" stroke="#000" stroke-width="2.5" stroke-linecap="butt"/>
<line x1="1163.8" y1="63.1" x2="1156.8" y2="63.1" stroke="#000" stroke-width="2.5" stroke-linecap="butt"/>
<line x1="687.3" y1="336.79" x2="690.8" y2="336.79" stroke="#000" stroke-width="2.5" stroke-linecap="butt"/>
<line x1="1163.8" y1="336.79" x2="1160.3" y2="336.79" stroke="#000" stroke-width="2.5" stroke-linecap="butt"/>
<line x1="687.3" y1="275.97" x2="690.8" y2="275.97" stroke="#000" stroke-width="2.5" stroke-linecap="butt"/>
<line x1="1163.8" y1="275.97" x2="1160.3" y2="275.97" stroke="#000" stroke-width="2.5" stroke-linecap="butt"/>
<line x1="687.3" y1="215.15" x2="690.8" y2="215.15" stroke="#000" stroke-width="2.5" stroke-linecap="butt"/>
<line x1="1163.8" y1="215.15" x2="1160.3" y2="215.15" stroke="#000" stroke-width="2.5" stroke-linecap="butt"/>
<line x1="687.3" y1="154.33" x2="690.8" y2="154.33" stroke="#000" stroke-width="2.5" stroke-linecap="butt"/>
<line x1="1163.8" y1="154.33" x2="1160.3" y2="154.33" stroke="#000" stroke-width="2.5" stroke-linecap="butt"/>
<line x1="687.3" y1="93.51" x2="690.8" y2="93.51" stroke="#000" stroke-width="2.5" stroke-linecap="butt"/>
<line x1="1163.8" y1="93.51" x2="1160.3" y2="93.51" stroke="#000" stroke-width="2.5" stroke-linecap="butt"/>
<line x1="687.3" y1="32.69" x2="690.8" y2="32.69" stroke="#000" stroke-width="2.5" stroke-linecap="butt"/>
<line x1="1163.8" y1="32.69" x2="1160.3" y2="32.69" stroke="#000" stroke-width="2.5" stroke-linecap="butt"/>
<text x="730.8" y="428.2" font-family="'Liberation Serif', 'Times New Roman', serif" font-size="29.5" font-weight="bold" text-anchor="middle" >0</text>
<text x="817.3" y="428.2" font-family="'Liberation Serif', 'Times New Roman', serif" font-size="29.5" font-weight="bold" text-anchor="middle" >20</text>
<text x="903.8" y="428.2" font-family="'Liberation Serif', 'Times New Roman', serif" font-size="29.5" font-weight="bold" text-anchor="middle" >40</text>
<text x="990.3" y="428.2" font-family="'Liberation Serif', 'Times New Roman', serif" font-size="29.5" font-weight="bold" text-anchor="middle" >60</text>
<text x="1076.8" y="428.2" font-family="'Liberation Serif', 'Times New Roman', serif" font-size="29.5" font-weight="bold" text-anchor="middle" >80</text>
<text x="1163.3" y="428.2" font-family="'Liberation Serif', 'Times New Roman', serif" font-size="29.5" font-weight="bold" text-anchor="middle" >100</text>
<text x="678.8" y="376.3" font-family="'Liberation Serif', 'Times New Roman', serif" font-size="29.5" font-weight="bold" text-anchor="end" >0</text>
<text x="678.8" y="315.48" font-family="'Liberation Serif', 'Times New Roman', serif" font-size="29.5" font-weight="bold" text-anchor="end" >20</text>
<text x="678.8" y="254.66" font-family="'Liberation Serif', 'Times New Roman', serif" font-size="29.5" font-weight="bold" text-anchor="end" >40</text>
<text x="678.8" y="193.84" font-family="'Liberation Serif', 'Times New Roman', serif" font-size="29.5" font-weight="bold" text-anchor="end" >60</text>
<text x="678.8" y="133.02" font-family="'Liberation Serif', 'Times New Roman', serif" font-size="29.5" font-weight="bold" text-anchor="end" >80</text>
<text x="678.8" y="72.2" font-family="'Liberation Serif', 'Times New Roman', serif" font-size="29.5" font-weight="bold" text-anchor="end" >100</text>
<text x="926.5" y="462.3" font-family="'Liberation Serif', 'Times New Roman', serif" font-size="33" font-weight="bold" text-anchor="middle" ><tspan font-style="italic">T</tspan> (K)</text>
<text x="0" y="0" transform="translate(614.8,195.5) rotate(-90)" font-family="'Liberation Serif', 'Times New Roman', serif" font-size="33" font-weight="bold" text-anchor="middle" ><tspan font-style="italic">C</tspan><tspan font-style="italic" font-size="22" dy="7">p</tspan><tspan dy="-7"> (J. mol</tspan><tspan font-size="21" dy="-13.5">-1</tspan><tspan dy="13.5">. K</tspan><tspan font-size="21" dy="-13.5">-1</tspan><tspan dy="13.5">)</tspan></text>
<line x1="1016" y1="298.7" x2="1071.2" y2="298.7" stroke="#808000" stroke-width="2.5" stroke-linecap="butt"/>
<g><circle cx="1043.5" cy="298.7" r="3.8" fill="url(#gOl)"/><circle cx="1042.47" cy="297.86" r="2.13" fill="url(#gHl)"/></g>
<line x1="1016" y1="333.5" x2="1071.2" y2="333.5" stroke="#ff0000" stroke-width="2.8" stroke-linecap="butt"/>
<text x="1075" y="307.2" font-family="'Liberation Serif', 'Times New Roman', serif" font-size="22.5" font-weight="bold" text-anchor="start" >C<tspan font-size="15.5" dy="6">p</tspan></text>
<text x="1075" y="342" font-family="'Liberation Serif', 'Times New Roman', serif" font-size="22.5" font-weight="bold" text-anchor="start" >C<tspan font-size="15.5" dy="6">ph</tspan></text>
<text x="597" y="28.4" font-family="'Liberation Sans', Arial, sans-serif" font-size="38.3" font-weight="bold" text-anchor="start" >B</text>
<rect x="783.6" y="44.2" width="178.4" height="143.4" fill="#fff"/>
<g><circle cx="818.55" cy="109" r="4.5" fill="url(#gOl)"/><circle cx="817.34" cy="108.01" r="2.52" fill="url(#gHl)"/><circle cx="821.69" cy="109.85" r="4.5" fill="url(#gOl)"/><circle cx="820.47" cy="108.86" r="2.52" fill="url(#gHl)"/><circle cx="824.84" cy="110.66" r="4.5" fill="url(#gOl)"/><circle cx="823.62" cy="109.67" r="2.52" fill="url(#gHl)"/><circle cx="827.99" cy="111.43" r="4.5" fill="url(#gOl)"/><circle cx="826.78" cy="110.44" r="2.52" fill="url(#gHl)"/><circle cx="831.16" cy="112.17" r="4.5" fill="url(#gOl)"/><circle cx="829.94" cy="111.18" r="2.52" fill="url(#gHl)"/><circle cx="834.33" cy="112.87" r="4.5" fill="url(#gOl)"/><circle cx="833.12" cy="111.88" r="2.52" fill="url(#gHl)"/><circle cx="837.51" cy="113.53" r="4.5" fill="url(#gOl)"/><circle cx="836.3" cy="112.54" r="2.52" fill="url(#gHl)"/><circle cx="840.7" cy="114.14" r="4.5" fill="url(#gOl)"/><circle cx="839.49" cy="113.15" r="2.52" fill="url(#gHl)"/><circle cx="843.9" cy="114.72" r="4.5" fill="url(#gOl)"/><circle cx="842.69" cy="113.73" r="2.52" fill="url(#gHl)"/><circle cx="847.11" cy="115.26" r="4.5" fill="url(#gOl)"/><circle cx="845.89" cy="114.27" r="2.52" fill="url(#gHl)"/><circle cx="850.32" cy="115.75" r="4.5" fill="url(#gOl)"/><circle cx="849.1" cy="114.76" r="2.52" fill="url(#gHl)"/><circle cx="853.54" cy="116.21" r="4.5" fill="url(#gOl)"/><circle cx="852.32" cy="115.22" r="2.52" fill="url(#gHl)"/><circle cx="856.76" cy="116.62" r="4.5" fill="url(#gOl)"/><circle cx="855.55" cy="115.63" r="2.52" fill="url(#gHl)"/><circle cx="859.99" cy="116.99" r="4.5" fill="url(#gOl)"/><circle cx="858.78" cy="116" r="2.52" fill="url(#gHl)"/><circle cx="863.22" cy="117.31" r="4.5" fill="url(#gOl)"/><circle cx="862.01" cy="116.32" r="2.52" fill="url(#gHl)"/><circle cx="866.46" cy="117.59" r="4.5" fill="url(#gOl)"/><circle cx="865.25" cy="116.6" r="2.52" fill="url(#gHl)"/><circle cx="869.7" cy="117.83" r="4.5" fill="url(#gOl)"/><circle cx="868.49" cy="116.84" r="2.52" fill="url(#gHl)"/><circle cx="872.95" cy="118.02" r="4.5" fill="url(#gOl)"/><circle cx="871.73" cy="117.03" r="2.52" fill="url(#gHl)"/><circle cx="876.2" cy="118.16" r="4.5" fill="url(#gOl)"/><circle cx="874.98" cy="117.17" r="2.52" fill="url(#gHl)"/><circle cx="879.44" cy="118.26" r="4.5" fill="url(#gOl)"/><circle cx="878.23" cy="117.27" r="2.52" fill="url(#gHl)"/><circle cx="882.69" cy="118.31" r="4.5" fill="url(#gOl)"/><circle cx="881.48" cy="117.32" r="2.52" fill="url(#gHl)"/><circle cx="885.94" cy="118.31" r="4.5" fill="url(#gOl)"/><circle cx="884.73" cy="117.32" r="2.52" fill="url(#gHl)"/><circle cx="889.19" cy="118.26" r="4.5" fill="url(#gOl)"/><circle cx="887.98" cy="117.27" r="2.52" fill="url(#gHl)"/><circle cx="892.44" cy="118.16" r="4.5" fill="url(#gOl)"/><circle cx="891.23" cy="117.17" r="2.52" fill="url(#gHl)"/><circle cx="895.69" cy="118" r="4.5" fill="url(#gOl)"/><circle cx="894.47" cy="117.01" r="2.52" fill="url(#gHl)"/><circle cx="898.93" cy="117.8" r="4.5" fill="url(#gOl)"/><circle cx="897.72" cy="116.81" r="2.52" fill="url(#gHl)"/><circle cx="902.17" cy="117.54" r="4.5" fill="url(#gOl)"/><circle cx="900.96" cy="116.55" r="2.52" fill="url(#gHl)"/><circle cx="905.41" cy="117.23" r="4.5" fill="url(#gOl)"/><circle cx="904.19" cy="116.24" r="2.52" fill="url(#gHl)"/><circle cx="908.63" cy="116.86" r="4.5" fill="url(#gOl)"/><circle cx="907.42" cy="115.87" r="2.52" fill="url(#gHl)"/><circle cx="911.86" cy="116.44" r="4.5" fill="url(#gOl)"/><circle cx="910.64" cy="115.45" r="2.52" fill="url(#gHl)"/><circle cx="915.07" cy="115.96" r="4.5" fill="url(#gOl)"/><circle cx="913.86" cy="114.97" r="2.52" fill="url(#gHl)"/><circle cx="918.28" cy="115.42" r="4.5" fill="url(#gOl)"/><circle cx="917.06" cy="114.43" r="2.52" fill="url(#gHl)"/><circle cx="921.47" cy="114.83" r="4.5" fill="url(#gOl)"/><circle cx="920.26" cy="113.84" r="2.52" fill="url(#gHl)"/><circle cx="924.66" cy="114.17" r="4.5" fill="url(#gOl)"/><circle cx="923.44" cy="113.18" r="2.52" fill="url(#gHl)"/><circle cx="927.83" cy="113.46" r="4.5" fill="url(#gOl)"/><circle cx="926.61" cy="112.47" r="2.52" fill="url(#gHl)"/><circle cx="930.98" cy="112.68" r="4.5" fill="url(#gOl)"/><circle cx="929.77" cy="111.69" r="2.52" fill="url(#gHl)"/><circle cx="934.12" cy="111.85" r="4.5" fill="url(#gOl)"/><circle cx="932.91" cy="110.86" r="2.52" fill="url(#gHl)"/><circle cx="937.24" cy="110.95" r="4.5" fill="url(#gOl)"/><circle cx="936.03" cy="109.96" r="2.52" fill="url(#gHl)"/><circle cx="940.35" cy="109.98" r="4.5" fill="url(#gOl)"/><circle cx="939.13" cy="108.99" r="2.52" fill="url(#gHl)"/><circle cx="943.43" cy="108.96" r="4.5" fill="url(#gOl)"/><circle cx="942.22" cy="107.97" r="2.52" fill="url(#gHl)"/><circle cx="946.49" cy="107.87" r="4.5" fill="url(#gOl)"/><circle cx="945.28" cy="106.88" r="2.52" fill="url(#gHl)"/><circle cx="949.53" cy="106.71" r="4.5" fill="url(#gOl)"/><circle cx="948.32" cy="105.72" r="2.52" fill="url(#gHl)"/><circle cx="952.54" cy="105.49" r="4.5" fill="url(#gOl)"/><circle cx="951.33" cy="104.5" r="2.52" fill="url(#gHl)"/><circle cx="955.53" cy="104.21" r="4.5" fill="url(#gOl)"/><circle cx="954.31" cy="103.22" r="2.52" fill="url(#gHl)"/><circle cx="958.49" cy="102.86" r="4.5" fill="url(#gOl)"/><circle cx="957.27" cy="101.87" r="2.52" fill="url(#gHl)"/></g>
<polyline points="818.6,129.72 818.99,129.69 819.38,129.67 819.78,129.64 820.17,129.62 820.56,129.59 820.96,129.57 821.35,129.55 821.75,129.52 822.14,129.5 822.53,129.48 822.93,129.45 823.32,129.43 823.72,129.41 824.12,129.39 824.51,129.36 824.91,129.34 825.3,129.32 825.7,129.3 826.09,129.28 826.49,129.26 826.89,129.24 827.28,129.22 827.68,129.2 828.08,129.18 828.47,129.16 828.87,129.14 829.27,129.12 829.67,129.1 830.06,129.08 830.46,129.06 830.86,129.04 831.26,129.02 831.65,129 832.05,128.98 832.45,128.96 832.85,128.95 833.25,128.93 833.65,128.91 834.04,128.89 834.44,128.87 834.84,128.85 835.24,128.84 835.64,128.82 836.04,128.8 836.44,128.78 836.84,128.77 837.24,128.75 837.64,128.73 838.04,128.72 838.44,128.7 838.84,128.68 839.24,128.66 839.64,128.65 840.04,128.63 840.44,128.61 840.84,128.6 841.24,128.58 841.64,128.56 842.04,128.55 842.44,128.53 842.84,128.51 843.24,128.5 843.64,128.48 844.04,128.46 844.45,128.45 844.85,128.43 845.25,128.41 845.65,128.4 846.05,128.38 846.45,128.36 846.85,128.35 847.26,128.33 847.66,128.31 848.06,128.3 848.46,128.28 848.86,128.26 849.27,128.25 849.67,128.23 850.07,128.21 850.47,128.2 850.87,128.18 851.28,128.16 851.68,128.14 852.08,128.13 852.48,128.11 852.89,128.09 853.29,128.08 853.69,128.06 854.09,128.04 854.5,128.02 854.9,128 855.3,127.99 855.7,127.97 856.11,127.95 856.51,127.93 856.91,127.91 857.32,127.89 857.72,127.88 858.12,127.86 858.52,127.84 858.93,127.82 859.33,127.8 859.73,127.78 860.14,127.76 860.54,127.74 860.94,127.72 861.35,127.7 861.75,127.68 862.15,127.66 862.56,127.64 862.96,127.62 863.36,127.6 863.76,127.58 864.17,127.56 864.57,127.53 864.97,127.51 865.38,127.49 865.78,127.47 866.18,127.45 866.59,127.42 866.99,127.4 867.39,127.38 867.8,127.35 868.2,127.33 868.6,127.31 869,127.28 869.41,127.26 869.81,127.23 870.21,127.21 870.62,127.18 871.02,127.16 871.42,127.13 871.83,127.11 872.23,127.08 872.63,127.05 873.03,127.03 873.44,127 873.84,126.97 874.24,126.95 874.65,126.92 875.05,126.89 875.45,126.86 875.85,126.83 876.26,126.8 876.66,126.77 877.06,126.74 877.46,126.71 877.87,126.68 878.27,126.65 878.67,126.62 879.07,126.59 879.47,126.56 879.88,126.53 880.28,126.49 880.68,126.46 881.08,126.43 881.48,126.39 881.89,126.36 882.29,126.33 882.69,126.29 883.09,126.26 883.49,126.22 883.89,126.18 884.3,126.15 884.7,126.11 885.1,126.07 885.5,126.04 885.9,126 886.3,125.96 886.7,125.92 887.1,125.88 887.5,125.84 887.9,125.8 888.31,125.76 888.71,125.72 889.11,125.68 889.51,125.64 889.91,125.59 890.31,125.55 890.71,125.51 891.11,125.46 891.51,125.42 891.91,125.37 892.31,125.33 892.71,125.28 893.11,125.24 893.5,125.19 893.9,125.14 894.3,125.09 894.7,125.05 895.1,125 895.5,124.95 895.9,124.9 896.3,124.85 896.7,124.8 897.09,124.75 897.49,124.69 897.89,124.64 898.29,124.59 898.69,124.53 899.08,124.48 899.48,124.43 899.88,124.37 900.28,124.31 900.67,124.26 901.07,124.2 901.47,124.14 901.86,124.08 902.26,124.03 902.66,123.97 903.05,123.91 903.45,123.85 903.85,123.78 904.24,123.72 904.64,123.66 905.03,123.6 905.43,123.53 905.82,123.47 906.22,123.41 906.61,123.34 907.01,123.27 907.4,123.21 907.8,123.14 908.19,123.07 908.59,123 908.98,122.93 909.37,122.86 909.77,122.79 910.16,122.72 910.55,122.65 910.95,122.58 911.34,122.5 911.73,122.43 912.13,122.35 912.52,122.28 912.91,122.2 913.3,122.13 913.7,122.05 914.09,121.97 914.48,121.89 914.87,121.81 915.26,121.73 915.65,121.65 916.04,121.57 916.43,121.48 916.82,121.4 917.21,121.32 917.6,121.23 917.99,121.15 918.38,121.06 918.77,120.97 919.16,120.89 919.55,120.8 919.94,120.71 920.33,120.62 920.72,120.53 921.11,120.43 921.49,120.34 921.88,120.25 922.27,120.15 922.66,120.06 923.04,119.96 923.43,119.87 923.82,119.77 924.2,119.67 924.59,119.57 924.98,119.47 925.36,119.37 925.75,119.27 926.13,119.17 926.52,119.06 926.9,118.96 927.29,118.86 927.67,118.75 928.06,118.64 928.44,118.54 928.82,118.43 929.21,118.32 929.59,118.21 929.97,118.1 930.36,117.98 930.74,117.87 931.12,117.76 931.5,117.64 931.88,117.53 932.27,117.41 932.65,117.29 933.03,117.18 933.41,117.06 933.79,116.94 934.17,116.82 934.55,116.69 934.93,116.57 935.31,116.45 935.69,116.32 936.06,116.2 936.44,116.07 936.82,115.94 937.2,115.82 937.58,115.69 937.95,115.56 938.33,115.42 938.71,115.29 939.09,115.16 939.46,115.02 939.84,114.89 940.21,114.75 940.59,114.62 940.96,114.48 941.34,114.34 941.71,114.2 942.09,114.06 942.46,113.91 942.84,113.77 943.21,113.63 943.58,113.48 943.95,113.33 944.33,113.19 944.7,113.04 945.07,112.89 945.44,112.74 945.81,112.59 946.19,112.43 946.56,112.28 946.93,112.13 947.3,111.97 947.67,111.81 948.04,111.65 948.4,111.5 948.77,111.33 949.14,111.17 949.51,111.01 949.88,110.85 950.24,110.68 950.61,110.52 950.98,110.35 951.35,110.18 951.71,110.01 952.08,109.84 952.44,109.67 952.81,109.5 953.17,109.33 953.54,109.15 953.9,108.98 954.26,108.8 954.63,108.62 954.99,108.44 955.35,108.26 955.72,108.08 956.08,107.9 956.44,107.71 956.8,107.53 957.16,107.34 957.52,107.15 957.88,106.96 958.24,106.77 958.6,106.58 958.96,106.39 959.32,106.2 959.68,106 960.04,105.81 960.39,105.61 960.75,105.41 961.11,105.21" fill="none" stroke="#ff0000" stroke-width="3" stroke-linejoin="round" stroke-linecap="round" stroke-linecap="butt"/>
<rect x="783.6" y="44.2" width="178.4" height="143.4" fill="none" stroke="#000" stroke-width="2.5" stroke-linejoin="miter"/>
<line x1="842.85" y1="187.6" x2="842.85" y2="181.6" stroke="#000" stroke-width="2.5" stroke-linecap="butt"/>
<line x1="842.85" y1="44.2" x2="842.85" y2="50.2" stroke="#000" stroke-width="2.5" stroke-linecap="butt"/>
<line x1="902.1" y1="187.6" x2="902.1" y2="181.6" stroke="#000" stroke-width="2.5" stroke-linecap="butt"/>
<line x1="902.1" y1="44.2" x2="902.1" y2="50.2" stroke="#000" stroke-width="2.5" stroke-linecap="butt"/>
<line x1="813.23" y1="187.6" x2="813.23" y2="184.6" stroke="#000" stroke-width="2.5" stroke-linecap="butt"/>
<line x1="813.23" y1="44.2" x2="813.23" y2="47.2" stroke="#000" stroke-width="2.5" stroke-linecap="butt"/>
<line x1="872.48" y1="187.6" x2="872.48" y2="184.6" stroke="#000" stroke-width="2.5" stroke-linecap="butt"/>
<line x1="872.48" y1="44.2" x2="872.48" y2="47.2" stroke="#000" stroke-width="2.5" stroke-linecap="butt"/>
<line x1="931.73" y1="187.6" x2="931.73" y2="184.6" stroke="#000" stroke-width="2.5" stroke-linecap="butt"/>
<line x1="931.73" y1="44.2" x2="931.73" y2="47.2" stroke="#000" stroke-width="2.5" stroke-linecap="butt"/>
<line x1="783.6" y1="158.88" x2="789.6" y2="158.88" stroke="#000" stroke-width="2.5" stroke-linecap="butt"/>
<line x1="962" y1="158.88" x2="956" y2="158.88" stroke="#000" stroke-width="2.5" stroke-linecap="butt"/>
<line x1="783.6" y1="130.2" x2="789.6" y2="130.2" stroke="#000" stroke-width="2.5" stroke-linecap="butt"/>
<line x1="962" y1="130.2" x2="956" y2="130.2" stroke="#000" stroke-width="2.5" stroke-linecap="butt"/>
<line x1="783.6" y1="101.52" x2="789.6" y2="101.52" stroke="#000" stroke-width="2.5" stroke-linecap="butt"/>
<line x1="962" y1="101.52" x2="956" y2="101.52" stroke="#000" stroke-width="2.5" stroke-linecap="butt"/>
<line x1="783.6" y1="72.84" x2="789.6" y2="72.84" stroke="#000" stroke-width="2.5" stroke-linecap="butt"/>
<line x1="962" y1="72.84" x2="956" y2="72.84" stroke="#000" stroke-width="2.5" stroke-linecap="butt"/>
<line x1="783.6" y1="173.22" x2="786.6" y2="173.22" stroke="#000" stroke-width="2.5" stroke-linecap="butt"/>
<line x1="962" y1="173.22" x2="959" y2="173.22" stroke="#000" stroke-width="2.5" stroke-linecap="butt"/>
<line x1="783.6" y1="144.54" x2="786.6" y2="144.54" stroke="#000" stroke-width="2.5" stroke-linecap="butt"/>
<line x1="962" y1="144.54" x2="959" y2="144.54" stroke="#000" stroke-width="2.5" stroke-linecap="butt"/>
<line x1="783.6" y1="115.86" x2="786.6" y2="115.86" stroke="#000" stroke-width="2.5" stroke-linecap="butt"/>
<line x1="962" y1="115.86" x2="959" y2="115.86" stroke="#000" stroke-width="2.5" stroke-linecap="butt"/>
<line x1="783.6" y1="87.18" x2="786.6" y2="87.18" stroke="#000" stroke-width="2.5" stroke-linecap="butt"/>
<line x1="962" y1="87.18" x2="959" y2="87.18" stroke="#000" stroke-width="2.5" stroke-linecap="butt"/>
<line x1="783.6" y1="58.5" x2="786.6" y2="58.5" stroke="#000" stroke-width="2.5" stroke-linecap="butt"/>
<line x1="962" y1="58.5" x2="959" y2="58.5" stroke="#000" stroke-width="2.5" stroke-linecap="butt"/>
<text x="783.6" y="212.8" font-family="'Liberation Serif', 'Times New Roman', serif" font-size="23.3" font-weight="bold" text-anchor="middle" >0</text>
<text x="842.85" y="212.8" font-family="'Liberation Serif', 'Times New Roman', serif" font-size="23.3" font-weight="bold" text-anchor="middle" >5</text>
<text x="902.1" y="212.8" font-family="'Liberation Serif', 'Times New Roman', serif" font-size="23.3" font-weight="bold" text-anchor="middle" >10</text>
<text x="961.35" y="212.8" font-family="'Liberation Serif', 'Times New Roman', serif" font-size="23.3" font-weight="bold" text-anchor="middle" >15</text>
<text x="775" y="194.56" font-family="'Liberation Serif', 'Times New Roman', serif" font-size="23.3" font-weight="bold" text-anchor="end" >-4</text>
<text x="775" y="165.88" font-family="'Liberation Serif', 'Times New Roman', serif" font-size="23.3" font-weight="bold" text-anchor="end" >-2</text>
<text x="775" y="137.2" font-family="'Liberation Serif', 'Times New Roman', serif" font-size="23.3" font-weight="bold" text-anchor="end" >0</text>
<text x="775" y="108.52" font-family="'Liberation Serif', 'Times New Roman', serif" font-size="23.3" font-weight="bold" text-anchor="end" >2</text>
<text x="775" y="79.84" font-family="'Liberation Serif', 'Times New Roman', serif" font-size="23.3" font-weight="bold" text-anchor="end" >4</text>
<text x="775" y="51.16" font-family="'Liberation Serif', 'Times New Roman', serif" font-size="23.3" font-weight="bold" text-anchor="end" >6</text>
<text x="873" y="238.3" font-family="'Liberation Serif', 'Times New Roman', serif" font-size="28" font-weight="bold" text-anchor="middle" ><tspan font-style="italic">T</tspan> (K)</text>
<text x="0" y="0" transform="translate(741,107.5) rotate(-90)" font-family="'Liberation Serif', 'Times New Roman', serif" font-size="24" font-weight="bold" text-anchor="middle" ><tspan font-style="italic">C</tspan><tspan font-style="italic" font-size="17" dy="5">p</tspan><tspan dy="-5"> (J. mol</tspan><tspan font-size="16" dy="-9">-1</tspan><tspan dy="9">. K</tspan><tspan font-size="16" dy="-9">-1</tspan><tspan dy="9">)</tspan></text>
<line x1="1330.14" y1="70.35" x2="1330.76" y2="95.65" stroke="#808000" stroke-width="2.4" stroke-linecap="butt"/>
<line x1="1331.13" y1="106.55" x2="1331.87" y2="124.15" stroke="#808000" stroke-width="2.4" stroke-linecap="butt"/>
<line x1="1332.4" y1="135.04" x2="1333.1" y2="147.96" stroke="#808000" stroke-width="2.4" stroke-linecap="butt"/>
<line x1="1333.75" y1="158.84" x2="1334.35" y2="167.96" stroke="#808000" stroke-width="2.4" stroke-linecap="butt"/>
<line x1="1334.98" y1="178.84" x2="1335.22" y2="183.66" stroke="#808000" stroke-width="2.4" stroke-linecap="butt"/>
<line x1="1335.85" y1="194.54" x2="1336.05" y2="197.76" stroke="#808000" stroke-width="2.4" stroke-linecap="butt"/>
<line x1="1337.01" y1="208.62" x2="1337.09" y2="209.28" stroke="#808000" stroke-width="2.4" stroke-linecap="butt"/>
<g><circle cx="1330" cy="64.9" r="4.25" fill="url(#gOl)"/><circle cx="1328.85" cy="63.97" r="2.38" fill="url(#gHl)"/><circle cx="1330.9" cy="101.1" r="4.25" fill="url(#gOl)"/><circle cx="1329.75" cy="100.16" r="2.38" fill="url(#gHl)"/><circle cx="1332.1" cy="129.6" r="4.25" fill="url(#gOl)"/><circle cx="1330.95" cy="128.66" r="2.38" fill="url(#gHl)"/><circle cx="1333.4" cy="153.4" r="4.25" fill="url(#gOl)"/><circle cx="1332.25" cy="152.47" r="2.38" fill="url(#gHl)"/><circle cx="1334.7" cy="173.4" r="4.25" fill="url(#gOl)"/><circle cx="1333.55" cy="172.47" r="2.38" fill="url(#gHl)"/><circle cx="1335.5" cy="189.1" r="4.25" fill="url(#gOl)"/><circle cx="1334.35" cy="188.16" r="2.38" fill="url(#gHl)"/><circle cx="1336.4" cy="203.2" r="4.25" fill="url(#gOl)"/><circle cx="1335.25" cy="202.26" r="2.38" fill="url(#gHl)"/><circle cx="1337.7" cy="214.7" r="4.25" fill="url(#gOl)"/><circle cx="1336.55" cy="213.76" r="2.38" fill="url(#gHl)"/><circle cx="1338.5" cy="225.3" r="4.25" fill="url(#gOl)"/><circle cx="1337.35" cy="224.37" r="2.38" fill="url(#gHl)"/><circle cx="1339.4" cy="236" r="4.25" fill="url(#gOl)"/><circle cx="1338.25" cy="235.06" r="2.38" fill="url(#gHl)"/><circle cx="1340.2" cy="244.5" r="4.25" fill="url(#gOl)"/><circle cx="1339.05" cy="243.56" r="2.38" fill="url(#gHl)"/><circle cx="1341.12" cy="251.97" r="4.25" fill="url(#gOl)"/><circle cx="1339.98" cy="251.03" r="2.38" fill="url(#gHl)"/><circle cx="1342.04" cy="258.42" r="4.25" fill="url(#gOl)"/><circle cx="1340.89" cy="257.49" r="2.38" fill="url(#gHl)"/><circle cx="1342.96" cy="264.34" r="4.25" fill="url(#gOl)"/><circle cx="1341.81" cy="263.4" r="2.38" fill="url(#gHl)"/><circle cx="1343.95" cy="270.02" r="4.25" fill="url(#gOl)"/><circle cx="1342.8" cy="269.09" r="2.38" fill="url(#gHl)"/><circle cx="1344.98" cy="275.22" r="4.25" fill="url(#gOl)"/><circle cx="1343.84" cy="274.28" r="2.38" fill="url(#gHl)"/><circle cx="1346.01" cy="279.78" r="4.25" fill="url(#gOl)"/><circle cx="1344.86" cy="278.84" r="2.38" fill="url(#gHl)"/><circle cx="1347.01" cy="283.78" r="4.25" fill="url(#gOl)"/><circle cx="1345.86" cy="282.84" r="2.38" fill="url(#gHl)"/><circle cx="1348.08" cy="287.58" r="4.25" fill="url(#gOl)"/><circle cx="1346.93" cy="286.65" r="2.38" fill="url(#gHl)"/><circle cx="1349.22" cy="291.26" r="4.25" fill="url(#gOl)"/><circle cx="1348.07" cy="290.32" r="2.38" fill="url(#gHl)"/><circle cx="1350.43" cy="294.75" r="4.25" fill="url(#gOl)"/><circle cx="1349.28" cy="293.82" r="2.38" fill="url(#gHl)"/><circle cx="1351.65" cy="297.95" r="4.25" fill="url(#gOl)"/><circle cx="1350.5" cy="297.01" r="2.38" fill="url(#gHl)"/><circle cx="1352.87" cy="300.87" r="4.25" fill="url(#gOl)"/><circle cx="1351.72" cy="299.93" r="2.38" fill="url(#gHl)"/><circle cx="1354.09" cy="303.53" r="4.25" fill="url(#gOl)"/><circle cx="1352.94" cy="302.6" r="2.38" fill="url(#gHl)"/><circle cx="1355.29" cy="305.97" r="4.25" fill="url(#gOl)"/><circle cx="1354.14" cy="305.03" r="2.38" fill="url(#gHl)"/><circle cx="1356.48" cy="308.19" r="4.25" fill="url(#gOl)"/><circle cx="1355.33" cy="307.26" r="2.38" fill="url(#gHl)"/><circle cx="1357.64" cy="310.23" r="4.25" fill="url(#gOl)"/><circle cx="1356.49" cy="309.3" r="2.38" fill="url(#gHl)"/><circle cx="1358.77" cy="312.1" r="4.25" fill="url(#gOl)"/><circle cx="1357.62" cy="311.16" r="2.38" fill="url(#gHl)"/><circle cx="1359.88" cy="313.83" r="4.25" fill="url(#gOl)"/><circle cx="1358.73" cy="312.89" r="2.38" fill="url(#gHl)"/><circle cx="1360.96" cy="315.43" r="4.25" fill="url(#gOl)"/><circle cx="1359.81" cy="314.49" r="2.38" fill="url(#gHl)"/><circle cx="1362.01" cy="316.91" r="4.25" fill="url(#gOl)"/><circle cx="1360.87" cy="315.98" r="2.38" fill="url(#gHl)"/><circle cx="1363.04" cy="318.29" r="4.25" fill="url(#gOl)"/><circle cx="1361.89" cy="317.35" r="2.38" fill="url(#gHl)"/><circle cx="1364.03" cy="319.57" r="4.25" fill="url(#gOl)"/><circle cx="1362.89" cy="318.63" r="2.38" fill="url(#gHl)"/><circle cx="1365" cy="320.75" r="4.25" fill="url(#gOl)"/><circle cx="1363.85" cy="319.82" r="2.38" fill="url(#gHl)"/><circle cx="1365.94" cy="321.87" r="4.25" fill="url(#gOl)"/><circle cx="1364.79" cy="320.93" r="2.38" fill="url(#gHl)"/><circle cx="1366.85" cy="322.91" r="4.25" fill="url(#gOl)"/><circle cx="1365.71" cy="321.97" r="2.38" fill="url(#gHl)"/><circle cx="1367.74" cy="323.89" r="4.25" fill="url(#gOl)"/><circle cx="1366.6" cy="322.95" r="2.38" fill="url(#gHl)"/><circle cx="1368.61" cy="324.81" r="4.25" fill="url(#gOl)"/><circle cx="1367.47" cy="323.88" r="2.38" fill="url(#gHl)"/><circle cx="1369.46" cy="325.68" r="4.25" fill="url(#gOl)"/><circle cx="1368.31" cy="324.74" r="2.38" fill="url(#gHl)"/><circle cx="1370.28" cy="326.5" r="4.25" fill="url(#gOl)"/><circle cx="1369.13" cy="325.56" r="2.38" fill="url(#gHl)"/><circle cx="1371.08" cy="327.27" r="4.25" fill="url(#gOl)"/><circle cx="1369.93" cy="326.33" r="2.38" fill="url(#gHl)"/><circle cx="1371.86" cy="327.99" r="4.25" fill="url(#gOl)"/><circle cx="1370.71" cy="327.06" r="2.38" fill="url(#gHl)"/><circle cx="1372.61" cy="328.68" r="4.25" fill="url(#gOl)"/><circle cx="1371.47" cy="327.74" r="2.38" fill="url(#gHl)"/><circle cx="1373.35" cy="329.32" r="4.25" fill="url(#gOl)"/><circle cx="1372.2" cy="328.39" r="2.38" fill="url(#gHl)"/><circle cx="1374.06" cy="329.94" r="4.25" fill="url(#gOl)"/><circle cx="1372.92" cy="329" r="2.38" fill="url(#gHl)"/><circle cx="1374.76" cy="330.52" r="4.25" fill="url(#gOl)"/><circle cx="1373.61" cy="329.58" r="2.38" fill="url(#gHl)"/><circle cx="1375.46" cy="331.08" r="4.25" fill="url(#gOl)"/><circle cx="1374.31" cy="330.15" r="2.38" fill="url(#gHl)"/><circle cx="1376.16" cy="331.64" r="4.25" fill="url(#gOl)"/><circle cx="1375.02" cy="330.71" r="2.38" fill="url(#gHl)"/><circle cx="1376.88" cy="332.19" r="4.25" fill="url(#gOl)"/><circle cx="1375.73" cy="331.25" r="2.38" fill="url(#gHl)"/><circle cx="1377.6" cy="332.73" r="4.25" fill="url(#gOl)"/><circle cx="1376.45" cy="331.79" r="2.38" fill="url(#gHl)"/><circle cx="1378.32" cy="333.26" r="4.25" fill="url(#gOl)"/><circle cx="1377.18" cy="332.32" r="2.38" fill="url(#gHl)"/><circle cx="1379.06" cy="333.78" r="4.25" fill="url(#gOl)"/><circle cx="1377.91" cy="332.84" r="2.38" fill="url(#gHl)"/><circle cx="1379.8" cy="334.29" r="4.25" fill="url(#gOl)"/><circle cx="1378.65" cy="333.35" r="2.38" fill="url(#gHl)"/><circle cx="1380.55" cy="334.79" r="4.25" fill="url(#gOl)"/><circle cx="1379.4" cy="333.85" r="2.38" fill="url(#gHl)"/><circle cx="1381.3" cy="335.28" r="4.25" fill="url(#gOl)"/><circle cx="1380.16" cy="334.34" r="2.38" fill="url(#gHl)"/><circle cx="1381.98" cy="335.7" r="4.25" fill="url(#gOl)"/><circle cx="1380.83" cy="334.77" r="2.38" fill="url(#gHl)"/><circle cx="1382.66" cy="336.12" r="4.25" fill="url(#gOl)"/><circle cx="1381.51" cy="335.19" r="2.38" fill="url(#gHl)"/><circle cx="1383.35" cy="336.53" r="4.25" fill="url(#gOl)"/><circle cx="1382.2" cy="335.6" r="2.38" fill="url(#gHl)"/><circle cx="1384.04" cy="336.93" r="4.25" fill="url(#gOl)"/><circle cx="1382.89" cy="336" r="2.38" fill="url(#gHl)"/><circle cx="1384.74" cy="337.33" r="4.25" fill="url(#gOl)"/><circle cx="1383.59" cy="336.39" r="2.38" fill="url(#gHl)"/><circle cx="1385.44" cy="337.71" r="4.25" fill="url(#gOl)"/><circle cx="1384.29" cy="336.78" r="2.38" fill="url(#gHl)"/><circle cx="1386.15" cy="338.09" r="4.25" fill="url(#gOl)"/><circle cx="1385" cy="337.15" r="2.38" fill="url(#gHl)"/><circle cx="1386.86" cy="338.46" r="4.25" fill="url(#gOl)"/><circle cx="1385.71" cy="337.52" r="2.38" fill="url(#gHl)"/><circle cx="1387.57" cy="338.81" r="4.25" fill="url(#gOl)"/><circle cx="1386.42" cy="337.88" r="2.38" fill="url(#gHl)"/><circle cx="1388.29" cy="339.16" r="4.25" fill="url(#gOl)"/><circle cx="1387.14" cy="338.23" r="2.38" fill="url(#gHl)"/><circle cx="1389.01" cy="339.5" r="4.25" fill="url(#gOl)"/><circle cx="1387.87" cy="338.57" r="2.38" fill="url(#gHl)"/><circle cx="1389.74" cy="339.84" r="4.25" fill="url(#gOl)"/><circle cx="1388.6" cy="338.9" r="2.38" fill="url(#gHl)"/><circle cx="1390.47" cy="340.16" r="4.25" fill="url(#gOl)"/><circle cx="1389.33" cy="339.22" r="2.38" fill="url(#gHl)"/><circle cx="1391.21" cy="340.47" r="4.25" fill="url(#gOl)"/><circle cx="1390.06" cy="339.54" r="2.38" fill="url(#gHl)"/><circle cx="1391.95" cy="340.78" r="4.25" fill="url(#gOl)"/><circle cx="1390.8" cy="339.84" r="2.38" fill="url(#gHl)"/><circle cx="1392.69" cy="341.07" r="4.25" fill="url(#gOl)"/><circle cx="1391.55" cy="340.14" r="2.38" fill="url(#gHl)"/><circle cx="1393.44" cy="341.36" r="4.25" fill="url(#gOl)"/><circle cx="1392.29" cy="340.42" r="2.38" fill="url(#gHl)"/><circle cx="1394.19" cy="341.63" r="4.25" fill="url(#gOl)"/><circle cx="1393.04" cy="340.7" r="2.38" fill="url(#gHl)"/><circle cx="1394.95" cy="341.9" r="4.25" fill="url(#gOl)"/><circle cx="1393.8" cy="340.97" r="2.38" fill="url(#gHl)"/><circle cx="1395.7" cy="342.16" r="4.25" fill="url(#gOl)"/><circle cx="1394.56" cy="341.23" r="2.38" fill="url(#gHl)"/><circle cx="1396.46" cy="342.41" r="4.25" fill="url(#gOl)"/><circle cx="1395.32" cy="341.47" r="2.38" fill="url(#gHl)"/><circle cx="1397.23" cy="342.65" r="4.25" fill="url(#gOl)"/><circle cx="1396.08" cy="341.71" r="2.38" fill="url(#gHl)"/><circle cx="1397.99" cy="342.88" r="4.25" fill="url(#gOl)"/><circle cx="1396.85" cy="341.94" r="2.38" fill="url(#gHl)"/><circle cx="1398.76" cy="343.1" r="4.25" fill="url(#gOl)"/><circle cx="1397.61" cy="342.16" r="2.38" fill="url(#gHl)"/><circle cx="1399.53" cy="343.31" r="4.25" fill="url(#gOl)"/><circle cx="1398.39" cy="342.38" r="2.38" fill="url(#gHl)"/><circle cx="1400.31" cy="343.51" r="4.25" fill="url(#gOl)"/><circle cx="1399.16" cy="342.58" r="2.38" fill="url(#gHl)"/><circle cx="1401.08" cy="343.7" r="4.25" fill="url(#gOl)"/><circle cx="1399.94" cy="342.77" r="2.38" fill="url(#gHl)"/><circle cx="1401.86" cy="343.89" r="4.25" fill="url(#gOl)"/><circle cx="1400.72" cy="342.95" r="2.38" fill="url(#gHl)"/><circle cx="1402.64" cy="344.06" r="4.25" fill="url(#gOl)"/><circle cx="1401.5" cy="343.13" r="2.38" fill="url(#gHl)"/><circle cx="1403.9" cy="344.7" r="4.25" fill="url(#gOl)"/><circle cx="1402.75" cy="343.76" r="2.38" fill="url(#gHl)"/><circle cx="1408.3" cy="342.55" r="4.25" fill="url(#gOl)"/><circle cx="1407.15" cy="341.61" r="2.38" fill="url(#gHl)"/><circle cx="1412.63" cy="342.79" r="4.25" fill="url(#gOl)"/><circle cx="1411.48" cy="341.85" r="2.38" fill="url(#gHl)"/><circle cx="1416.96" cy="342.8" r="4.25" fill="url(#gOl)"/><circle cx="1415.81" cy="341.87" r="2.38" fill="url(#gHl)"/><circle cx="1421.29" cy="341.89" r="4.25" fill="url(#gOl)"/><circle cx="1420.14" cy="340.96" r="2.38" fill="url(#gHl)"/><circle cx="1425.62" cy="341.61" r="4.25" fill="url(#gOl)"/><circle cx="1424.47" cy="340.68" r="2.38" fill="url(#gHl)"/><circle cx="1429.95" cy="341.05" r="4.25" fill="url(#gOl)"/><circle cx="1428.8" cy="340.11" r="2.38" fill="url(#gHl)"/><circle cx="1434.28" cy="340.55" r="4.25" fill="url(#gOl)"/><circle cx="1433.13" cy="339.61" r="2.38" fill="url(#gHl)"/><circle cx="1438.61" cy="339.59" r="4.25" fill="url(#gOl)"/><circle cx="1437.46" cy="338.66" r="2.38" fill="url(#gHl)"/><circle cx="1442.94" cy="338.03" r="4.25" fill="url(#gOl)"/><circle cx="1441.79" cy="337.1" r="2.38" fill="url(#gHl)"/><circle cx="1447.27" cy="337.18" r="4.25" fill="url(#gOl)"/><circle cx="1446.12" cy="336.24" r="2.38" fill="url(#gHl)"/><circle cx="1451.6" cy="336.83" r="4.25" fill="url(#gOl)"/><circle cx="1450.45" cy="335.9" r="2.38" fill="url(#gHl)"/><circle cx="1455.93" cy="336.45" r="4.25" fill="url(#gOl)"/><circle cx="1454.78" cy="335.52" r="2.38" fill="url(#gHl)"/><circle cx="1460.26" cy="339.84" r="4.25" fill="url(#gOl)"/><circle cx="1459.11" cy="338.9" r="2.38" fill="url(#gHl)"/><circle cx="1464.59" cy="340.15" r="4.25" fill="url(#gOl)"/><circle cx="1463.44" cy="339.21" r="2.38" fill="url(#gHl)"/><circle cx="1468.92" cy="339.36" r="4.25" fill="url(#gOl)"/><circle cx="1467.77" cy="338.43" r="2.38" fill="url(#gHl)"/><circle cx="1473.25" cy="338.8" r="4.25" fill="url(#gOl)"/><circle cx="1472.1" cy="337.86" r="2.38" fill="url(#gHl)"/><circle cx="1477.58" cy="338.54" r="4.25" fill="url(#gOl)"/><circle cx="1476.43" cy="337.61" r="2.38" fill="url(#gHl)"/><circle cx="1481.91" cy="338.34" r="4.25" fill="url(#gOl)"/><circle cx="1480.76" cy="337.41" r="2.38" fill="url(#gHl)"/><circle cx="1486.24" cy="338.06" r="4.25" fill="url(#gOl)"/><circle cx="1485.09" cy="337.13" r="2.38" fill="url(#gHl)"/><circle cx="1490.57" cy="338" r="4.25" fill="url(#gOl)"/><circle cx="1489.42" cy="337.06" r="2.38" fill="url(#gHl)"/><circle cx="1494.9" cy="337.92" r="4.25" fill="url(#gOl)"/><circle cx="1493.75" cy="336.99" r="2.38" fill="url(#gHl)"/><circle cx="1499.23" cy="337.95" r="4.25" fill="url(#gOl)"/><circle cx="1498.08" cy="337.01" r="2.38" fill="url(#gHl)"/><circle cx="1503.56" cy="338.01" r="4.25" fill="url(#gOl)"/><circle cx="1502.41" cy="337.08" r="2.38" fill="url(#gHl)"/><circle cx="1507.89" cy="338.08" r="4.25" fill="url(#gOl)"/><circle cx="1506.74" cy="337.14" r="2.38" fill="url(#gHl)"/><circle cx="1512.22" cy="338.14" r="4.25" fill="url(#gOl)"/><circle cx="1511.07" cy="337.2" r="2.38" fill="url(#gHl)"/><circle cx="1516.55" cy="338.2" r="4.25" fill="url(#gOl)"/><circle cx="1515.4" cy="337.27" r="2.38" fill="url(#gHl)"/><circle cx="1520.88" cy="338.27" r="4.25" fill="url(#gOl)"/><circle cx="1519.73" cy="337.33" r="2.38" fill="url(#gHl)"/><circle cx="1525.21" cy="338.33" r="4.25" fill="url(#gOl)"/><circle cx="1524.06" cy="337.39" r="2.38" fill="url(#gHl)"/><circle cx="1529.54" cy="338.39" r="4.25" fill="url(#gOl)"/><circle cx="1528.39" cy="337.46" r="2.38" fill="url(#gHl)"/><circle cx="1533.87" cy="338.48" r="4.25" fill="url(#gOl)"/><circle cx="1532.72" cy="337.54" r="2.38" fill="url(#gHl)"/><circle cx="1538.2" cy="338.56" r="4.25" fill="url(#gOl)"/><circle cx="1537.05" cy="337.63" r="2.38" fill="url(#gHl)"/><circle cx="1542.53" cy="338.65" r="4.25" fill="url(#gOl)"/><circle cx="1541.38" cy="337.72" r="2.38" fill="url(#gHl)"/><circle cx="1546.86" cy="338.74" r="4.25" fill="url(#gOl)"/><circle cx="1545.71" cy="337.8" r="2.38" fill="url(#gHl)"/><circle cx="1551.19" cy="338.82" r="4.25" fill="url(#gOl)"/><circle cx="1550.04" cy="337.89" r="2.38" fill="url(#gHl)"/><circle cx="1555.52" cy="338.91" r="4.25" fill="url(#gOl)"/><circle cx="1554.37" cy="337.98" r="2.38" fill="url(#gHl)"/><circle cx="1559.85" cy="339" r="4.25" fill="url(#gOl)"/><circle cx="1558.7" cy="338.06" r="2.38" fill="url(#gHl)"/><circle cx="1564.18" cy="339.09" r="4.25" fill="url(#gOl)"/><circle cx="1563.03" cy="338.16" r="2.38" fill="url(#gHl)"/><circle cx="1568.51" cy="339.18" r="4.25" fill="url(#gOl)"/><circle cx="1567.36" cy="338.25" r="2.38" fill="url(#gHl)"/><circle cx="1572.84" cy="339.28" r="4.25" fill="url(#gOl)"/><circle cx="1571.69" cy="338.34" r="2.38" fill="url(#gHl)"/><circle cx="1577.17" cy="339.37" r="4.25" fill="url(#gOl)"/><circle cx="1576.02" cy="338.44" r="2.38" fill="url(#gHl)"/><circle cx="1581.5" cy="339.47" r="4.25" fill="url(#gOl)"/><circle cx="1580.35" cy="338.53" r="2.38" fill="url(#gHl)"/><circle cx="1585.83" cy="339.56" r="4.25" fill="url(#gOl)"/><circle cx="1584.68" cy="338.62" r="2.38" fill="url(#gHl)"/><circle cx="1590.16" cy="339.65" r="4.25" fill="url(#gOl)"/><circle cx="1589.01" cy="338.72" r="2.38" fill="url(#gHl)"/><circle cx="1594.49" cy="339.75" r="4.25" fill="url(#gOl)"/><circle cx="1593.34" cy="338.81" r="2.38" fill="url(#gHl)"/><circle cx="1598.82" cy="339.84" r="4.25" fill="url(#gOl)"/><circle cx="1597.67" cy="338.91" r="2.38" fill="url(#gHl)"/><circle cx="1603.15" cy="339.93" r="4.25" fill="url(#gOl)"/><circle cx="1602" cy="339" r="2.38" fill="url(#gHl)"/><circle cx="1607.48" cy="340.03" r="4.25" fill="url(#gOl)"/><circle cx="1606.33" cy="339.09" r="2.38" fill="url(#gHl)"/><circle cx="1611.81" cy="340.12" r="4.25" fill="url(#gOl)"/><circle cx="1610.66" cy="339.19" r="2.38" fill="url(#gHl)"/><circle cx="1616.14" cy="340.22" r="4.25" fill="url(#gOl)"/><circle cx="1614.99" cy="339.28" r="2.38" fill="url(#gHl)"/><circle cx="1620.47" cy="340.3" r="4.25" fill="url(#gOl)"/><circle cx="1619.32" cy="339.37" r="2.38" fill="url(#gHl)"/><circle cx="1624.8" cy="340.3" r="4.25" fill="url(#gOl)"/><circle cx="1623.65" cy="339.37" r="2.38" fill="url(#gHl)"/><circle cx="1629.13" cy="340.3" r="4.25" fill="url(#gOl)"/><circle cx="1627.98" cy="339.37" r="2.38" fill="url(#gHl)"/><circle cx="1633.46" cy="340.3" r="4.25" fill="url(#gOl)"/><circle cx="1632.31" cy="339.37" r="2.38" fill="url(#gHl)"/><circle cx="1637.79" cy="340.3" r="4.25" fill="url(#gOl)"/><circle cx="1636.64" cy="339.37" r="2.38" fill="url(#gHl)"/><circle cx="1642.12" cy="340.3" r="4.25" fill="url(#gOl)"/><circle cx="1640.97" cy="339.37" r="2.38" fill="url(#gHl)"/><circle cx="1646.45" cy="340.3" r="4.25" fill="url(#gOl)"/><circle cx="1645.3" cy="339.37" r="2.38" fill="url(#gHl)"/><circle cx="1650.78" cy="340.3" r="4.25" fill="url(#gOl)"/><circle cx="1649.63" cy="339.37" r="2.38" fill="url(#gHl)"/><circle cx="1655.11" cy="340.3" r="4.25" fill="url(#gOl)"/><circle cx="1653.96" cy="339.37" r="2.38" fill="url(#gHl)"/><circle cx="1659.44" cy="340.3" r="4.25" fill="url(#gOl)"/><circle cx="1658.29" cy="339.37" r="2.38" fill="url(#gHl)"/><circle cx="1663.77" cy="340.24" r="4.25" fill="url(#gOl)"/><circle cx="1662.62" cy="339.31" r="2.38" fill="url(#gHl)"/><circle cx="1668.1" cy="340.18" r="4.25" fill="url(#gOl)"/><circle cx="1666.95" cy="339.24" r="2.38" fill="url(#gHl)"/><circle cx="1672.43" cy="340.11" r="4.25" fill="url(#gOl)"/><circle cx="1671.28" cy="339.18" r="2.38" fill="url(#gHl)"/><circle cx="1676.76" cy="340.05" r="4.25" fill="url(#gOl)"/><circle cx="1675.61" cy="339.11" r="2.38" fill="url(#gHl)"/><circle cx="1681.09" cy="339.98" r="4.25" fill="url(#gOl)"/><circle cx="1679.94" cy="339.05" r="2.38" fill="url(#gHl)"/><circle cx="1685.42" cy="339.92" r="4.25" fill="url(#gOl)"/><circle cx="1684.27" cy="338.98" r="2.38" fill="url(#gHl)"/><circle cx="1689.75" cy="339.85" r="4.25" fill="url(#gOl)"/><circle cx="1688.6" cy="338.92" r="2.38" fill="url(#gHl)"/><circle cx="1694.08" cy="339.79" r="4.25" fill="url(#gOl)"/><circle cx="1692.93" cy="338.85" r="2.38" fill="url(#gHl)"/><circle cx="1698.41" cy="339.72" r="4.25" fill="url(#gOl)"/><circle cx="1697.26" cy="338.79" r="2.38" fill="url(#gHl)"/><circle cx="1702.74" cy="339.59" r="4.25" fill="url(#gOl)"/><circle cx="1701.59" cy="338.66" r="2.38" fill="url(#gHl)"/><circle cx="1707.07" cy="339.43" r="4.25" fill="url(#gOl)"/><circle cx="1705.92" cy="338.49" r="2.38" fill="url(#gHl)"/><circle cx="1711.4" cy="339.26" r="4.25" fill="url(#gOl)"/><circle cx="1710.25" cy="338.32" r="2.38" fill="url(#gHl)"/><circle cx="1715.73" cy="339.09" r="4.25" fill="url(#gOl)"/><circle cx="1714.58" cy="338.15" r="2.38" fill="url(#gHl)"/><circle cx="1720.06" cy="338.56" r="4.25" fill="url(#gOl)"/><circle cx="1718.91" cy="337.63" r="2.38" fill="url(#gHl)"/><circle cx="1724.39" cy="339.08" r="4.25" fill="url(#gOl)"/><circle cx="1723.24" cy="338.15" r="2.38" fill="url(#gHl)"/><circle cx="1728.72" cy="340.4" r="4.25" fill="url(#gOl)"/><circle cx="1727.57" cy="339.47" r="2.38" fill="url(#gHl)"/><circle cx="1733.05" cy="339.93" r="4.25" fill="url(#gOl)"/><circle cx="1731.9" cy="339" r="2.38" fill="url(#gHl)"/><circle cx="1737.38" cy="339.41" r="4.25" fill="url(#gOl)"/><circle cx="1736.23" cy="338.48" r="2.38" fill="url(#gHl)"/><circle cx="1741.71" cy="339.44" r="4.25" fill="url(#gOl)"/><circle cx="1740.56" cy="338.51" r="2.38" fill="url(#gHl)"/><circle cx="1746.04" cy="339.47" r="4.25" fill="url(#gOl)"/><circle cx="1744.89" cy="338.54" r="2.38" fill="url(#gHl)"/></g>
<rect x="1273.7" y="17.5" width="475.8" height="380.2" fill="none" stroke="#000" stroke-width="2.5" stroke-linejoin="miter"/>
<line x1="1317" y1="397.7" x2="1317" y2="390.7" stroke="#000" stroke-width="2.5" stroke-linecap="butt"/>
<line x1="1317" y1="17.5" x2="1317" y2="24.5" stroke="#000" stroke-width="2.5" stroke-linecap="butt"/>
<line x1="1403.6" y1="397.7" x2="1403.6" y2="390.7" stroke="#000" stroke-width="2.5" stroke-linecap="butt"/>
<line x1="1403.6" y1="17.5" x2="1403.6" y2="24.5" stroke="#000" stroke-width="2.5" stroke-linecap="butt"/>
<line x1="1490.2" y1="397.7" x2="1490.2" y2="390.7" stroke="#000" stroke-width="2.5" stroke-linecap="butt"/>
<line x1="1490.2" y1="17.5" x2="1490.2" y2="24.5" stroke="#000" stroke-width="2.5" stroke-linecap="butt"/>
<line x1="1576.8" y1="397.7" x2="1576.8" y2="390.7" stroke="#000" stroke-width="2.5" stroke-linecap="butt"/>
<line x1="1576.8" y1="17.5" x2="1576.8" y2="24.5" stroke="#000" stroke-width="2.5" stroke-linecap="butt"/>
<line x1="1663.4" y1="397.7" x2="1663.4" y2="390.7" stroke="#000" stroke-width="2.5" stroke-linecap="butt"/>
<line x1="1663.4" y1="17.5" x2="1663.4" y2="24.5" stroke="#000" stroke-width="2.5" stroke-linecap="butt"/>
<line x1="1360.3" y1="397.7" x2="1360.3" y2="394.2" stroke="#000" stroke-width="2.5" stroke-linecap="butt"/>
<line x1="1360.3" y1="17.5" x2="1360.3" y2="21" stroke="#000" stroke-width="2.5" stroke-linecap="butt"/>
<line x1="1446.9" y1="397.7" x2="1446.9" y2="394.2" stroke="#000" stroke-width="2.5" stroke-linecap="butt"/>
<line x1="1446.9" y1="17.5" x2="1446.9" y2="21" stroke="#000" stroke-width="2.5" stroke-linecap="butt"/>
<line x1="1533.5" y1="397.7" x2="1533.5" y2="394.2" stroke="#000" stroke-width="2.5" stroke-linecap="butt"/>
<line x1="1533.5" y1="17.5" x2="1533.5" y2="21" stroke="#000" stroke-width="2.5" stroke-linecap="butt"/>
<line x1="1620.1" y1="397.7" x2="1620.1" y2="394.2" stroke="#000" stroke-width="2.5" stroke-linecap="butt"/>
<line x1="1620.1" y1="17.5" x2="1620.1" y2="21" stroke="#000" stroke-width="2.5" stroke-linecap="butt"/>
<line x1="1706.7" y1="397.7" x2="1706.7" y2="394.2" stroke="#000" stroke-width="2.5" stroke-linecap="butt"/>
<line x1="1706.7" y1="17.5" x2="1706.7" y2="21" stroke="#000" stroke-width="2.5" stroke-linecap="butt"/>
<line x1="1273.7" y1="339.5" x2="1280.7" y2="339.5" stroke="#000" stroke-width="2.5" stroke-linecap="butt"/>
<line x1="1749.5" y1="339.5" x2="1742.5" y2="339.5" stroke="#000" stroke-width="2.5" stroke-linecap="butt"/>
<line x1="1273.7" y1="222.3" x2="1280.7" y2="222.3" stroke="#000" stroke-width="2.5" stroke-linecap="butt"/>
<line x1="1749.5" y1="222.3" x2="1742.5" y2="222.3" stroke="#000" stroke-width="2.5" stroke-linecap="butt"/>
<line x1="1273.7" y1="105.1" x2="1280.7" y2="105.1" stroke="#000" stroke-width="2.5" stroke-linecap="butt"/>
<line x1="1749.5" y1="105.1" x2="1742.5" y2="105.1" stroke="#000" stroke-width="2.5" stroke-linecap="butt"/>
<line x1="1273.7" y1="280.9" x2="1277.2" y2="280.9" stroke="#000" stroke-width="2.5" stroke-linecap="butt"/>
<line x1="1749.5" y1="280.9" x2="1746" y2="280.9" stroke="#000" stroke-width="2.5" stroke-linecap="butt"/>
<line x1="1273.7" y1="163.7" x2="1277.2" y2="163.7" stroke="#000" stroke-width="2.5" stroke-linecap="butt"/>
<line x1="1749.5" y1="163.7" x2="1746" y2="163.7" stroke="#000" stroke-width="2.5" stroke-linecap="butt"/>
<line x1="1273.7" y1="46.5" x2="1277.2" y2="46.5" stroke="#000" stroke-width="2.5" stroke-linecap="butt"/>
<line x1="1749.5" y1="46.5" x2="1746" y2="46.5" stroke="#000" stroke-width="2.5" stroke-linecap="butt"/>
<text x="1317" y="428.2" font-family="'Liberation Serif', 'Times New Roman', serif" font-size="29.5" font-weight="bold" text-anchor="middle" >0</text>
<text x="1403.6" y="428.2" font-family="'Liberation Serif', 'Times New Roman', serif" font-size="29.5" font-weight="bold" text-anchor="middle" >20</text>
<text x="1490.2" y="428.2" font-family="'Liberation Serif', 'Times New Roman', serif" font-size="29.5" font-weight="bold" text-anchor="middle" >40</text>
<text x="1576.8" y="428.2" font-family="'Liberation Serif', 'Times New Roman', serif" font-size="29.5" font-weight="bold" text-anchor="middle" >60</text>
<text x="1663.4" y="428.2" font-family="'Liberation Serif', 'Times New Roman', serif" font-size="29.5" font-weight="bold" text-anchor="middle" >80</text>
<text x="1750" y="428.2" font-family="'Liberation Serif', 'Times New Roman', serif" font-size="29.5" font-weight="bold" text-anchor="middle" >100</text>
<text x="1265" y="348.6" font-family="'Liberation Serif', 'Times New Roman', serif" font-size="29.5" font-weight="bold" text-anchor="end" >0.0</text>
<text x="1265" y="231.4" font-family="'Liberation Serif', 'Times New Roman', serif" font-size="29.5" font-weight="bold" text-anchor="end" >0.2</text>
<text x="1265" y="114.2" font-family="'Liberation Serif', 'Times New Roman', serif" font-size="29.5" font-weight="bold" text-anchor="end" >0.4</text>
<text x="1512.7" y="462.3" font-family="'Liberation Serif', 'Times New Roman', serif" font-size="33" font-weight="bold" text-anchor="middle" ><tspan font-style="italic">T</tspan> (K)</text>
<text x="0" y="0" transform="translate(1214,207.5) rotate(-90)" font-family="'Liberation Serif', 'Times New Roman', serif" font-size="33" font-weight="bold" text-anchor="middle" ><tspan font-style="italic">C</tspan><tspan font-style="italic" font-size="22" dy="7">mag</tspan><tspan dy="-7">/<tspan font-style="italic">T</tspan> (J.mol</tspan><tspan font-size="21" dy="-13.5">-1</tspan><tspan dy="13.5">.K</tspan><tspan font-size="21" dy="-13.5">-2</tspan><tspan dy="13.5">)</tspan></text>
<text x="1191.8" y="28.6" font-family="'Liberation Sans', Arial, sans-serif" font-size="38.3" font-weight="bold" text-anchor="start" >C</text>
<rect x="1472.8" y="57.7" width="243" height="193.3" fill="#fff"/>
<line x1="1472.8" y1="98.3" x2="1715.8" y2="98.3" stroke="#ff0000" stroke-width="3.4" stroke-dasharray="4.2,3.4"/>
<line x1="1501.8" y1="219.21" x2="1501.9" y2="217.69" stroke="#7f00ff" stroke-width="2" stroke-linecap="butt"/>
<line x1="1502.44" y1="207.71" x2="1502.46" y2="207.19" stroke="#7f00ff" stroke-width="2" stroke-linecap="butt"/>
<g><circle cx="1501.5" cy="224.2" r="4.2" fill="url(#gPu)"/><circle cx="1500.37" cy="223.28" r="2.35" fill="url(#gHl)"/><circle cx="1502.2" cy="212.7" r="4.2" fill="url(#gPu)"/><circle cx="1501.07" cy="211.78" r="2.35" fill="url(#gHl)"/><circle cx="1502.7" cy="202.2" r="4.2" fill="url(#gPu)"/><circle cx="1501.57" cy="201.28" r="2.35" fill="url(#gHl)"/><circle cx="1503.2" cy="193.2" r="4.2" fill="url(#gPu)"/><circle cx="1502.07" cy="192.28" r="2.35" fill="url(#gHl)"/><circle cx="1503.6" cy="185.1" r="4.2" fill="url(#gPu)"/><circle cx="1502.47" cy="184.18" r="2.35" fill="url(#gHl)"/><circle cx="1504.1" cy="178" r="4.2" fill="url(#gPu)"/><circle cx="1502.97" cy="177.08" r="2.35" fill="url(#gHl)"/><circle cx="1504.7" cy="171.5" r="4.2" fill="url(#gPu)"/><circle cx="1503.57" cy="170.58" r="2.35" fill="url(#gHl)"/><circle cx="1505.3" cy="165.6" r="4.2" fill="url(#gPu)"/><circle cx="1504.17" cy="164.68" r="2.35" fill="url(#gHl)"/><circle cx="1505.6" cy="160.2" r="4.2" fill="url(#gPu)"/><circle cx="1504.47" cy="159.28" r="2.35" fill="url(#gHl)"/><circle cx="1506.1" cy="154.7" r="4.2" fill="url(#gPu)"/><circle cx="1504.97" cy="153.78" r="2.35" fill="url(#gHl)"/><circle cx="1506.11" cy="154.65" r="4.2" fill="url(#gPu)"/><circle cx="1504.98" cy="153.73" r="2.35" fill="url(#gHl)"/><circle cx="1506.9" cy="150.62" r="4.2" fill="url(#gPu)"/><circle cx="1505.77" cy="149.7" r="2.35" fill="url(#gHl)"/><circle cx="1507.34" cy="147.17" r="4.2" fill="url(#gPu)"/><circle cx="1506.21" cy="146.25" r="2.35" fill="url(#gHl)"/><circle cx="1507.63" cy="144.06" r="4.2" fill="url(#gPu)"/><circle cx="1506.5" cy="143.13" r="2.35" fill="url(#gHl)"/><circle cx="1507.85" cy="141.17" r="4.2" fill="url(#gPu)"/><circle cx="1506.72" cy="140.25" r="2.35" fill="url(#gHl)"/><circle cx="1508.05" cy="138.46" r="4.2" fill="url(#gPu)"/><circle cx="1506.91" cy="137.54" r="2.35" fill="url(#gHl)"/><circle cx="1508.23" cy="135.9" r="4.2" fill="url(#gPu)"/><circle cx="1507.1" cy="134.98" r="2.35" fill="url(#gHl)"/><circle cx="1508.41" cy="133.5" r="4.2" fill="url(#gPu)"/><circle cx="1507.28" cy="132.57" r="2.35" fill="url(#gHl)"/><circle cx="1508.61" cy="131.23" r="4.2" fill="url(#gPu)"/><circle cx="1507.47" cy="130.31" r="2.35" fill="url(#gHl)"/><circle cx="1508.81" cy="129.13" r="4.2" fill="url(#gPu)"/><circle cx="1507.67" cy="128.2" r="2.35" fill="url(#gHl)"/><circle cx="1509.02" cy="127.19" r="4.2" fill="url(#gPu)"/><circle cx="1507.89" cy="126.26" r="2.35" fill="url(#gHl)"/><circle cx="1509.24" cy="125.42" r="4.2" fill="url(#gPu)"/><circle cx="1508.11" cy="124.49" r="2.35" fill="url(#gHl)"/><circle cx="1509.47" cy="123.83" r="4.2" fill="url(#gPu)"/><circle cx="1508.33" cy="122.9" r="2.35" fill="url(#gHl)"/><circle cx="1509.69" cy="122.42" r="4.2" fill="url(#gPu)"/><circle cx="1508.55" cy="121.49" r="2.35" fill="url(#gHl)"/><circle cx="1509.9" cy="121.18" r="4.2" fill="url(#gPu)"/><circle cx="1508.77" cy="120.26" r="2.35" fill="url(#gHl)"/><circle cx="1510.1" cy="120.12" r="4.2" fill="url(#gPu)"/><circle cx="1508.97" cy="119.2" r="2.35" fill="url(#gHl)"/><circle cx="1510.3" cy="119.14" r="4.2" fill="url(#gPu)"/><circle cx="1509.17" cy="118.22" r="2.35" fill="url(#gHl)"/><circle cx="1510.51" cy="118.17" r="4.2" fill="url(#gPu)"/><circle cx="1509.38" cy="117.25" r="2.35" fill="url(#gHl)"/><circle cx="1510.74" cy="117.2" r="4.2" fill="url(#gPu)"/><circle cx="1509.61" cy="116.28" r="2.35" fill="url(#gHl)"/><circle cx="1510.98" cy="116.24" r="4.2" fill="url(#gPu)"/><circle cx="1509.85" cy="115.32" r="2.35" fill="url(#gHl)"/><circle cx="1511.24" cy="115.28" r="4.2" fill="url(#gPu)"/><circle cx="1510.11" cy="114.36" r="2.35" fill="url(#gHl)"/><circle cx="1511.52" cy="114.34" r="4.2" fill="url(#gPu)"/><circle cx="1510.39" cy="113.41" r="2.35" fill="url(#gHl)"/><circle cx="1511.82" cy="113.4" r="4.2" fill="url(#gPu)"/><circle cx="1510.68" cy="112.47" r="2.35" fill="url(#gHl)"/><circle cx="1512.13" cy="112.47" r="4.2" fill="url(#gPu)"/><circle cx="1511" cy="111.54" r="2.35" fill="url(#gHl)"/><circle cx="1512.46" cy="111.55" r="4.2" fill="url(#gPu)"/><circle cx="1511.33" cy="110.62" r="2.35" fill="url(#gHl)"/><circle cx="1512.82" cy="110.64" r="4.2" fill="url(#gPu)"/><circle cx="1511.69" cy="109.71" r="2.35" fill="url(#gHl)"/><circle cx="1513.2" cy="109.74" r="4.2" fill="url(#gPu)"/><circle cx="1512.06" cy="108.82" r="2.35" fill="url(#gHl)"/><circle cx="1513.6" cy="108.86" r="4.2" fill="url(#gPu)"/><circle cx="1512.46" cy="107.94" r="2.35" fill="url(#gHl)"/><circle cx="1514.02" cy="107.99" r="4.2" fill="url(#gPu)"/><circle cx="1512.88" cy="107.07" r="2.35" fill="url(#gHl)"/><circle cx="1514.46" cy="107.14" r="4.2" fill="url(#gPu)"/><circle cx="1513.33" cy="106.22" r="2.35" fill="url(#gHl)"/><circle cx="1514.93" cy="106.31" r="4.2" fill="url(#gPu)"/><circle cx="1513.79" cy="105.38" r="2.35" fill="url(#gHl)"/><circle cx="1515.42" cy="105.49" r="4.2" fill="url(#gPu)"/><circle cx="1514.28" cy="104.57" r="2.35" fill="url(#gHl)"/><circle cx="1515.93" cy="104.7" r="4.2" fill="url(#gPu)"/><circle cx="1514.79" cy="103.77" r="2.35" fill="url(#gHl)"/><circle cx="1516.46" cy="103.92" r="4.2" fill="url(#gPu)"/><circle cx="1515.32" cy="103" r="2.35" fill="url(#gHl)"/><circle cx="1517.01" cy="103.17" r="4.2" fill="url(#gPu)"/><circle cx="1515.88" cy="102.24" r="2.35" fill="url(#gHl)"/><circle cx="1517.59" cy="102.44" r="4.2" fill="url(#gPu)"/><circle cx="1516.46" cy="101.52" r="2.35" fill="url(#gHl)"/><circle cx="1518.19" cy="101.74" r="4.2" fill="url(#gPu)"/><circle cx="1517.06" cy="100.81" r="2.35" fill="url(#gHl)"/><circle cx="1518.81" cy="101.06" r="4.2" fill="url(#gPu)"/><circle cx="1517.68" cy="100.14" r="2.35" fill="url(#gHl)"/><circle cx="1519.45" cy="100.41" r="4.2" fill="url(#gPu)"/><circle cx="1518.32" cy="99.49" r="2.35" fill="url(#gHl)"/><circle cx="1520.12" cy="99.8" r="4.2" fill="url(#gPu)"/><circle cx="1518.98" cy="98.87" r="2.35" fill="url(#gHl)"/><circle cx="1520.8" cy="99.21" r="4.2" fill="url(#gPu)"/><circle cx="1519.67" cy="98.29" r="2.35" fill="url(#gHl)"/><circle cx="1521.5" cy="98.67" r="4.2" fill="url(#gPu)"/><circle cx="1520.37" cy="97.74" r="2.35" fill="url(#gHl)"/><circle cx="1522.23" cy="98.15" r="4.2" fill="url(#gPu)"/><circle cx="1521.09" cy="97.23" r="2.35" fill="url(#gHl)"/><circle cx="1522.97" cy="97.68" r="4.2" fill="url(#gPu)"/><circle cx="1521.83" cy="96.76" r="2.35" fill="url(#gHl)"/><circle cx="1523.72" cy="97.26" r="4.2" fill="url(#gPu)"/><circle cx="1522.59" cy="96.33" r="2.35" fill="url(#gHl)"/><circle cx="1524.5" cy="96.87" r="4.2" fill="url(#gPu)"/><circle cx="1523.36" cy="95.95" r="2.35" fill="url(#gHl)"/><circle cx="1525.28" cy="96.53" r="4.2" fill="url(#gPu)"/><circle cx="1524.15" cy="95.61" r="2.35" fill="url(#gHl)"/><circle cx="1526.08" cy="96.24" r="4.2" fill="url(#gPu)"/><circle cx="1524.94" cy="95.32" r="2.35" fill="url(#gHl)"/><circle cx="1526.88" cy="96" r="4.2" fill="url(#gPu)"/><circle cx="1525.75" cy="95.07" r="2.35" fill="url(#gHl)"/><circle cx="1527.69" cy="95.8" r="4.2" fill="url(#gPu)"/><circle cx="1526.55" cy="94.88" r="2.35" fill="url(#gHl)"/><circle cx="1528.5" cy="95.66" r="4.2" fill="url(#gPu)"/><circle cx="1527.36" cy="94.73" r="2.35" fill="url(#gHl)"/><circle cx="1529.31" cy="95.56" r="4.2" fill="url(#gPu)"/><circle cx="1528.17" cy="94.63" r="2.35" fill="url(#gHl)"/><circle cx="1530.11" cy="95.51" r="4.2" fill="url(#gPu)"/><circle cx="1528.98" cy="94.59" r="2.35" fill="url(#gHl)"/><circle cx="1530.92" cy="95.51" r="4.2" fill="url(#gPu)"/><circle cx="1529.79" cy="94.58" r="2.35" fill="url(#gHl)"/><circle cx="1531.78" cy="95.55" r="4.2" fill="url(#gPu)"/><circle cx="1530.65" cy="94.63" r="2.35" fill="url(#gHl)"/><circle cx="1532.7" cy="95.65" r="4.2" fill="url(#gPu)"/><circle cx="1531.57" cy="94.72" r="2.35" fill="url(#gHl)"/><circle cx="1533.68" cy="95.8" r="4.2" fill="url(#gPu)"/><circle cx="1532.55" cy="94.87" r="2.35" fill="url(#gHl)"/><circle cx="1534.72" cy="96" r="4.2" fill="url(#gPu)"/><circle cx="1533.58" cy="95.08" r="2.35" fill="url(#gHl)"/><circle cx="1535.82" cy="96.26" r="4.2" fill="url(#gPu)"/><circle cx="1534.68" cy="95.33" r="2.35" fill="url(#gHl)"/><circle cx="1536.98" cy="96.57" r="4.2" fill="url(#gPu)"/><circle cx="1535.85" cy="95.64" r="2.35" fill="url(#gHl)"/><circle cx="1538.22" cy="96.93" r="4.2" fill="url(#gPu)"/><circle cx="1537.09" cy="96.01" r="2.35" fill="url(#gHl)"/><circle cx="1539.53" cy="97.34" r="4.2" fill="url(#gPu)"/><circle cx="1538.4" cy="96.42" r="2.35" fill="url(#gHl)"/><circle cx="1540.93" cy="97.8" r="4.2" fill="url(#gPu)"/><circle cx="1539.8" cy="96.87" r="2.35" fill="url(#gHl)"/><circle cx="1542.44" cy="98.29" r="4.2" fill="url(#gPu)"/><circle cx="1541.31" cy="97.37" r="2.35" fill="url(#gHl)"/><circle cx="1544.11" cy="98.82" r="4.2" fill="url(#gPu)"/><circle cx="1542.97" cy="97.9" r="2.35" fill="url(#gHl)"/><circle cx="1545.94" cy="99.36" r="4.2" fill="url(#gPu)"/><circle cx="1544.8" cy="98.44" r="2.35" fill="url(#gHl)"/><circle cx="1547.87" cy="99.86" r="4.2" fill="url(#gPu)"/><circle cx="1546.74" cy="98.94" r="2.35" fill="url(#gHl)"/><circle cx="1549.84" cy="100.25" r="4.2" fill="url(#gPu)"/><circle cx="1548.7" cy="99.33" r="2.35" fill="url(#gHl)"/><circle cx="1551.81" cy="100.54" r="4.2" fill="url(#gPu)"/><circle cx="1550.68" cy="99.61" r="2.35" fill="url(#gHl)"/><circle cx="1553.81" cy="100.72" r="4.2" fill="url(#gPu)"/><circle cx="1552.67" cy="99.8" r="2.35" fill="url(#gHl)"/><circle cx="1555.8" cy="100.81" r="4.2" fill="url(#gPu)"/><circle cx="1554.67" cy="99.89" r="2.35" fill="url(#gHl)"/><circle cx="1557.8" cy="100.82" r="4.2" fill="url(#gPu)"/><circle cx="1556.67" cy="99.9" r="2.35" fill="url(#gHl)"/><circle cx="1559.8" cy="100.76" r="4.2" fill="url(#gPu)"/><circle cx="1558.67" cy="99.84" r="2.35" fill="url(#gHl)"/><circle cx="1561.8" cy="100.64" r="4.2" fill="url(#gPu)"/><circle cx="1560.67" cy="99.72" r="2.35" fill="url(#gHl)"/><circle cx="1563.79" cy="100.48" r="4.2" fill="url(#gPu)"/><circle cx="1562.66" cy="99.55" r="2.35" fill="url(#gHl)"/><circle cx="1565.78" cy="100.28" r="4.2" fill="url(#gPu)"/><circle cx="1564.65" cy="99.36" r="2.35" fill="url(#gHl)"/><circle cx="1567.77" cy="100.06" r="4.2" fill="url(#gPu)"/><circle cx="1566.64" cy="99.14" r="2.35" fill="url(#gHl)"/><circle cx="1569.76" cy="99.83" r="4.2" fill="url(#gPu)"/><circle cx="1568.62" cy="98.91" r="2.35" fill="url(#gHl)"/><circle cx="1571.74" cy="99.6" r="4.2" fill="url(#gPu)"/><circle cx="1570.61" cy="98.68" r="2.35" fill="url(#gHl)"/><circle cx="1573.73" cy="99.39" r="4.2" fill="url(#gPu)"/><circle cx="1572.6" cy="98.46" r="2.35" fill="url(#gHl)"/><circle cx="1575.72" cy="99.18" r="4.2" fill="url(#gPu)"/><circle cx="1574.59" cy="98.26" r="2.35" fill="url(#gHl)"/><circle cx="1577.71" cy="98.99" r="4.2" fill="url(#gPu)"/><circle cx="1576.58" cy="98.07" r="2.35" fill="url(#gHl)"/><circle cx="1579.7" cy="98.81" r="4.2" fill="url(#gPu)"/><circle cx="1578.57" cy="97.89" r="2.35" fill="url(#gHl)"/><circle cx="1581.7" cy="98.64" r="4.2" fill="url(#gPu)"/><circle cx="1580.56" cy="97.72" r="2.35" fill="url(#gHl)"/><circle cx="1583.69" cy="98.48" r="4.2" fill="url(#gPu)"/><circle cx="1582.56" cy="97.56" r="2.35" fill="url(#gHl)"/><circle cx="1585.69" cy="98.33" r="4.2" fill="url(#gPu)"/><circle cx="1584.55" cy="97.41" r="2.35" fill="url(#gHl)"/><circle cx="1587.68" cy="98.19" r="4.2" fill="url(#gPu)"/><circle cx="1586.55" cy="97.27" r="2.35" fill="url(#gHl)"/><circle cx="1589.68" cy="98.07" r="4.2" fill="url(#gPu)"/><circle cx="1588.54" cy="97.14" r="2.35" fill="url(#gHl)"/><circle cx="1591.67" cy="97.95" r="4.2" fill="url(#gPu)"/><circle cx="1590.54" cy="97.02" r="2.35" fill="url(#gHl)"/><circle cx="1593.67" cy="97.84" r="4.2" fill="url(#gPu)"/><circle cx="1592.54" cy="96.91" r="2.35" fill="url(#gHl)"/><circle cx="1595.67" cy="97.74" r="4.2" fill="url(#gPu)"/><circle cx="1594.53" cy="96.81" r="2.35" fill="url(#gHl)"/><circle cx="1597.67" cy="97.65" r="4.2" fill="url(#gPu)"/><circle cx="1596.53" cy="96.72" r="2.35" fill="url(#gHl)"/><circle cx="1599.66" cy="97.57" r="4.2" fill="url(#gPu)"/><circle cx="1598.53" cy="96.64" r="2.35" fill="url(#gHl)"/><circle cx="1601.66" cy="97.49" r="4.2" fill="url(#gPu)"/><circle cx="1600.53" cy="96.57" r="2.35" fill="url(#gHl)"/><circle cx="1603.66" cy="97.42" r="4.2" fill="url(#gPu)"/><circle cx="1602.53" cy="96.5" r="2.35" fill="url(#gHl)"/><circle cx="1605.66" cy="97.37" r="4.2" fill="url(#gPu)"/><circle cx="1604.53" cy="96.44" r="2.35" fill="url(#gHl)"/><circle cx="1607.66" cy="97.32" r="4.2" fill="url(#gPu)"/><circle cx="1606.53" cy="96.39" r="2.35" fill="url(#gHl)"/><circle cx="1609.66" cy="97.27" r="4.2" fill="url(#gPu)"/><circle cx="1608.53" cy="96.35" r="2.35" fill="url(#gHl)"/><circle cx="1611.66" cy="97.23" r="4.2" fill="url(#gPu)"/><circle cx="1610.53" cy="96.31" r="2.35" fill="url(#gHl)"/><circle cx="1613.66" cy="97.2" r="4.2" fill="url(#gPu)"/><circle cx="1612.52" cy="96.28" r="2.35" fill="url(#gHl)"/><circle cx="1615.66" cy="97.18" r="4.2" fill="url(#gPu)"/><circle cx="1614.52" cy="96.25" r="2.35" fill="url(#gHl)"/><circle cx="1617.66" cy="97.16" r="4.2" fill="url(#gPu)"/><circle cx="1616.52" cy="96.24" r="2.35" fill="url(#gHl)"/><circle cx="1619.66" cy="97.15" r="4.2" fill="url(#gPu)"/><circle cx="1618.52" cy="96.22" r="2.35" fill="url(#gHl)"/><circle cx="1621.66" cy="97.14" r="4.2" fill="url(#gPu)"/><circle cx="1620.52" cy="96.21" r="2.35" fill="url(#gHl)"/><circle cx="1623.66" cy="97.14" r="4.2" fill="url(#gPu)"/><circle cx="1622.52" cy="96.21" r="2.35" fill="url(#gHl)"/><circle cx="1625.66" cy="97.14" r="4.2" fill="url(#gPu)"/><circle cx="1624.52" cy="96.21" r="2.35" fill="url(#gHl)"/><circle cx="1627.66" cy="97.14" r="4.2" fill="url(#gPu)"/><circle cx="1626.52" cy="96.22" r="2.35" fill="url(#gHl)"/><circle cx="1629.66" cy="97.16" r="4.2" fill="url(#gPu)"/><circle cx="1628.52" cy="96.23" r="2.35" fill="url(#gHl)"/><circle cx="1631.66" cy="97.17" r="4.2" fill="url(#gPu)"/><circle cx="1630.52" cy="96.25" r="2.35" fill="url(#gHl)"/><circle cx="1633.66" cy="97.19" r="4.2" fill="url(#gPu)"/><circle cx="1632.52" cy="96.26" r="2.35" fill="url(#gHl)"/><circle cx="1635.66" cy="97.21" r="4.2" fill="url(#gPu)"/><circle cx="1634.52" cy="96.29" r="2.35" fill="url(#gHl)"/><circle cx="1637.66" cy="97.23" r="4.2" fill="url(#gPu)"/><circle cx="1636.52" cy="96.31" r="2.35" fill="url(#gHl)"/><circle cx="1639.66" cy="97.26" r="4.2" fill="url(#gPu)"/><circle cx="1638.52" cy="96.34" r="2.35" fill="url(#gHl)"/><circle cx="1641.66" cy="97.29" r="4.2" fill="url(#gPu)"/><circle cx="1640.52" cy="96.37" r="2.35" fill="url(#gHl)"/><circle cx="1643.66" cy="97.32" r="4.2" fill="url(#gPu)"/><circle cx="1642.52" cy="96.4" r="2.35" fill="url(#gHl)"/><circle cx="1645.66" cy="97.36" r="4.2" fill="url(#gPu)"/><circle cx="1644.52" cy="96.43" r="2.35" fill="url(#gHl)"/><circle cx="1647.66" cy="97.39" r="4.2" fill="url(#gPu)"/><circle cx="1646.52" cy="96.47" r="2.35" fill="url(#gHl)"/><circle cx="1649.66" cy="97.43" r="4.2" fill="url(#gPu)"/><circle cx="1648.52" cy="96.51" r="2.35" fill="url(#gHl)"/><circle cx="1651.66" cy="97.47" r="4.2" fill="url(#gPu)"/><circle cx="1650.52" cy="96.55" r="2.35" fill="url(#gHl)"/><circle cx="1653.66" cy="97.51" r="4.2" fill="url(#gPu)"/><circle cx="1652.52" cy="96.59" r="2.35" fill="url(#gHl)"/><circle cx="1655.66" cy="97.55" r="4.2" fill="url(#gPu)"/><circle cx="1654.52" cy="96.63" r="2.35" fill="url(#gHl)"/><circle cx="1657.65" cy="97.59" r="4.2" fill="url(#gPu)"/><circle cx="1656.52" cy="96.67" r="2.35" fill="url(#gHl)"/><circle cx="1659.65" cy="97.63" r="4.2" fill="url(#gPu)"/><circle cx="1658.52" cy="96.71" r="2.35" fill="url(#gHl)"/><circle cx="1661.65" cy="97.67" r="4.2" fill="url(#gPu)"/><circle cx="1660.52" cy="96.75" r="2.35" fill="url(#gHl)"/><circle cx="1663.65" cy="97.71" r="4.2" fill="url(#gPu)"/><circle cx="1662.52" cy="96.78" r="2.35" fill="url(#gHl)"/><circle cx="1665.65" cy="97.75" r="4.2" fill="url(#gPu)"/><circle cx="1664.52" cy="96.82" r="2.35" fill="url(#gHl)"/><circle cx="1667.65" cy="97.78" r="4.2" fill="url(#gPu)"/><circle cx="1666.52" cy="96.86" r="2.35" fill="url(#gHl)"/><circle cx="1669.65" cy="97.82" r="4.2" fill="url(#gPu)"/><circle cx="1668.52" cy="96.9" r="2.35" fill="url(#gHl)"/><circle cx="1671.65" cy="97.85" r="4.2" fill="url(#gPu)"/><circle cx="1670.52" cy="96.93" r="2.35" fill="url(#gHl)"/><circle cx="1673.65" cy="97.89" r="4.2" fill="url(#gPu)"/><circle cx="1672.52" cy="96.96" r="2.35" fill="url(#gHl)"/><circle cx="1675.65" cy="97.92" r="4.2" fill="url(#gPu)"/><circle cx="1674.52" cy="96.99" r="2.35" fill="url(#gHl)"/><circle cx="1677.65" cy="97.94" r="4.2" fill="url(#gPu)"/><circle cx="1676.52" cy="97.02" r="2.35" fill="url(#gHl)"/><circle cx="1679.65" cy="97.97" r="4.2" fill="url(#gPu)"/><circle cx="1678.52" cy="97.05" r="2.35" fill="url(#gHl)"/><circle cx="1681.65" cy="97.99" r="4.2" fill="url(#gPu)"/><circle cx="1680.52" cy="97.07" r="2.35" fill="url(#gHl)"/><circle cx="1683.65" cy="98.01" r="4.2" fill="url(#gPu)"/><circle cx="1682.52" cy="97.09" r="2.35" fill="url(#gHl)"/><circle cx="1685.65" cy="98.02" r="4.2" fill="url(#gPu)"/><circle cx="1684.52" cy="97.1" r="2.35" fill="url(#gHl)"/><circle cx="1687.65" cy="98.04" r="4.2" fill="url(#gPu)"/><circle cx="1686.52" cy="97.11" r="2.35" fill="url(#gHl)"/><circle cx="1689.65" cy="98.04" r="4.2" fill="url(#gPu)"/><circle cx="1688.52" cy="97.12" r="2.35" fill="url(#gHl)"/><circle cx="1691.65" cy="98.04" r="4.2" fill="url(#gPu)"/><circle cx="1690.52" cy="97.12" r="2.35" fill="url(#gHl)"/><circle cx="1693.65" cy="98.04" r="4.2" fill="url(#gPu)"/><circle cx="1692.52" cy="97.12" r="2.35" fill="url(#gHl)"/><circle cx="1695.65" cy="98.03" r="4.2" fill="url(#gPu)"/><circle cx="1694.52" cy="97.11" r="2.35" fill="url(#gHl)"/><circle cx="1697.65" cy="98.02" r="4.2" fill="url(#gPu)"/><circle cx="1696.52" cy="97.1" r="2.35" fill="url(#gHl)"/><circle cx="1699.65" cy="98" r="4.2" fill="url(#gPu)"/><circle cx="1698.52" cy="97.08" r="2.35" fill="url(#gHl)"/><circle cx="1701.65" cy="97.98" r="4.2" fill="url(#gPu)"/><circle cx="1700.52" cy="97.05" r="2.35" fill="url(#gHl)"/><circle cx="1703.65" cy="97.95" r="4.2" fill="url(#gPu)"/><circle cx="1702.52" cy="97.02" r="2.35" fill="url(#gHl)"/><circle cx="1705.65" cy="97.91" r="4.2" fill="url(#gPu)"/><circle cx="1704.52" cy="96.98" r="2.35" fill="url(#gHl)"/><circle cx="1707.65" cy="97.86" r="4.2" fill="url(#gPu)"/><circle cx="1706.52" cy="96.94" r="2.35" fill="url(#gHl)"/><circle cx="1709.65" cy="97.81" r="4.2" fill="url(#gPu)"/><circle cx="1708.52" cy="96.89" r="2.35" fill="url(#gHl)"/><circle cx="1711.65" cy="97.75" r="4.2" fill="url(#gPu)"/><circle cx="1710.51" cy="96.83" r="2.35" fill="url(#gHl)"/><circle cx="1713.65" cy="97.69" r="4.2" fill="url(#gPu)"/><circle cx="1712.51" cy="96.76" r="2.35" fill="url(#gHl)"/></g>
<rect x="1472.8" y="57.7" width="243" height="193.3" fill="none" stroke="#000" stroke-width="2.5" stroke-linejoin="miter"/>
<line x1="1494.8" y1="251" x2="1494.8" y2="245" stroke="#000" stroke-width="2.5" stroke-linecap="butt"/>
<line x1="1494.8" y1="57.7" x2="1494.8" y2="63.7" stroke="#000" stroke-width="2.5" stroke-linecap="butt"/>
<line x1="1549.9" y1="251" x2="1549.9" y2="245" stroke="#000" stroke-width="2.5" stroke-linecap="butt"/>
<line x1="1549.9" y1="57.7" x2="1549.9" y2="63.7" stroke="#000" stroke-width="2.5" stroke-linecap="butt"/>
<line x1="1605" y1="251" x2="1605" y2="245" stroke="#000" stroke-width="2.5" stroke-linecap="butt"/>
<line x1="1605" y1="57.7" x2="1605" y2="63.7" stroke="#000" stroke-width="2.5" stroke-linecap="butt"/>
<line x1="1660.1" y1="251" x2="1660.1" y2="245" stroke="#000" stroke-width="2.5" stroke-linecap="butt"/>
<line x1="1660.1" y1="57.7" x2="1660.1" y2="63.7" stroke="#000" stroke-width="2.5" stroke-linecap="butt"/>
<line x1="1522.35" y1="251" x2="1522.35" y2="248" stroke="#000" stroke-width="2.5" stroke-linecap="butt"/>
<line x1="1522.35" y1="57.7" x2="1522.35" y2="60.7" stroke="#000" stroke-width="2.5" stroke-linecap="butt"/>
<line x1="1577.45" y1="251" x2="1577.45" y2="248" stroke="#000" stroke-width="2.5" stroke-linecap="butt"/>
<line x1="1577.45" y1="57.7" x2="1577.45" y2="60.7" stroke="#000" stroke-width="2.5" stroke-linecap="butt"/>
<line x1="1632.55" y1="251" x2="1632.55" y2="248" stroke="#000" stroke-width="2.5" stroke-linecap="butt"/>
<line x1="1632.55" y1="57.7" x2="1632.55" y2="60.7" stroke="#000" stroke-width="2.5" stroke-linecap="butt"/>
<line x1="1687.65" y1="251" x2="1687.65" y2="248" stroke="#000" stroke-width="2.5" stroke-linecap="butt"/>
<line x1="1687.65" y1="57.7" x2="1687.65" y2="60.7" stroke="#000" stroke-width="2.5" stroke-linecap="butt"/>
<line x1="1472.8" y1="223.7" x2="1478.8" y2="223.7" stroke="#000" stroke-width="2.5" stroke-linecap="butt"/>
<line x1="1715.8" y1="223.7" x2="1709.8" y2="223.7" stroke="#000" stroke-width="2.5" stroke-linecap="butt"/>
<line x1="1472.8" y1="168.3" x2="1478.8" y2="168.3" stroke="#000" stroke-width="2.5" stroke-linecap="butt"/>
<line x1="1715.8" y1="168.3" x2="1709.8" y2="168.3" stroke="#000" stroke-width="2.5" stroke-linecap="butt"/>
<line x1="1472.8" y1="112.9" x2="1478.8" y2="112.9" stroke="#000" stroke-width="2.5" stroke-linecap="butt"/>
<line x1="1715.8" y1="112.9" x2="1709.8" y2="112.9" stroke="#000" stroke-width="2.5" stroke-linecap="butt"/>
<line x1="1472.8" y1="196" x2="1475.8" y2="196" stroke="#000" stroke-width="2.5" stroke-linecap="butt"/>
<line x1="1715.8" y1="196" x2="1712.8" y2="196" stroke="#000" stroke-width="2.5" stroke-linecap="butt"/>
<line x1="1472.8" y1="140.6" x2="1475.8" y2="140.6" stroke="#000" stroke-width="2.5" stroke-linecap="butt"/>
<line x1="1715.8" y1="140.6" x2="1712.8" y2="140.6" stroke="#000" stroke-width="2.5" stroke-linecap="butt"/>
<line x1="1472.8" y1="85.2" x2="1475.8" y2="85.2" stroke="#000" stroke-width="2.5" stroke-linecap="butt"/>
<line x1="1715.8" y1="85.2" x2="1712.8" y2="85.2" stroke="#000" stroke-width="2.5" stroke-linecap="butt"/>
<text x="1494.8" y="278.6" font-family="'Liberation Serif', 'Times New Roman', serif" font-size="23.5" font-weight="bold" text-anchor="middle" >0</text>
<text x="1549.9" y="278.6" font-family="'Liberation Serif', 'Times New Roman', serif" font-size="23.5" font-weight="bold" text-anchor="middle" >25</text>
<text x="1605" y="278.6" font-family="'Liberation Serif', 'Times New Roman', serif" font-size="23.5" font-weight="bold" text-anchor="middle" >50</text>
<text x="1660.1" y="278.6" font-family="'Liberation Serif', 'Times New Roman', serif" font-size="23.5" font-weight="bold" text-anchor="middle" >75</text>
<text x="1715.2" y="278.6" font-family="'Liberation Serif', 'Times New Roman', serif" font-size="23.5" font-weight="bold" text-anchor="middle" >100</text>
<text x="1463.6" y="231.5" font-family="'Liberation Serif', 'Times New Roman', serif" font-size="23.5" font-weight="bold" text-anchor="end" >0.0</text>
<text x="1463.6" y="176.1" font-family="'Liberation Serif', 'Times New Roman', serif" font-size="23.5" font-weight="bold" text-anchor="end" >0.5</text>
<text x="1463.6" y="120.7" font-family="'Liberation Serif', 'Times New Roman', serif" font-size="23.5" font-weight="bold" text-anchor="end" >1.0</text>
<text x="1463.6" y="65.3" font-family="'Liberation Serif', 'Times New Roman', serif" font-size="23.5" font-weight="bold" text-anchor="end" >1.5</text>
<text x="1595" y="308.7" font-family="'Liberation Serif', 'Times New Roman', serif" font-size="26.5" font-weight="bold" text-anchor="middle" ><tspan font-style="italic">T</tspan> (K)</text>
<text x="0" y="0" transform="translate(1420.5,145) rotate(-90)" font-family="'Liberation Serif', 'Times New Roman', serif" font-size="23.5" font-weight="bold" text-anchor="middle" ><tspan font-style="italic">ΔS</tspan><tspan font-style="italic" font-size="17" dy="5">mag</tspan><tspan dy="-5"> (J. mol</tspan><tspan font-size="16" dy="-9">-1</tspan><tspan dy="9">. K</tspan><tspan font-size="16" dy="-9">-1</tspan><tspan dy="9">)</tspan></text></svg></body></html>
